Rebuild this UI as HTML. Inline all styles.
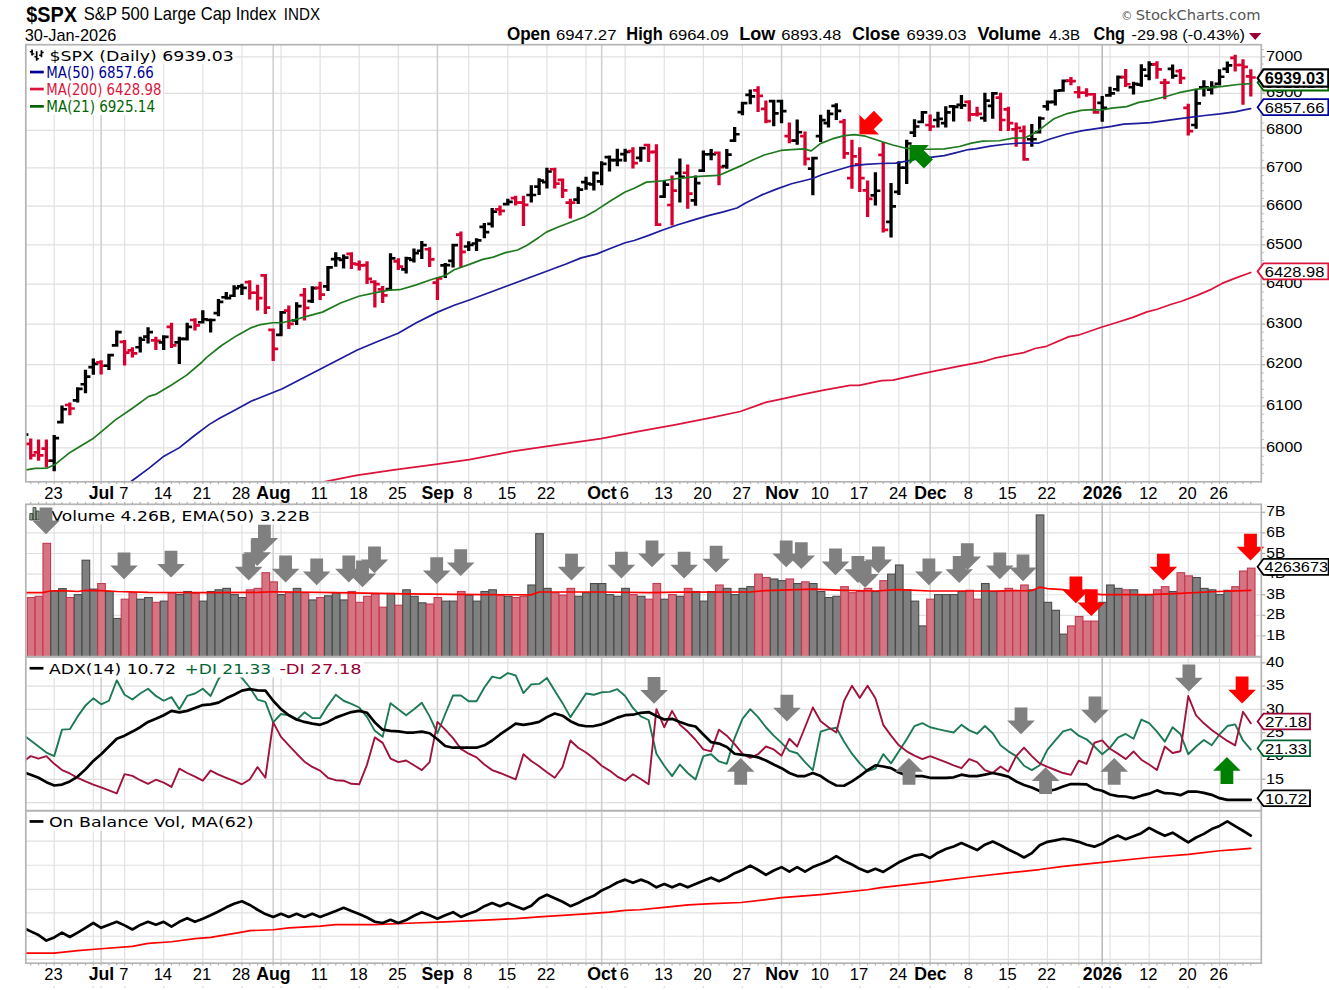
<!DOCTYPE html>
<html lang="en"><head><meta charset="utf-8"><title>$SPX S&amp;P 500 Large Cap Index - StockCharts.com</title>
<style>html,body{margin:0;padding:0;background:#fff}svg{display:block}</style></head>
<body>
<svg width="1329" height="990" viewBox="0 0 1329 990">
<rect x="0" y="0" width="1329" height="990" fill="#fff"/>
<g id="main">
<line x1="25.8" y1="447.88" x2="1261.3" y2="447.88" stroke="#e0e0e0" stroke-width="1.15"/>
<line x1="25.8" y1="405.95" x2="1261.3" y2="405.95" stroke="#e0e0e0" stroke-width="1.15"/>
<line x1="25.8" y1="364.69" x2="1261.3" y2="364.69" stroke="#e0e0e0" stroke-width="1.15"/>
<line x1="25.8" y1="324.1" x2="1261.3" y2="324.1" stroke="#e0e0e0" stroke-width="1.15"/>
<line x1="25.8" y1="284.15" x2="1261.3" y2="284.15" stroke="#e0e0e0" stroke-width="1.15"/>
<line x1="25.8" y1="244.81" x2="1261.3" y2="244.81" stroke="#e0e0e0" stroke-width="1.15"/>
<line x1="25.8" y1="206.08" x2="1261.3" y2="206.08" stroke="#e0e0e0" stroke-width="1.15"/>
<line x1="25.8" y1="167.93" x2="1261.3" y2="167.93" stroke="#e0e0e0" stroke-width="1.15"/>
<line x1="25.8" y1="130.34" x2="1261.3" y2="130.34" stroke="#e0e0e0" stroke-width="1.15"/>
<line x1="25.8" y1="93.3" x2="1261.3" y2="93.3" stroke="#e0e0e0" stroke-width="1.15"/>
<line x1="25.8" y1="56.8" x2="1261.3" y2="56.8" stroke="#e0e0e0" stroke-width="1.15"/>
<line x1="54.2" y1="44.7" x2="54.2" y2="481.8" stroke="#e0e0e0" stroke-width="1.15"/>
<line x1="93.31" y1="44.7" x2="93.31" y2="481.8" stroke="#e0e0e0" stroke-width="1.15"/>
<line x1="124.59" y1="44.7" x2="124.59" y2="481.8" stroke="#e0e0e0" stroke-width="1.15"/>
<line x1="163.69" y1="44.7" x2="163.69" y2="481.8" stroke="#e0e0e0" stroke-width="1.15"/>
<line x1="202.8" y1="44.7" x2="202.8" y2="481.8" stroke="#e0e0e0" stroke-width="1.15"/>
<line x1="241.9" y1="44.7" x2="241.9" y2="481.8" stroke="#e0e0e0" stroke-width="1.15"/>
<line x1="281.01" y1="44.7" x2="281.01" y2="481.8" stroke="#e0e0e0" stroke-width="1.15"/>
<line x1="320.11" y1="44.7" x2="320.11" y2="481.8" stroke="#e0e0e0" stroke-width="1.15"/>
<line x1="359.22" y1="44.7" x2="359.22" y2="481.8" stroke="#e0e0e0" stroke-width="1.15"/>
<line x1="398.32" y1="44.7" x2="398.32" y2="481.8" stroke="#e0e0e0" stroke-width="1.15"/>
<line x1="468.71" y1="44.7" x2="468.71" y2="481.8" stroke="#e0e0e0" stroke-width="1.15"/>
<line x1="507.82" y1="44.7" x2="507.82" y2="481.8" stroke="#e0e0e0" stroke-width="1.15"/>
<line x1="546.92" y1="44.7" x2="546.92" y2="481.8" stroke="#e0e0e0" stroke-width="1.15"/>
<line x1="586.03" y1="44.7" x2="586.03" y2="481.8" stroke="#e0e0e0" stroke-width="1.15"/>
<line x1="625.13" y1="44.7" x2="625.13" y2="481.8" stroke="#e0e0e0" stroke-width="1.15"/>
<line x1="664.24" y1="44.7" x2="664.24" y2="481.8" stroke="#e0e0e0" stroke-width="1.15"/>
<line x1="703.34" y1="44.7" x2="703.34" y2="481.8" stroke="#e0e0e0" stroke-width="1.15"/>
<line x1="742.45" y1="44.7" x2="742.45" y2="481.8" stroke="#e0e0e0" stroke-width="1.15"/>
<line x1="820.66" y1="44.7" x2="820.66" y2="481.8" stroke="#e0e0e0" stroke-width="1.15"/>
<line x1="859.76" y1="44.7" x2="859.76" y2="481.8" stroke="#e0e0e0" stroke-width="1.15"/>
<line x1="898.87" y1="44.7" x2="898.87" y2="481.8" stroke="#e0e0e0" stroke-width="1.15"/>
<line x1="969.26" y1="44.7" x2="969.26" y2="481.8" stroke="#e0e0e0" stroke-width="1.15"/>
<line x1="1008.36" y1="44.7" x2="1008.36" y2="481.8" stroke="#e0e0e0" stroke-width="1.15"/>
<line x1="1047.47" y1="44.7" x2="1047.47" y2="481.8" stroke="#e0e0e0" stroke-width="1.15"/>
<line x1="1078.75" y1="44.7" x2="1078.75" y2="481.8" stroke="#e0e0e0" stroke-width="1.15"/>
<line x1="1110.04" y1="44.7" x2="1110.04" y2="481.8" stroke="#e0e0e0" stroke-width="1.15"/>
<line x1="1149.14" y1="44.7" x2="1149.14" y2="481.8" stroke="#e0e0e0" stroke-width="1.15"/>
<line x1="1188.25" y1="44.7" x2="1188.25" y2="481.8" stroke="#e0e0e0" stroke-width="1.15"/>
<line x1="1219.53" y1="44.7" x2="1219.53" y2="481.8" stroke="#e0e0e0" stroke-width="1.15"/>
<line x1="101.13" y1="44.7" x2="101.13" y2="481.8" stroke="#cecece" stroke-width="1.5"/>
<line x1="273.19" y1="44.7" x2="273.19" y2="481.8" stroke="#cecece" stroke-width="1.5"/>
<line x1="437.43" y1="44.7" x2="437.43" y2="481.8" stroke="#cecece" stroke-width="1.5"/>
<line x1="601.67" y1="44.7" x2="601.67" y2="481.8" stroke="#cecece" stroke-width="1.5"/>
<line x1="781.55" y1="44.7" x2="781.55" y2="481.8" stroke="#cecece" stroke-width="1.5"/>
<line x1="930.15" y1="44.7" x2="930.15" y2="481.8" stroke="#cecece" stroke-width="1.5"/>
<line x1="1102.21" y1="44.7" x2="1102.21" y2="481.8" stroke="#b8b8b8" stroke-width="1.5"/>
<clipPath id="c1"><rect x="25.8" y="44.7" width="1235.5" height="437.1"/></clipPath>
<g clip-path="url(#c1)">
<path fill="#d8002f" d="M29.09 438.48h3.3v21.06h-3.3z M25.79 442.44h3.5v2.7h-3.5z M32.19 454.1h3.5v2.7h-3.5z"/>
<path fill="#d8002f" d="M36.91 439.55h3.3v21.21h-3.3z M33.61 451.07h3.5v2.7h-3.5z M40.01 454.1h3.5v2.7h-3.5z"/>
<path fill="#d8002f" d="M44.73 439.55h3.3v28.03h-3.3z M41.43 447.29h3.5v2.7h-3.5z M47.83 459.41h3.5v2.7h-3.5z"/>
<path fill="#000" d="M52.55 435h3.3v36.36h-3.3z M49.25 459.41h3.5v2.7h-3.5z M55.65 436.68h3.5v2.7h-3.5z"/>
<path fill="#000" d="M60.37 405.45h3.3v18.02h-3.3z M57.07 420.77h3.5v2.7h-3.5z M63.47 407.89h3.5v2.7h-3.5z"/>
<path fill="#d8002f" d="M68.19 402.42h3.3v12.88h-3.3z M64.89 403.65h3.5v2.7h-3.5z M71.29 407.13h3.5v2.7h-3.5z"/>
<path fill="#000" d="M76.01 387.27h3.3v15.15h-3.3z M72.71 399.1h3.5v2.7h-3.5z M79.11 387.44h3.5v2.7h-3.5z"/>
<path fill="#000" d="M83.83 369.85h3.3v23.48h-3.3z M80.53 382.89h3.5v2.7h-3.5z M86.93 375.32h3.5v2.7h-3.5z"/>
<path fill="#000" d="M91.66 358.48h3.3v16.21h-3.3z M88.36 365.77h3.5v2.7h-3.5z M94.76 362.44h3.5v2.7h-3.5z"/>
<path fill="#d8002f" d="M99.48 360.15h3.3v14.39h-3.3z M96.18 361.07h3.5v2.7h-3.5z M102.58 364.41h3.5v2.7h-3.5z"/>
<path fill="#000" d="M107.3 353.8h3.3v16.2h-3.3z M104 364.41h3.5v2.7h-3.5z M110.4 353.8h3.5v2.7h-3.5z"/>
<path fill="#000" d="M115.12 330.61h3.3v16.05h-3.3z M111.82 343.95h3.5v2.7h-3.5z M118.22 330.77h3.5v2.7h-3.5z"/>
<path fill="#d8002f" d="M122.94 340h3.3v25.45h-3.3z M119.64 340.62h3.5v2.7h-3.5z M126.04 351.23h3.5v2.7h-3.5z"/>
<path fill="#d8002f" d="M130.76 347.27h3.3v10.3h-3.3z M127.46 348.95h3.5v2.7h-3.5z M133.86 351.98h3.5v2.7h-3.5z"/>
<path fill="#000" d="M138.58 336.67h3.3v15.91h-3.3z M135.28 345.92h3.5v2.7h-3.5z M141.68 338.35h3.5v2.7h-3.5z"/>
<path fill="#000" d="M146.4 327.27h3.3v16.21h-3.3z M143.1 335.32h3.5v2.7h-3.5z M149.5 330.77h3.5v2.7h-3.5z"/>
<path fill="#d8002f" d="M154.22 336.67h3.3v13.33h-3.3z M150.92 339.1h3.5v2.7h-3.5z M157.32 339.56h3.5v2.7h-3.5z"/>
<path fill="#000" d="M162.04 335.15h3.3v14.85h-3.3z M158.74 341.07h3.5v2.7h-3.5z M165.14 335.62h3.5v2.7h-3.5z"/>
<path fill="#d8002f" d="M169.86 322.73h3.3v25.3h-3.3z M166.56 325.47h3.5v2.7h-3.5z M172.97 343.95h3.5v2.7h-3.5z"/>
<path fill="#000" d="M177.69 336.67h3.3v27.27h-3.3z M174.39 341.07h3.5v2.7h-3.5z M180.79 337.59h3.5v2.7h-3.5z"/>
<path fill="#000" d="M185.51 322.73h3.3v17.73h-3.3z M182.21 337.59h3.5v2.7h-3.5z M188.61 325.47h3.5v2.7h-3.5z"/>
<path fill="#d8002f" d="M193.33 318.18h3.3v12.42h-3.3z M190.03 318.65h3.5v2.7h-3.5z M196.43 323.95h3.5v2.7h-3.5z"/>
<path fill="#000" d="M201.15 310.15h3.3v13.47h-3.3z M197.85 320.92h3.5v2.7h-3.5z M204.25 317.89h3.5v2.7h-3.5z"/>
<path fill="#000" d="M208.97 318.48h3.3v13.94h-3.3z M205.67 318.65h3.5v2.7h-3.5z M212.07 318.65h3.5v2.7h-3.5z"/>
<path fill="#000" d="M216.79 299.09h3.3v17.12h-3.3z M213.49 311.83h3.5v2.7h-3.5z M219.89 300.47h3.5v2.7h-3.5z"/>
<path fill="#000" d="M224.61 291.97h3.3v7.58h-3.3z M221.31 295.92h3.5v2.7h-3.5z M227.71 296.68h3.5v2.7h-3.5z"/>
<path fill="#000" d="M232.43 285.15h3.3v11.96h-3.3z M229.13 294.41h3.5v2.7h-3.5z M235.53 286.83h3.5v2.7h-3.5z"/>
<path fill="#000" d="M240.25 283.64h3.3v11.36h-3.3z M236.95 285.01h3.5v2.7h-3.5z M243.35 286.53h3.5v2.7h-3.5z"/>
<path fill="#d8002f" d="M248.08 280.3h3.3v19.24h-3.3z M244.78 280.77h3.5v2.7h-3.5z M251.18 291.38h3.5v2.7h-3.5z"/>
<path fill="#d8002f" d="M255.9 284.85h3.3v25.76h-3.3z M252.6 291.38h3.5v2.7h-3.5z M259 296.68h3.5v2.7h-3.5z"/>
<path fill="#d8002f" d="M263.72 273.95h3.3v39.99h-3.3z M260.42 273.95h3.5v2.7h-3.5z M266.82 306.23h3.5v2.7h-3.5z"/>
<path fill="#d8002f" d="M271.54 328.5h3.3v32.41h-3.3z M268.24 328.5h3.5v2.7h-3.5z M274.64 347.44h3.5v2.7h-3.5z"/>
<path fill="#000" d="M279.36 311.07h3.3v25.12h-3.3z M276.06 333.5h3.5v2.7h-3.5z M282.46 311.07h3.5v2.7h-3.5z"/>
<path fill="#d8002f" d="M287.18 305.61h3.3v23.48h-3.3z M283.88 309.26h3.5v2.7h-3.5z M290.28 322.44h3.5v2.7h-3.5z"/>
<path fill="#000" d="M295 302.27h3.3v22.73h-3.3z M291.7 319.1h3.5v2.7h-3.5z M298.1 304.71h3.5v2.7h-3.5z"/>
<path fill="#d8002f" d="M302.82 287.88h3.3v32.58h-3.3z M299.52 293.8h3.5v2.7h-3.5z M305.92 306.53h3.5v2.7h-3.5z"/>
<path fill="#000" d="M310.64 286.36h3.3v16.67h-3.3z M307.34 299.86h3.5v2.7h-3.5z M313.74 286.83h3.5v2.7h-3.5z"/>
<path fill="#d8002f" d="M318.46 281.82h3.3v18.18h-3.3z M315.16 286.53h3.5v2.7h-3.5z M321.56 293.35h3.5v2.7h-3.5z"/>
<path fill="#000" d="M326.29 265.91h3.3v25h-3.3z M322.99 285.01h3.5v2.7h-3.5z M329.38 266.07h3.5v2.7h-3.5z"/>
<path fill="#000" d="M334.11 252.27h3.3v14.39h-3.3z M330.81 257.74h3.5v2.7h-3.5z M337.21 256.98h3.5v2.7h-3.5z"/>
<path fill="#000" d="M341.93 254.55h3.3v13.94h-3.3z M338.63 258.5h3.5v2.7h-3.5z M345.03 256.23h3.5v2.7h-3.5z"/>
<path fill="#d8002f" d="M349.75 252.27h3.3v16.67h-3.3z M346.45 252.44h3.5v2.7h-3.5z M352.85 262.29h3.5v2.7h-3.5z"/>
<path fill="#d8002f" d="M357.57 260.61h3.3v9.85h-3.3z M354.27 263.04h3.5v2.7h-3.5z M360.67 264.1h3.5v2.7h-3.5z"/>
<path fill="#d8002f" d="M365.39 261.36h3.3v22.73h-3.3z M362.09 263.8h3.5v2.7h-3.5z M368.49 277.44h3.5v2.7h-3.5z"/>
<path fill="#d8002f" d="M373.21 280.3h3.3v27.27h-3.3z M369.91 280.47h3.5v2.7h-3.5z M376.31 282.74h3.5v2.7h-3.5z"/>
<path fill="#d8002f" d="M381.03 286.06h3.3v16.97h-3.3z M377.73 288.04h3.5v2.7h-3.5z M384.13 294.1h3.5v2.7h-3.5z"/>
<path fill="#000" d="M388.85 253.33h3.3v37.11h-3.3z M385.55 287.74h3.5v2.7h-3.5z M391.95 256.98h3.5v2.7h-3.5z"/>
<path fill="#d8002f" d="M396.67 258.33h3.3v11.67h-3.3z M393.37 260.01h3.5v2.7h-3.5z M399.77 265.32h3.5v2.7h-3.5z"/>
<path fill="#000" d="M404.5 256.82h3.3v16.67h-3.3z M401.19 268.04h3.5v2.7h-3.5z M407.59 256.98h3.5v2.7h-3.5z"/>
<path fill="#000" d="M412.32 248.48h3.3v13.94h-3.3z M409.02 258.5h3.5v2.7h-3.5z M415.42 251.68h3.5v2.7h-3.5z"/>
<path fill="#000" d="M420.14 240.91h3.3v18.18h-3.3z M416.84 249.41h3.5v2.7h-3.5z M423.24 243.8h3.5v2.7h-3.5z"/>
<path fill="#d8002f" d="M427.96 247.27h3.3v19.7h-3.3z M424.66 247.89h3.5v2.7h-3.5z M431.06 258.04h3.5v2.7h-3.5z"/>
<path fill="#d8002f" d="M435.78 277.13h3.3v22.87h-3.3z M432.48 281.23h3.5v2.7h-3.5z M438.88 277.13h3.5v2.7h-3.5z"/>
<path fill="#000" d="M443.6 262.88h3.3v15.15h-3.3z M440.3 264.1h3.5v2.7h-3.5z M446.7 263.8h3.5v2.7h-3.5z"/>
<path fill="#000" d="M451.42 243.8h3.3v23.62h-3.3z M448.12 259.56h3.5v2.7h-3.5z M454.52 243.8h3.5v2.7h-3.5z"/>
<path fill="#d8002f" d="M459.24 231.52h3.3v35.91h-3.3z M455.94 233.2h3.5v2.7h-3.5z M462.34 250.47h3.5v2.7h-3.5z"/>
<path fill="#000" d="M467.06 241.21h3.3v9.85h-3.3z M463.76 245.17h3.5v2.7h-3.5z M470.16 243.65h3.5v2.7h-3.5z"/>
<path fill="#000" d="M474.88 238.18h3.3v12.88h-3.3z M471.58 242.13h3.5v2.7h-3.5z M477.98 239.1h3.5v2.7h-3.5z"/>
<path fill="#000" d="M482.7 223.03h3.3v15.15h-3.3z M479.4 225.47h3.5v2.7h-3.5z M485.8 230.77h3.5v2.7h-3.5z"/>
<path fill="#000" d="M490.53 207.88h3.3v19.7h-3.3z M487.23 222.44h3.5v2.7h-3.5z M493.63 210.32h3.5v2.7h-3.5z"/>
<path fill="#d8002f" d="M498.35 205.61h3.3v9.85h-3.3z M495.05 208.04h3.5v2.7h-3.5z M501.45 209.56h3.5v2.7h-3.5z"/>
<path fill="#000" d="M506.17 198.79h3.3v6.82h-3.3z M502.87 202.74h3.5v2.7h-3.5z M509.27 200.47h3.5v2.7h-3.5z"/>
<path fill="#d8002f" d="M513.99 195.76h3.3v9.85h-3.3z M510.69 196.68h3.5v2.7h-3.5z M517.09 201.23h3.5v2.7h-3.5z"/>
<path fill="#d8002f" d="M521.81 195.76h3.3v30.3h-3.3z M518.51 201.23h3.5v2.7h-3.5z M524.91 203.5h3.5v2.7h-3.5z"/>
<path fill="#000" d="M529.63 185.15h3.3v17.42h-3.3z M526.33 193.65h3.5v2.7h-3.5z M532.73 193.65h3.5v2.7h-3.5z"/>
<path fill="#000" d="M537.45 178.33h3.3v16.67h-3.3z M534.15 185.32h3.5v2.7h-3.5z M540.55 179.26h3.5v2.7h-3.5z"/>
<path fill="#000" d="M545.27 167.73h3.3v20.76h-3.3z M541.97 180.77h3.5v2.7h-3.5z M548.37 170.17h3.5v2.7h-3.5z"/>
<path fill="#d8002f" d="M553.09 167.73h3.3v20.76h-3.3z M549.79 167.89h3.5v2.7h-3.5z M556.19 182.29h3.5v2.7h-3.5z"/>
<path fill="#d8002f" d="M560.92 178.5h3.3v19.53h-3.3z M557.62 178.5h3.5v2.7h-3.5z M564.01 189.1h3.5v2.7h-3.5z"/>
<path fill="#d8002f" d="M568.74 198.79h3.3v19.7h-3.3z M565.44 201.23h3.5v2.7h-3.5z M571.84 201.23h3.5v2.7h-3.5z"/>
<path fill="#000" d="M576.56 186.67h3.3v17.42h-3.3z M573.26 198.2h3.5v2.7h-3.5z M579.66 188.35h3.5v2.7h-3.5z"/>
<path fill="#000" d="M584.38 176.82h3.3v12.88h-3.3z M581.08 180.77h3.5v2.7h-3.5z M587.48 182.29h3.5v2.7h-3.5z"/>
<path fill="#000" d="M592.2 171.52h3.3v18.94h-3.3z M588.9 183.04h3.5v2.7h-3.5z M595.3 171.68h3.5v2.7h-3.5z"/>
<path fill="#000" d="M600.02 161.21h3.3v23.94h-3.3z M596.72 180.01h3.5v2.7h-3.5z M603.12 162.59h3.5v2.7h-3.5z"/>
<path fill="#000" d="M607.84 155.61h3.3v15.91h-3.3z M604.54 155.77h3.5v2.7h-3.5z M610.94 158.8h3.5v2.7h-3.5z"/>
<path fill="#000" d="M615.66 148.79h3.3v17.42h-3.3z M612.36 158.8h3.5v2.7h-3.5z M618.76 158.8h3.5v2.7h-3.5z"/>
<path fill="#000" d="M623.48 148.79h3.3v12.88h-3.3z M620.18 152.74h3.5v2.7h-3.5z M626.58 150.47h3.5v2.7h-3.5z"/>
<path fill="#d8002f" d="M631.3 147.27h3.3v21.21h-3.3z M628 149.71h3.5v2.7h-3.5z M634.4 161.83h3.5v2.7h-3.5z"/>
<path fill="#000" d="M639.12 146.68h3.3v14.99h-3.3z M635.83 156.53h3.5v2.7h-3.5z M642.22 146.68h3.5v2.7h-3.5z"/>
<path fill="#d8002f" d="M646.95 143.65h3.3v18.47h-3.3z M643.65 143.65h3.5v2.7h-3.5z M650.05 150.77h3.5v2.7h-3.5z"/>
<path fill="#d8002f" d="M654.77 144.24h3.3v81.82h-3.3z M651.47 150.47h3.5v2.7h-3.5z M657.87 223.2h3.5v2.7h-3.5z"/>
<path fill="#000" d="M662.59 180.76h3.3v17.26h-3.3z M659.29 195.32h3.5v2.7h-3.5z M665.69 183.2h3.5v2.7h-3.5z"/>
<path fill="#d8002f" d="M670.41 175.45h3.3v50h-3.3z M667.11 203.65h3.5v2.7h-3.5z M673.51 189.26h3.5v2.7h-3.5z"/>
<path fill="#000" d="M678.23 158.48h3.3v43.94h-3.3z M674.93 171.83h3.5v2.7h-3.5z M681.33 175.62h3.5v2.7h-3.5z"/>
<path fill="#d8002f" d="M686.05 164.55h3.3v44.24h-3.3z M682.75 171.38h3.5v2.7h-3.5z M689.15 192.29h3.5v2.7h-3.5z"/>
<path fill="#000" d="M693.87 175.45h3.3v30.3h-3.3z M690.57 199.1h3.5v2.7h-3.5z M696.97 181.68h3.5v2.7h-3.5z"/>
<path fill="#000" d="M701.69 150.45h3.3v21.5h-3.3z M698.39 169.26h3.5v2.7h-3.5z M704.79 152.89h3.5v2.7h-3.5z"/>
<path fill="#000" d="M709.51 148.94h3.3v11.36h-3.3z M706.21 152.89h3.5v2.7h-3.5z M712.61 152.89h3.5v2.7h-3.5z"/>
<path fill="#d8002f" d="M717.34 151.38h3.3v33.93h-3.3z M714.04 151.38h3.5v2.7h-3.5z M720.43 165.77h3.5v2.7h-3.5z"/>
<path fill="#000" d="M725.16 148.94h3.3v19.7h-3.3z M721.86 164.71h3.5v2.7h-3.5z M728.26 153.2h3.5v2.7h-3.5z"/>
<path fill="#000" d="M732.98 126.97h3.3v14.99h-3.3z M729.68 139.26h3.5v2.7h-3.5z M736.08 132.89h3.5v2.7h-3.5z"/>
<path fill="#000" d="M740.8 101.68h3.3v13.47h-3.3z M737.5 110.77h3.5v2.7h-3.5z M743.9 101.68h3.5v2.7h-3.5z"/>
<path fill="#000" d="M748.62 89.39h3.3v14.85h-3.3z M745.32 93.5h3.5v2.7h-3.5z M751.72 95.01h3.5v2.7h-3.5z"/>
<path fill="#d8002f" d="M756.44 86.36h3.3v25.76h-3.3z M753.14 88.95h3.5v2.7h-3.5z M759.54 94.56h3.5v2.7h-3.5z"/>
<path fill="#d8002f" d="M764.26 100.45h3.3v22.73h-3.3z M760.96 107.44h3.5v2.7h-3.5z M767.36 119.86h3.5v2.7h-3.5z"/>
<path fill="#000" d="M772.08 99.86h3.3v26.35h-3.3z M768.78 99.86h3.5v2.7h-3.5z M775.18 111.98h3.5v2.7h-3.5z"/>
<path fill="#000" d="M779.9 99.86h3.3v23.32h-3.3z M776.6 99.86h3.5v2.7h-3.5z M783 109.71h3.5v2.7h-3.5z"/>
<path fill="#d8002f" d="M787.72 122.42h3.3v20.91h-3.3z M784.42 134.71h3.5v2.7h-3.5z M790.82 139.26h3.5v2.7h-3.5z"/>
<path fill="#000" d="M795.55 119.39h3.3v25.45h-3.3z M792.25 139.26h3.5v2.7h-3.5z M798.64 130.92h3.5v2.7h-3.5z"/>
<path fill="#d8002f" d="M803.37 131.52h3.3v34.09h-3.3z M800.07 134.71h3.5v2.7h-3.5z M806.47 157.44h3.5v2.7h-3.5z"/>
<path fill="#000" d="M811.19 156.68h3.3v38.47h-3.3z M807.89 167.29h3.5v2.7h-3.5z M814.29 156.68h3.5v2.7h-3.5z"/>
<path fill="#000" d="M819.01 114.85h3.3v27.27h-3.3z M815.71 134.71h3.5v2.7h-3.5z M822.11 118.8h3.5v2.7h-3.5z"/>
<path fill="#000" d="M826.83 109.85h3.3v17.73h-3.3z M823.53 121.68h3.5v2.7h-3.5z M829.93 112.59h3.5v2.7h-3.5z"/>
<path fill="#000" d="M834.65 103.33h3.3v16.67h-3.3z M831.35 104.56h3.5v2.7h-3.5z M837.75 109.56h3.5v2.7h-3.5z"/>
<path fill="#d8002f" d="M842.47 118.94h3.3v39.7h-3.3z M839.17 120.62h3.5v2.7h-3.5z M845.57 151.98h3.5v2.7h-3.5z"/>
<path fill="#d8002f" d="M850.29 139.7h3.3v48.94h-3.3z M846.99 176.68h3.5v2.7h-3.5z M853.39 155.01h3.5v2.7h-3.5z"/>
<path fill="#d8002f" d="M858.11 147.27h3.3v44.7h-3.3z M854.81 163.04h3.5v2.7h-3.5z M861.21 176.68h3.5v2.7h-3.5z"/>
<path fill="#d8002f" d="M865.93 180.61h3.3v36.36h-3.3z M862.63 189.1h3.5v2.7h-3.5z M869.03 197.44h3.5v2.7h-3.5z"/>
<path fill="#000" d="M873.75 172.27h3.3v33.33h-3.3z M870.46 193.95h3.5v2.7h-3.5z M876.85 189.41h3.5v2.7h-3.5z"/>
<path fill="#d8002f" d="M881.58 141.97h3.3v90.61h-3.3z M878.28 153.5h3.5v2.7h-3.5z M884.68 228.5h3.5v2.7h-3.5z"/>
<path fill="#000" d="M889.4 182.88h3.3v54.55h-3.3z M886.1 220.62h3.5v2.7h-3.5z M892.5 205.01h3.5v2.7h-3.5z"/>
<path fill="#000" d="M897.22 161.36h3.3v33.64h-3.3z M893.92 190.62h3.5v2.7h-3.5z M900.32 166.38h3.5v2.7h-3.5z"/>
<path fill="#000" d="M905.04 139.7h3.3v44.39h-3.3z M901.74 166.38h3.5v2.7h-3.5z M908.14 142.13h3.5v2.7h-3.5z"/>
<path fill="#000" d="M912.86 119.24h3.3v17.88h-3.3z M909.56 131.23h3.5v2.7h-3.5z M915.96 125.17h3.5v2.7h-3.5z"/>
<path fill="#000" d="M920.68 111.07h3.3v12.25h-3.3z M917.38 120.62h3.5v2.7h-3.5z M923.78 111.07h3.5v2.7h-3.5z"/>
<path fill="#d8002f" d="M928.5 114.39h3.3v16.67h-3.3z M925.2 123.65h3.5v2.7h-3.5z M931.6 125.17h3.5v2.7h-3.5z"/>
<path fill="#000" d="M936.32 111.67h3.3v15.91h-3.3z M933.02 118.65h3.5v2.7h-3.5z M939.42 117.59h3.5v2.7h-3.5z"/>
<path fill="#000" d="M944.14 106.36h3.3v21.21h-3.3z M940.84 121.68h3.5v2.7h-3.5z M947.24 111.07h3.5v2.7h-3.5z"/>
<path fill="#000" d="M951.97 105.01h3.3v16.5h-3.3z M948.67 105.01h3.5v2.7h-3.5z M955.06 105.47h3.5v2.7h-3.5z"/>
<path fill="#000" d="M959.79 95h3.3v13.94h-3.3z M956.49 103.5h3.5v2.7h-3.5z M962.89 103.95h3.5v2.7h-3.5z"/>
<path fill="#d8002f" d="M967.61 100.3h3.3v21.21h-3.3z M964.31 100.47h3.5v2.7h-3.5z M970.71 113.04h3.5v2.7h-3.5z"/>
<path fill="#d8002f" d="M975.43 106.82h3.3v9.7h-3.3z M972.13 113.04h3.5v2.7h-3.5z M978.53 112.59h3.5v2.7h-3.5z"/>
<path fill="#000" d="M983.25 92.73h3.3v29.09h-3.3z M979.95 116.68h3.5v2.7h-3.5z M986.35 99.26h3.5v2.7h-3.5z"/>
<path fill="#000" d="M991.07 91.98h3.3v26.8h-3.3z M987.77 104.56h3.5v2.7h-3.5z M994.17 91.98h3.5v2.7h-3.5z"/>
<path fill="#d8002f" d="M998.89 92.73h3.3v38.18h-3.3z M995.59 96.23h3.5v2.7h-3.5z M1001.99 118.65h3.5v2.7h-3.5z"/>
<path fill="#d8002f" d="M1006.71 106.67h3.3v24.24h-3.3z M1003.41 108.04h3.5v2.7h-3.5z M1009.81 121.68h3.5v2.7h-3.5z"/>
<path fill="#d8002f" d="M1014.53 122.58h3.3v24.24h-3.3z M1011.23 128.04h3.5v2.7h-3.5z M1017.63 126.53h3.5v2.7h-3.5z"/>
<path fill="#d8002f" d="M1022.35 125.61h3.3v35.14h-3.3z M1019.05 129.56h3.5v2.7h-3.5z M1025.45 158.04h3.5v2.7h-3.5z"/>
<path fill="#000" d="M1030.17 124.09h3.3v22.73h-3.3z M1026.88 137.89h3.5v2.7h-3.5z M1033.28 137.89h3.5v2.7h-3.5z"/>
<path fill="#000" d="M1038 116.52h3.3v16.96h-3.3z M1034.7 130.77h3.5v2.7h-3.5z M1041.1 117.13h3.5v2.7h-3.5z"/>
<path fill="#000" d="M1045.82 100.61h3.3v9.85h-3.3z M1042.52 105.01h3.5v2.7h-3.5z M1048.92 100.77h3.5v2.7h-3.5z"/>
<path fill="#000" d="M1053.64 89.41h3.3v16.05h-3.3z M1050.34 100.47h3.5v2.7h-3.5z M1056.74 89.41h3.5v2.7h-3.5z"/>
<path fill="#000" d="M1061.46 79.56h3.3v12.09h-3.3z M1058.16 88.95h3.5v2.7h-3.5z M1064.56 79.56h3.5v2.7h-3.5z"/>
<path fill="#d8002f" d="M1069.28 77.12h3.3v8.03h-3.3z M1065.98 79.26h3.5v2.7h-3.5z M1072.38 79.86h3.5v2.7h-3.5z"/>
<path fill="#d8002f" d="M1077.1 86.21h3.3v12.12h-3.3z M1073.8 90.92h3.5v2.7h-3.5z M1080.2 91.38h3.5v2.7h-3.5z"/>
<path fill="#d8002f" d="M1084.92 88.18h3.3v8.64h-3.3z M1081.62 91.38h3.5v2.7h-3.5z M1088.02 92.89h3.5v2.7h-3.5z"/>
<path fill="#d8002f" d="M1092.74 92.89h3.3v20.88h-3.3z M1089.44 92.89h3.5v2.7h-3.5z M1095.84 111.07h3.5v2.7h-3.5z"/>
<path fill="#000" d="M1100.56 96.06h3.3v25.76h-3.3z M1097.26 101.53h3.5v2.7h-3.5z M1103.66 106.53h3.5v2.7h-3.5z"/>
<path fill="#000" d="M1108.38 86.67h3.3v9.99h-3.3z M1105.09 93.95h3.5v2.7h-3.5z M1111.49 91.98h3.5v2.7h-3.5z"/>
<path fill="#000" d="M1116.21 75.61h3.3v15.91h-3.3z M1112.91 87.89h3.5v2.7h-3.5z M1119.31 75.77h3.5v2.7h-3.5z"/>
<path fill="#d8002f" d="M1124.03 69.09h3.3v17.88h-3.3z M1120.73 75.77h3.5v2.7h-3.5z M1127.13 82.89h3.5v2.7h-3.5z"/>
<path fill="#000" d="M1131.85 81.67h3.3v12.88h-3.3z M1128.55 85.92h3.5v2.7h-3.5z M1134.95 82.59h3.5v2.7h-3.5z"/>
<path fill="#000" d="M1139.67 64.24h3.3v22.42h-3.3z M1136.37 83.35h3.5v2.7h-3.5z M1142.77 68.2h3.5v2.7h-3.5z"/>
<path fill="#000" d="M1147.49 61.36h3.3v18.94h-3.3z M1144.19 74.41h3.5v2.7h-3.5z M1150.59 63.04h3.5v2.7h-3.5z"/>
<path fill="#d8002f" d="M1155.31 61.36h3.3v17.42h-3.3z M1152.01 63.04h3.5v2.7h-3.5z M1158.41 68.04h3.5v2.7h-3.5z"/>
<path fill="#d8002f" d="M1163.13 78.79h3.3v20.45h-3.3z M1159.83 81.23h3.5v2.7h-3.5z M1166.23 81.23h3.5v2.7h-3.5z"/>
<path fill="#000" d="M1170.95 64.39h3.3v14.39h-3.3z M1167.65 67.59h3.5v2.7h-3.5z M1174.05 74.41h3.5v2.7h-3.5z"/>
<path fill="#d8002f" d="M1178.77 68.94h3.3v15.15h-3.3z M1175.47 69.86h3.5v2.7h-3.5z M1181.87 76.68h3.5v2.7h-3.5z"/>
<path fill="#d8002f" d="M1186.6 103.79h3.3v31.82h-3.3z M1183.3 106.53h3.5v2.7h-3.5z M1189.7 129.71h3.5v2.7h-3.5z"/>
<path fill="#000" d="M1194.42 88.64h3.3v40.15h-3.3z M1191.12 123.65h3.5v2.7h-3.5z M1197.52 101.98h3.5v2.7h-3.5z"/>
<path fill="#000" d="M1202.24 80.15h3.3v16.29h-3.3z M1198.94 86h3.5v2.7h-3.5z M1205.34 86h3.5v2.7h-3.5z"/>
<path fill="#000" d="M1210.06 81.29h3.3v13.26h-3.3z M1206.76 88.27h3.5v2.7h-3.5z M1213.16 85.62h3.5v2.7h-3.5z"/>
<path fill="#000" d="M1217.88 69.17h3.3v16.29h-3.3z M1214.58 82.59h3.5v2.7h-3.5z M1220.98 75.39h3.5v2.7h-3.5z"/>
<path fill="#000" d="M1225.7 61.59h3.3v11.36h-3.3z M1222.4 67.44h3.5v2.7h-3.5z M1228.8 64.03h3.5v2.7h-3.5z"/>
<path fill="#d8002f" d="M1233.52 54.77h3.3v16.67h-3.3z M1230.22 56.45h3.5v2.7h-3.5z M1236.62 63.65h3.5v2.7h-3.5z"/>
<path fill="#d8002f" d="M1241.34 59.32h3.3v45.45h-3.3z M1238.04 63.65h3.5v2.7h-3.5z M1244.44 65.54h3.5v2.7h-3.5z"/>
<path fill="#d8002f" d="M1249.16 69.17h3.3v27.27h-3.3z M1245.86 75.01h3.5v2.7h-3.5z M1252.26 76.15h3.5v2.7h-3.5z"/>
<rect x="25.8" y="433.2" width="2.6" height="2.7" fill="#000"/>
<polyline fill="none" stroke="#dc143c" stroke-width="1.7" stroke-linejoin="round" stroke-linecap="round" points="317,483 322.6,482.2 356.4,475.4 394,469.8 437.3,464.2 469.3,459.6 510.7,451.7 548.3,446.1 601,438.6 638.6,431.4 676.2,424.6 713.8,417.1 740.2,411.5 766.5,402.1 780,399.3 802.6,394.4 825.1,389.8 850,385.3 859,385.3 881.6,380.6 892.9,380.1 915.4,375.2 938,370.4 960.6,365.9 983.2,361.6 994.4,358.2 1023.8,352.6 1035,348.5 1046.4,346.3 1069,336.6 1078.2,335.2 1100.5,327.5 1116.7,322.5 1132.9,317.4 1147,311.9 1157.2,309.3 1171.3,304.3 1181.5,301.2 1197.7,295.1 1211.8,289.1 1222,283.4 1236.1,277.9 1250.7,272.5"/>
<polyline fill="none" stroke="#1c1c9c" stroke-width="1.7" stroke-linejoin="round" stroke-linecap="round" points="131.36,481.21 148.79,468.33 163.94,456.21 179.09,447.88 194.24,435.76 209.39,424.39 220,418.03 233.33,410.91 251.52,401.06 266.67,395 281.82,388.94 357.27,350 376.97,341.67 398.18,333.33 416.36,322.73 437.58,312.12 454.24,305.3 469.39,300 566.06,263.94 581.21,257.88 596.36,254.09 611.52,248.03 625.15,242.73 634.24,240.45 649.39,235.15 662.73,230 677.88,224.7 693.03,220.15 708.18,215.61 723.33,211.82 736.97,208.03 746.06,202.73 761.21,195.15 776.36,189.09 791.52,183.79 806.67,180 812.73,178.48 821.82,174.7 835.15,170.76 850.3,166.21 865.45,164.39 880.61,163.48 895.76,163.18 907.88,160.91 918.48,158.64 932.12,157.12 944.24,155.61 956.36,152.58 968.48,149.55 975.15,148.79 990.3,146.06 1005.45,144.24 1020.61,143.03 1038.79,143.03 1050.91,138.79 1066.06,134.24 1081.21,130.91 1096.36,128.64 1111.52,126.36 1123.64,124.09 1138.79,123.33 1150.91,122.58 1174.5,119.4 1189.6,117.4 1204.8,115.5 1219.9,113.9 1235,111.8 1244.2,109.8 1250.7,108.6"/>
<polyline fill="none" stroke="#1f7a1f" stroke-width="1.7" stroke-linejoin="round" stroke-linecap="round" points="25.8,469.6 26.06,469.85 35.15,468.33 47.27,468.03 54.85,464.55 70,452.42 92.73,438.79 115.45,419.85 132.12,408.48 148.79,396.36 156.36,394.09 171.52,385 186.67,375.15 201.82,362.27 206.06,357.88 221.21,345.76 236.36,335.91 251.52,327.58 260.61,324.55 272.73,322.73 281.82,322.73 295.15,319.7 305.76,316.67 322.42,312.12 340.61,303.03 358.79,296.21 376.97,292.42 389.09,290.15 399.7,289.7 416.36,284.85 431.52,279.55 445.15,275.45 454.24,269.7 469.39,264.39 482.73,259.39 493.33,257.12 505.45,252.58 517.58,250 526.67,245.45 538.79,237.42 546.36,232.12 556.97,227.58 570.61,222.27 584.24,216.97 596.36,210.15 611.52,200.3 625.15,191.97 634.24,188.18 646.36,182.12 656.97,181.36 662.73,180.76 677.88,178.48 693.03,176.97 703.64,176.21 718.79,175.45 730.91,170.15 743.03,164.85 752.12,160.3 764.24,155 780.91,150.45 791.52,149.7 803.64,148.94 811.21,150.91 820.3,143.64 832.12,138.94 844.24,135.61 854.85,134.7 865.45,136.21 880.61,141.21 892.73,145 904.85,148.03 916.97,149.24 929.09,149.24 944.24,148.79 959.39,146.52 971.52,143.18 982.73,141.21 999.39,140.76 1013.03,138.18 1025.15,137.73 1035.76,132.42 1044.85,125.61 1053.94,118.79 1066.06,113.94 1081.21,110.45 1091.82,109.7 1102.42,110 1111.52,108.18 1126.67,106.67 1138.79,102.42 1149.39,100.61 1166.9,96.2 1179,92.7 1195.7,89.4 1207.8,87.9 1222.9,86.4 1238,84.5 1250.7,83.6"/>
</g>
<polygon fill="#ff0000" points="859.49,134.31 845.69,120.61 853.09,120.61 853.09,107.51 865.89,107.51 865.89,120.61 873.29,120.61" transform="rotate(45 859.49 134.31)"/>
<polygon fill="#008000" points="909.49,145.09 895.69,131.39 903.09,131.39 903.09,118.29 915.89,118.29 915.89,131.39 923.29,131.39" transform="rotate(135 909.49 145.09)"/>
<rect x="25.8" y="44.7" width="1235.5" height="437.1" fill="none" stroke="#b4b4b4" stroke-width="1.7"/>
<line x1="30.74" y1="481.8" x2="30.74" y2="484" stroke="#b0b0b0" stroke-width="1.2"/>
<line x1="38.56" y1="481.8" x2="38.56" y2="484" stroke="#b0b0b0" stroke-width="1.2"/>
<line x1="46.38" y1="481.8" x2="46.38" y2="484" stroke="#b0b0b0" stroke-width="1.2"/>
<line x1="54.2" y1="481.8" x2="54.2" y2="484" stroke="#b0b0b0" stroke-width="1.2"/>
<line x1="62.02" y1="481.8" x2="62.02" y2="484" stroke="#b0b0b0" stroke-width="1.2"/>
<line x1="69.84" y1="481.8" x2="69.84" y2="484" stroke="#b0b0b0" stroke-width="1.2"/>
<line x1="77.66" y1="481.8" x2="77.66" y2="484" stroke="#b0b0b0" stroke-width="1.2"/>
<line x1="85.48" y1="481.8" x2="85.48" y2="484" stroke="#b0b0b0" stroke-width="1.2"/>
<line x1="93.31" y1="481.8" x2="93.31" y2="484" stroke="#b0b0b0" stroke-width="1.2"/>
<line x1="101.13" y1="481.8" x2="101.13" y2="484" stroke="#b0b0b0" stroke-width="1.2"/>
<line x1="108.95" y1="481.8" x2="108.95" y2="484" stroke="#b0b0b0" stroke-width="1.2"/>
<line x1="116.77" y1="481.8" x2="116.77" y2="484" stroke="#b0b0b0" stroke-width="1.2"/>
<line x1="124.59" y1="481.8" x2="124.59" y2="484" stroke="#b0b0b0" stroke-width="1.2"/>
<line x1="132.41" y1="481.8" x2="132.41" y2="484" stroke="#b0b0b0" stroke-width="1.2"/>
<line x1="140.23" y1="481.8" x2="140.23" y2="484" stroke="#b0b0b0" stroke-width="1.2"/>
<line x1="148.05" y1="481.8" x2="148.05" y2="484" stroke="#b0b0b0" stroke-width="1.2"/>
<line x1="155.87" y1="481.8" x2="155.87" y2="484" stroke="#b0b0b0" stroke-width="1.2"/>
<line x1="163.69" y1="481.8" x2="163.69" y2="484" stroke="#b0b0b0" stroke-width="1.2"/>
<line x1="171.51" y1="481.8" x2="171.51" y2="484" stroke="#b0b0b0" stroke-width="1.2"/>
<line x1="179.34" y1="481.8" x2="179.34" y2="484" stroke="#b0b0b0" stroke-width="1.2"/>
<line x1="187.16" y1="481.8" x2="187.16" y2="484" stroke="#b0b0b0" stroke-width="1.2"/>
<line x1="194.98" y1="481.8" x2="194.98" y2="484" stroke="#b0b0b0" stroke-width="1.2"/>
<line x1="202.8" y1="481.8" x2="202.8" y2="484" stroke="#b0b0b0" stroke-width="1.2"/>
<line x1="210.62" y1="481.8" x2="210.62" y2="484" stroke="#b0b0b0" stroke-width="1.2"/>
<line x1="218.44" y1="481.8" x2="218.44" y2="484" stroke="#b0b0b0" stroke-width="1.2"/>
<line x1="226.26" y1="481.8" x2="226.26" y2="484" stroke="#b0b0b0" stroke-width="1.2"/>
<line x1="234.08" y1="481.8" x2="234.08" y2="484" stroke="#b0b0b0" stroke-width="1.2"/>
<line x1="241.9" y1="481.8" x2="241.9" y2="484" stroke="#b0b0b0" stroke-width="1.2"/>
<line x1="249.73" y1="481.8" x2="249.73" y2="484" stroke="#b0b0b0" stroke-width="1.2"/>
<line x1="257.55" y1="481.8" x2="257.55" y2="484" stroke="#b0b0b0" stroke-width="1.2"/>
<line x1="265.37" y1="481.8" x2="265.37" y2="484" stroke="#b0b0b0" stroke-width="1.2"/>
<line x1="273.19" y1="481.8" x2="273.19" y2="484" stroke="#b0b0b0" stroke-width="1.2"/>
<line x1="281.01" y1="481.8" x2="281.01" y2="484" stroke="#b0b0b0" stroke-width="1.2"/>
<line x1="288.83" y1="481.8" x2="288.83" y2="484" stroke="#b0b0b0" stroke-width="1.2"/>
<line x1="296.65" y1="481.8" x2="296.65" y2="484" stroke="#b0b0b0" stroke-width="1.2"/>
<line x1="304.47" y1="481.8" x2="304.47" y2="484" stroke="#b0b0b0" stroke-width="1.2"/>
<line x1="312.29" y1="481.8" x2="312.29" y2="484" stroke="#b0b0b0" stroke-width="1.2"/>
<line x1="320.11" y1="481.8" x2="320.11" y2="484" stroke="#b0b0b0" stroke-width="1.2"/>
<line x1="327.94" y1="481.8" x2="327.94" y2="484" stroke="#b0b0b0" stroke-width="1.2"/>
<line x1="335.76" y1="481.8" x2="335.76" y2="484" stroke="#b0b0b0" stroke-width="1.2"/>
<line x1="343.58" y1="481.8" x2="343.58" y2="484" stroke="#b0b0b0" stroke-width="1.2"/>
<line x1="351.4" y1="481.8" x2="351.4" y2="484" stroke="#b0b0b0" stroke-width="1.2"/>
<line x1="359.22" y1="481.8" x2="359.22" y2="484" stroke="#b0b0b0" stroke-width="1.2"/>
<line x1="367.04" y1="481.8" x2="367.04" y2="484" stroke="#b0b0b0" stroke-width="1.2"/>
<line x1="374.86" y1="481.8" x2="374.86" y2="484" stroke="#b0b0b0" stroke-width="1.2"/>
<line x1="382.68" y1="481.8" x2="382.68" y2="484" stroke="#b0b0b0" stroke-width="1.2"/>
<line x1="390.5" y1="481.8" x2="390.5" y2="484" stroke="#b0b0b0" stroke-width="1.2"/>
<line x1="398.32" y1="481.8" x2="398.32" y2="484" stroke="#b0b0b0" stroke-width="1.2"/>
<line x1="406.14" y1="481.8" x2="406.14" y2="484" stroke="#b0b0b0" stroke-width="1.2"/>
<line x1="413.97" y1="481.8" x2="413.97" y2="484" stroke="#b0b0b0" stroke-width="1.2"/>
<line x1="421.79" y1="481.8" x2="421.79" y2="484" stroke="#b0b0b0" stroke-width="1.2"/>
<line x1="429.61" y1="481.8" x2="429.61" y2="484" stroke="#b0b0b0" stroke-width="1.2"/>
<line x1="437.43" y1="481.8" x2="437.43" y2="484" stroke="#b0b0b0" stroke-width="1.2"/>
<line x1="445.25" y1="481.8" x2="445.25" y2="484" stroke="#b0b0b0" stroke-width="1.2"/>
<line x1="453.07" y1="481.8" x2="453.07" y2="484" stroke="#b0b0b0" stroke-width="1.2"/>
<line x1="460.89" y1="481.8" x2="460.89" y2="484" stroke="#b0b0b0" stroke-width="1.2"/>
<line x1="468.71" y1="481.8" x2="468.71" y2="484" stroke="#b0b0b0" stroke-width="1.2"/>
<line x1="476.53" y1="481.8" x2="476.53" y2="484" stroke="#b0b0b0" stroke-width="1.2"/>
<line x1="484.35" y1="481.8" x2="484.35" y2="484" stroke="#b0b0b0" stroke-width="1.2"/>
<line x1="492.18" y1="481.8" x2="492.18" y2="484" stroke="#b0b0b0" stroke-width="1.2"/>
<line x1="500" y1="481.8" x2="500" y2="484" stroke="#b0b0b0" stroke-width="1.2"/>
<line x1="507.82" y1="481.8" x2="507.82" y2="484" stroke="#b0b0b0" stroke-width="1.2"/>
<line x1="515.64" y1="481.8" x2="515.64" y2="484" stroke="#b0b0b0" stroke-width="1.2"/>
<line x1="523.46" y1="481.8" x2="523.46" y2="484" stroke="#b0b0b0" stroke-width="1.2"/>
<line x1="531.28" y1="481.8" x2="531.28" y2="484" stroke="#b0b0b0" stroke-width="1.2"/>
<line x1="539.1" y1="481.8" x2="539.1" y2="484" stroke="#b0b0b0" stroke-width="1.2"/>
<line x1="546.92" y1="481.8" x2="546.92" y2="484" stroke="#b0b0b0" stroke-width="1.2"/>
<line x1="554.74" y1="481.8" x2="554.74" y2="484" stroke="#b0b0b0" stroke-width="1.2"/>
<line x1="562.57" y1="481.8" x2="562.57" y2="484" stroke="#b0b0b0" stroke-width="1.2"/>
<line x1="570.39" y1="481.8" x2="570.39" y2="484" stroke="#b0b0b0" stroke-width="1.2"/>
<line x1="578.21" y1="481.8" x2="578.21" y2="484" stroke="#b0b0b0" stroke-width="1.2"/>
<line x1="586.03" y1="481.8" x2="586.03" y2="484" stroke="#b0b0b0" stroke-width="1.2"/>
<line x1="593.85" y1="481.8" x2="593.85" y2="484" stroke="#b0b0b0" stroke-width="1.2"/>
<line x1="601.67" y1="481.8" x2="601.67" y2="484" stroke="#b0b0b0" stroke-width="1.2"/>
<line x1="609.49" y1="481.8" x2="609.49" y2="484" stroke="#b0b0b0" stroke-width="1.2"/>
<line x1="617.31" y1="481.8" x2="617.31" y2="484" stroke="#b0b0b0" stroke-width="1.2"/>
<line x1="625.13" y1="481.8" x2="625.13" y2="484" stroke="#b0b0b0" stroke-width="1.2"/>
<line x1="632.95" y1="481.8" x2="632.95" y2="484" stroke="#b0b0b0" stroke-width="1.2"/>
<line x1="640.77" y1="481.8" x2="640.77" y2="484" stroke="#b0b0b0" stroke-width="1.2"/>
<line x1="648.6" y1="481.8" x2="648.6" y2="484" stroke="#b0b0b0" stroke-width="1.2"/>
<line x1="656.42" y1="481.8" x2="656.42" y2="484" stroke="#b0b0b0" stroke-width="1.2"/>
<line x1="664.24" y1="481.8" x2="664.24" y2="484" stroke="#b0b0b0" stroke-width="1.2"/>
<line x1="672.06" y1="481.8" x2="672.06" y2="484" stroke="#b0b0b0" stroke-width="1.2"/>
<line x1="679.88" y1="481.8" x2="679.88" y2="484" stroke="#b0b0b0" stroke-width="1.2"/>
<line x1="687.7" y1="481.8" x2="687.7" y2="484" stroke="#b0b0b0" stroke-width="1.2"/>
<line x1="695.52" y1="481.8" x2="695.52" y2="484" stroke="#b0b0b0" stroke-width="1.2"/>
<line x1="703.34" y1="481.8" x2="703.34" y2="484" stroke="#b0b0b0" stroke-width="1.2"/>
<line x1="711.16" y1="481.8" x2="711.16" y2="484" stroke="#b0b0b0" stroke-width="1.2"/>
<line x1="718.99" y1="481.8" x2="718.99" y2="484" stroke="#b0b0b0" stroke-width="1.2"/>
<line x1="726.81" y1="481.8" x2="726.81" y2="484" stroke="#b0b0b0" stroke-width="1.2"/>
<line x1="734.63" y1="481.8" x2="734.63" y2="484" stroke="#b0b0b0" stroke-width="1.2"/>
<line x1="742.45" y1="481.8" x2="742.45" y2="484" stroke="#b0b0b0" stroke-width="1.2"/>
<line x1="750.27" y1="481.8" x2="750.27" y2="484" stroke="#b0b0b0" stroke-width="1.2"/>
<line x1="758.09" y1="481.8" x2="758.09" y2="484" stroke="#b0b0b0" stroke-width="1.2"/>
<line x1="765.91" y1="481.8" x2="765.91" y2="484" stroke="#b0b0b0" stroke-width="1.2"/>
<line x1="773.73" y1="481.8" x2="773.73" y2="484" stroke="#b0b0b0" stroke-width="1.2"/>
<line x1="781.55" y1="481.8" x2="781.55" y2="484" stroke="#b0b0b0" stroke-width="1.2"/>
<line x1="789.37" y1="481.8" x2="789.37" y2="484" stroke="#b0b0b0" stroke-width="1.2"/>
<line x1="797.2" y1="481.8" x2="797.2" y2="484" stroke="#b0b0b0" stroke-width="1.2"/>
<line x1="805.02" y1="481.8" x2="805.02" y2="484" stroke="#b0b0b0" stroke-width="1.2"/>
<line x1="812.84" y1="481.8" x2="812.84" y2="484" stroke="#b0b0b0" stroke-width="1.2"/>
<line x1="820.66" y1="481.8" x2="820.66" y2="484" stroke="#b0b0b0" stroke-width="1.2"/>
<line x1="828.48" y1="481.8" x2="828.48" y2="484" stroke="#b0b0b0" stroke-width="1.2"/>
<line x1="836.3" y1="481.8" x2="836.3" y2="484" stroke="#b0b0b0" stroke-width="1.2"/>
<line x1="844.12" y1="481.8" x2="844.12" y2="484" stroke="#b0b0b0" stroke-width="1.2"/>
<line x1="851.94" y1="481.8" x2="851.94" y2="484" stroke="#b0b0b0" stroke-width="1.2"/>
<line x1="859.76" y1="481.8" x2="859.76" y2="484" stroke="#b0b0b0" stroke-width="1.2"/>
<line x1="867.58" y1="481.8" x2="867.58" y2="484" stroke="#b0b0b0" stroke-width="1.2"/>
<line x1="875.4" y1="481.8" x2="875.4" y2="484" stroke="#b0b0b0" stroke-width="1.2"/>
<line x1="883.23" y1="481.8" x2="883.23" y2="484" stroke="#b0b0b0" stroke-width="1.2"/>
<line x1="891.05" y1="481.8" x2="891.05" y2="484" stroke="#b0b0b0" stroke-width="1.2"/>
<line x1="898.87" y1="481.8" x2="898.87" y2="484" stroke="#b0b0b0" stroke-width="1.2"/>
<line x1="906.69" y1="481.8" x2="906.69" y2="484" stroke="#b0b0b0" stroke-width="1.2"/>
<line x1="914.51" y1="481.8" x2="914.51" y2="484" stroke="#b0b0b0" stroke-width="1.2"/>
<line x1="922.33" y1="481.8" x2="922.33" y2="484" stroke="#b0b0b0" stroke-width="1.2"/>
<line x1="930.15" y1="481.8" x2="930.15" y2="484" stroke="#b0b0b0" stroke-width="1.2"/>
<line x1="937.97" y1="481.8" x2="937.97" y2="484" stroke="#b0b0b0" stroke-width="1.2"/>
<line x1="945.79" y1="481.8" x2="945.79" y2="484" stroke="#b0b0b0" stroke-width="1.2"/>
<line x1="953.62" y1="481.8" x2="953.62" y2="484" stroke="#b0b0b0" stroke-width="1.2"/>
<line x1="961.44" y1="481.8" x2="961.44" y2="484" stroke="#b0b0b0" stroke-width="1.2"/>
<line x1="969.26" y1="481.8" x2="969.26" y2="484" stroke="#b0b0b0" stroke-width="1.2"/>
<line x1="977.08" y1="481.8" x2="977.08" y2="484" stroke="#b0b0b0" stroke-width="1.2"/>
<line x1="984.9" y1="481.8" x2="984.9" y2="484" stroke="#b0b0b0" stroke-width="1.2"/>
<line x1="992.72" y1="481.8" x2="992.72" y2="484" stroke="#b0b0b0" stroke-width="1.2"/>
<line x1="1000.54" y1="481.8" x2="1000.54" y2="484" stroke="#b0b0b0" stroke-width="1.2"/>
<line x1="1008.36" y1="481.8" x2="1008.36" y2="484" stroke="#b0b0b0" stroke-width="1.2"/>
<line x1="1016.18" y1="481.8" x2="1016.18" y2="484" stroke="#b0b0b0" stroke-width="1.2"/>
<line x1="1024" y1="481.8" x2="1024" y2="484" stroke="#b0b0b0" stroke-width="1.2"/>
<line x1="1031.83" y1="481.8" x2="1031.83" y2="484" stroke="#b0b0b0" stroke-width="1.2"/>
<line x1="1039.65" y1="481.8" x2="1039.65" y2="484" stroke="#b0b0b0" stroke-width="1.2"/>
<line x1="1047.47" y1="481.8" x2="1047.47" y2="484" stroke="#b0b0b0" stroke-width="1.2"/>
<line x1="1055.29" y1="481.8" x2="1055.29" y2="484" stroke="#b0b0b0" stroke-width="1.2"/>
<line x1="1063.11" y1="481.8" x2="1063.11" y2="484" stroke="#b0b0b0" stroke-width="1.2"/>
<line x1="1070.93" y1="481.8" x2="1070.93" y2="484" stroke="#b0b0b0" stroke-width="1.2"/>
<line x1="1078.75" y1="481.8" x2="1078.75" y2="484" stroke="#b0b0b0" stroke-width="1.2"/>
<line x1="1086.57" y1="481.8" x2="1086.57" y2="484" stroke="#b0b0b0" stroke-width="1.2"/>
<line x1="1094.39" y1="481.8" x2="1094.39" y2="484" stroke="#b0b0b0" stroke-width="1.2"/>
<line x1="1102.21" y1="481.8" x2="1102.21" y2="484" stroke="#b0b0b0" stroke-width="1.2"/>
<line x1="1110.04" y1="481.8" x2="1110.04" y2="484" stroke="#b0b0b0" stroke-width="1.2"/>
<line x1="1117.86" y1="481.8" x2="1117.86" y2="484" stroke="#b0b0b0" stroke-width="1.2"/>
<line x1="1125.68" y1="481.8" x2="1125.68" y2="484" stroke="#b0b0b0" stroke-width="1.2"/>
<line x1="1133.5" y1="481.8" x2="1133.5" y2="484" stroke="#b0b0b0" stroke-width="1.2"/>
<line x1="1141.32" y1="481.8" x2="1141.32" y2="484" stroke="#b0b0b0" stroke-width="1.2"/>
<line x1="1149.14" y1="481.8" x2="1149.14" y2="484" stroke="#b0b0b0" stroke-width="1.2"/>
<line x1="1156.96" y1="481.8" x2="1156.96" y2="484" stroke="#b0b0b0" stroke-width="1.2"/>
<line x1="1164.78" y1="481.8" x2="1164.78" y2="484" stroke="#b0b0b0" stroke-width="1.2"/>
<line x1="1172.6" y1="481.8" x2="1172.6" y2="484" stroke="#b0b0b0" stroke-width="1.2"/>
<line x1="1180.42" y1="481.8" x2="1180.42" y2="484" stroke="#b0b0b0" stroke-width="1.2"/>
<line x1="1188.25" y1="481.8" x2="1188.25" y2="484" stroke="#b0b0b0" stroke-width="1.2"/>
<line x1="1196.07" y1="481.8" x2="1196.07" y2="484" stroke="#b0b0b0" stroke-width="1.2"/>
<line x1="1203.89" y1="481.8" x2="1203.89" y2="484" stroke="#b0b0b0" stroke-width="1.2"/>
<line x1="1211.71" y1="481.8" x2="1211.71" y2="484" stroke="#b0b0b0" stroke-width="1.2"/>
<line x1="1219.53" y1="481.8" x2="1219.53" y2="484" stroke="#b0b0b0" stroke-width="1.2"/>
<line x1="1227.35" y1="481.8" x2="1227.35" y2="484" stroke="#b0b0b0" stroke-width="1.2"/>
<line x1="1235.17" y1="481.8" x2="1235.17" y2="484" stroke="#b0b0b0" stroke-width="1.2"/>
<line x1="1242.99" y1="481.8" x2="1242.99" y2="484" stroke="#b0b0b0" stroke-width="1.2"/>
<line x1="1250.81" y1="481.8" x2="1250.81" y2="484" stroke="#b0b0b0" stroke-width="1.2"/>
<text x="1266" y="451.58" font-family="'Liberation Sans', sans-serif" font-size="15" font-weight="normal" fill="#000" text-anchor="start" textLength="36.4" lengthAdjust="spacingAndGlyphs">6000</text>
<line x1="1261.3" y1="447.88" x2="1265.3" y2="447.88" stroke="#b0b0b0" stroke-width="1.3"/>
<text x="1266" y="409.65" font-family="'Liberation Sans', sans-serif" font-size="15" font-weight="normal" fill="#000" text-anchor="start" textLength="36.4" lengthAdjust="spacingAndGlyphs">6100</text>
<line x1="1261.3" y1="405.95" x2="1265.3" y2="405.95" stroke="#b0b0b0" stroke-width="1.3"/>
<text x="1266" y="368.39" font-family="'Liberation Sans', sans-serif" font-size="15" font-weight="normal" fill="#000" text-anchor="start" textLength="36.4" lengthAdjust="spacingAndGlyphs">6200</text>
<line x1="1261.3" y1="364.69" x2="1265.3" y2="364.69" stroke="#b0b0b0" stroke-width="1.3"/>
<text x="1266" y="327.8" font-family="'Liberation Sans', sans-serif" font-size="15" font-weight="normal" fill="#000" text-anchor="start" textLength="36.4" lengthAdjust="spacingAndGlyphs">6300</text>
<line x1="1261.3" y1="324.1" x2="1265.3" y2="324.1" stroke="#b0b0b0" stroke-width="1.3"/>
<text x="1266" y="287.85" font-family="'Liberation Sans', sans-serif" font-size="15" font-weight="normal" fill="#000" text-anchor="start" textLength="36.4" lengthAdjust="spacingAndGlyphs">6400</text>
<line x1="1261.3" y1="284.15" x2="1265.3" y2="284.15" stroke="#b0b0b0" stroke-width="1.3"/>
<text x="1266" y="248.51" font-family="'Liberation Sans', sans-serif" font-size="15" font-weight="normal" fill="#000" text-anchor="start" textLength="36.4" lengthAdjust="spacingAndGlyphs">6500</text>
<line x1="1261.3" y1="244.81" x2="1265.3" y2="244.81" stroke="#b0b0b0" stroke-width="1.3"/>
<text x="1266" y="209.78" font-family="'Liberation Sans', sans-serif" font-size="15" font-weight="normal" fill="#000" text-anchor="start" textLength="36.4" lengthAdjust="spacingAndGlyphs">6600</text>
<line x1="1261.3" y1="206.08" x2="1265.3" y2="206.08" stroke="#b0b0b0" stroke-width="1.3"/>
<text x="1266" y="171.63" font-family="'Liberation Sans', sans-serif" font-size="15" font-weight="normal" fill="#000" text-anchor="start" textLength="36.4" lengthAdjust="spacingAndGlyphs">6700</text>
<line x1="1261.3" y1="167.93" x2="1265.3" y2="167.93" stroke="#b0b0b0" stroke-width="1.3"/>
<text x="1266" y="134.04" font-family="'Liberation Sans', sans-serif" font-size="15" font-weight="normal" fill="#000" text-anchor="start" textLength="36.4" lengthAdjust="spacingAndGlyphs">6800</text>
<line x1="1261.3" y1="130.34" x2="1265.3" y2="130.34" stroke="#b0b0b0" stroke-width="1.3"/>
<text x="1266" y="97" font-family="'Liberation Sans', sans-serif" font-size="15" font-weight="normal" fill="#000" text-anchor="start" textLength="36.4" lengthAdjust="spacingAndGlyphs">6900</text>
<line x1="1261.3" y1="93.3" x2="1265.3" y2="93.3" stroke="#b0b0b0" stroke-width="1.3"/>
<text x="1266" y="60.5" font-family="'Liberation Sans', sans-serif" font-size="15" font-weight="normal" fill="#000" text-anchor="start" textLength="36.4" lengthAdjust="spacingAndGlyphs">7000</text>
<line x1="1261.3" y1="56.8" x2="1265.3" y2="56.8" stroke="#b0b0b0" stroke-width="1.3"/>
<line x1="1261.3" y1="473.38" x2="1263.6" y2="473.38" stroke="#b4b4b4" stroke-width="1.1"/>
<line x1="1261.3" y1="464.85" x2="1263.6" y2="464.85" stroke="#b4b4b4" stroke-width="1.1"/>
<line x1="1261.3" y1="456.35" x2="1263.6" y2="456.35" stroke="#b4b4b4" stroke-width="1.1"/>
<line x1="1261.3" y1="439.44" x2="1263.6" y2="439.44" stroke="#b4b4b4" stroke-width="1.1"/>
<line x1="1261.3" y1="431.02" x2="1263.6" y2="431.02" stroke="#b4b4b4" stroke-width="1.1"/>
<line x1="1261.3" y1="422.64" x2="1263.6" y2="422.64" stroke="#b4b4b4" stroke-width="1.1"/>
<line x1="1261.3" y1="414.28" x2="1263.6" y2="414.28" stroke="#b4b4b4" stroke-width="1.1"/>
<line x1="1261.3" y1="397.64" x2="1263.6" y2="397.64" stroke="#b4b4b4" stroke-width="1.1"/>
<line x1="1261.3" y1="389.36" x2="1263.6" y2="389.36" stroke="#b4b4b4" stroke-width="1.1"/>
<line x1="1261.3" y1="381.11" x2="1263.6" y2="381.11" stroke="#b4b4b4" stroke-width="1.1"/>
<line x1="1261.3" y1="372.89" x2="1263.6" y2="372.89" stroke="#b4b4b4" stroke-width="1.1"/>
<line x1="1261.3" y1="356.52" x2="1263.6" y2="356.52" stroke="#b4b4b4" stroke-width="1.1"/>
<line x1="1261.3" y1="348.38" x2="1263.6" y2="348.38" stroke="#b4b4b4" stroke-width="1.1"/>
<line x1="1261.3" y1="340.26" x2="1263.6" y2="340.26" stroke="#b4b4b4" stroke-width="1.1"/>
<line x1="1261.3" y1="332.17" x2="1263.6" y2="332.17" stroke="#b4b4b4" stroke-width="1.1"/>
<line x1="1261.3" y1="316.06" x2="1263.6" y2="316.06" stroke="#b4b4b4" stroke-width="1.1"/>
<line x1="1261.3" y1="308.04" x2="1263.6" y2="308.04" stroke="#b4b4b4" stroke-width="1.1"/>
<line x1="1261.3" y1="300.05" x2="1263.6" y2="300.05" stroke="#b4b4b4" stroke-width="1.1"/>
<line x1="1261.3" y1="292.09" x2="1263.6" y2="292.09" stroke="#b4b4b4" stroke-width="1.1"/>
<line x1="1261.3" y1="276.23" x2="1263.6" y2="276.23" stroke="#b4b4b4" stroke-width="1.1"/>
<line x1="1261.3" y1="268.34" x2="1263.6" y2="268.34" stroke="#b4b4b4" stroke-width="1.1"/>
<line x1="1261.3" y1="260.47" x2="1263.6" y2="260.47" stroke="#b4b4b4" stroke-width="1.1"/>
<line x1="1261.3" y1="252.63" x2="1263.6" y2="252.63" stroke="#b4b4b4" stroke-width="1.1"/>
<line x1="1261.3" y1="237.02" x2="1263.6" y2="237.02" stroke="#b4b4b4" stroke-width="1.1"/>
<line x1="1261.3" y1="229.25" x2="1263.6" y2="229.25" stroke="#b4b4b4" stroke-width="1.1"/>
<line x1="1261.3" y1="221.5" x2="1263.6" y2="221.5" stroke="#b4b4b4" stroke-width="1.1"/>
<line x1="1261.3" y1="213.78" x2="1263.6" y2="213.78" stroke="#b4b4b4" stroke-width="1.1"/>
<line x1="1261.3" y1="198.4" x2="1263.6" y2="198.4" stroke="#b4b4b4" stroke-width="1.1"/>
<line x1="1261.3" y1="190.75" x2="1263.6" y2="190.75" stroke="#b4b4b4" stroke-width="1.1"/>
<line x1="1261.3" y1="183.12" x2="1263.6" y2="183.12" stroke="#b4b4b4" stroke-width="1.1"/>
<line x1="1261.3" y1="175.51" x2="1263.6" y2="175.51" stroke="#b4b4b4" stroke-width="1.1"/>
<line x1="1261.3" y1="160.37" x2="1263.6" y2="160.37" stroke="#b4b4b4" stroke-width="1.1"/>
<line x1="1261.3" y1="152.83" x2="1263.6" y2="152.83" stroke="#b4b4b4" stroke-width="1.1"/>
<line x1="1261.3" y1="145.31" x2="1263.6" y2="145.31" stroke="#b4b4b4" stroke-width="1.1"/>
<line x1="1261.3" y1="137.81" x2="1263.6" y2="137.81" stroke="#b4b4b4" stroke-width="1.1"/>
<line x1="1261.3" y1="122.89" x2="1263.6" y2="122.89" stroke="#b4b4b4" stroke-width="1.1"/>
<line x1="1261.3" y1="115.46" x2="1263.6" y2="115.46" stroke="#b4b4b4" stroke-width="1.1"/>
<line x1="1261.3" y1="108.05" x2="1263.6" y2="108.05" stroke="#b4b4b4" stroke-width="1.1"/>
<line x1="1261.3" y1="100.67" x2="1263.6" y2="100.67" stroke="#b4b4b4" stroke-width="1.1"/>
<line x1="1261.3" y1="85.96" x2="1263.6" y2="85.96" stroke="#b4b4b4" stroke-width="1.1"/>
<line x1="1261.3" y1="78.64" x2="1263.6" y2="78.64" stroke="#b4b4b4" stroke-width="1.1"/>
<line x1="1261.3" y1="71.34" x2="1263.6" y2="71.34" stroke="#b4b4b4" stroke-width="1.1"/>
<line x1="1261.3" y1="64.06" x2="1263.6" y2="64.06" stroke="#b4b4b4" stroke-width="1.1"/>
<line x1="1261.3" y1="49.56" x2="1263.6" y2="49.56" stroke="#b4b4b4" stroke-width="1.1"/>
<polygon fill="#fff" stroke="#006400" stroke-width="1.8" points="1257.6,82.5 1263.5,74.5 1328.3,74.5 1328.3,90.5 1263.5,90.5"/>
<text x="1264.8" y="87.9" font-family="'Liberation Sans', sans-serif" font-size="15" font-weight="normal" fill="#000" text-anchor="start" textLength="59.5" lengthAdjust="spacingAndGlyphs">6925.14</text>
<polygon fill="#fff" stroke="#000099" stroke-width="1.8" points="1257.6,107.2 1263.5,99.2 1328.3,99.2 1328.3,115.2 1263.5,115.2"/>
<text x="1264.8" y="112.6" font-family="'Liberation Sans', sans-serif" font-size="15" font-weight="normal" fill="#000" text-anchor="start" textLength="59.5" lengthAdjust="spacingAndGlyphs">6857.66</text>
<polygon fill="#fff" stroke="#dc143c" stroke-width="1.8" points="1257.6,271.4 1263.5,263.4 1328.3,263.4 1328.3,279.4 1263.5,279.4"/>
<text x="1264.8" y="276.8" font-family="'Liberation Sans', sans-serif" font-size="15" font-weight="normal" fill="#000" text-anchor="start" textLength="59.5" lengthAdjust="spacingAndGlyphs">6428.98</text>
<polygon fill="#fff" stroke="#000" stroke-width="2.2" points="1257.6,78 1263.5,69.4 1328.3,69.4 1328.3,86.6 1263.5,86.6"/>
<text x="1264.8" y="83.8" font-family="'Liberation Sans', sans-serif" font-size="16.4" font-weight="bold" fill="#000" text-anchor="start" textLength="59.5" lengthAdjust="spacingAndGlyphs">6939.03</text>
</g>
<text x="26.3" y="21.5" font-family="'Liberation Sans', sans-serif" font-size="22.2" font-weight="bold" fill="#000" text-anchor="start" textLength="50.7" lengthAdjust="spacingAndGlyphs">$SPX</text>
<text x="83.8" y="20" font-family="'Liberation Sans', sans-serif" font-size="18.2" font-weight="normal" fill="#000" text-anchor="start" textLength="192.5" lengthAdjust="spacingAndGlyphs">S&amp;P 500 Large Cap Index</text>
<text x="283.8" y="20" font-family="'Liberation Sans', sans-serif" font-size="15.7" font-weight="normal" fill="#000" text-anchor="start" textLength="36.2" lengthAdjust="spacingAndGlyphs">INDX</text>
<text x="24.8" y="40.5" font-family="'Liberation Sans', sans-serif" font-size="16.2" font-weight="normal" fill="#000" text-anchor="start" textLength="91.5" lengthAdjust="spacingAndGlyphs">30-Jan-2026</text>
<text x="1121" y="19.6" font-family="'DejaVu Sans', sans-serif" font-size="12.5" font-weight="normal" fill="#555" text-anchor="start" textLength="11.5" lengthAdjust="spacingAndGlyphs">©</text>
<text x="1135.8" y="19.6" font-family="'DejaVu Sans', sans-serif" font-size="13.2" font-weight="normal" fill="#555" text-anchor="start" textLength="124.7" lengthAdjust="spacingAndGlyphs">StockCharts.com</text>
<text x="506.9" y="40.2" font-family="'Liberation Sans', sans-serif" font-size="18" font-weight="bold" fill="#000" text-anchor="start" textLength="43.6" lengthAdjust="spacingAndGlyphs">Open</text>
<text x="556" y="40.2" font-family="'Liberation Sans', sans-serif" font-size="15" font-weight="normal" fill="#000" text-anchor="start" textLength="60.5" lengthAdjust="spacingAndGlyphs">6947.27</text>
<text x="626.3" y="40.2" font-family="'Liberation Sans', sans-serif" font-size="18" font-weight="bold" fill="#000" text-anchor="start" textLength="36.4" lengthAdjust="spacingAndGlyphs">High</text>
<text x="668.7" y="40.2" font-family="'Liberation Sans', sans-serif" font-size="15" font-weight="normal" fill="#000" text-anchor="start" textLength="60" lengthAdjust="spacingAndGlyphs">6964.09</text>
<text x="739.2" y="40.2" font-family="'Liberation Sans', sans-serif" font-size="18" font-weight="bold" fill="#000" text-anchor="start" textLength="36.1" lengthAdjust="spacingAndGlyphs">Low</text>
<text x="781.2" y="40.2" font-family="'Liberation Sans', sans-serif" font-size="15" font-weight="normal" fill="#000" text-anchor="start" textLength="60" lengthAdjust="spacingAndGlyphs">6893.48</text>
<text x="852.3" y="40.2" font-family="'Liberation Sans', sans-serif" font-size="18" font-weight="bold" fill="#000" text-anchor="start" textLength="47.7" lengthAdjust="spacingAndGlyphs">Close</text>
<text x="906.5" y="40.2" font-family="'Liberation Sans', sans-serif" font-size="15" font-weight="normal" fill="#000" text-anchor="start" textLength="60" lengthAdjust="spacingAndGlyphs">6939.03</text>
<text x="977.5" y="40.2" font-family="'Liberation Sans', sans-serif" font-size="18" font-weight="bold" fill="#000" text-anchor="start" textLength="63.5" lengthAdjust="spacingAndGlyphs">Volume</text>
<text x="1049" y="40.2" font-family="'Liberation Sans', sans-serif" font-size="15" font-weight="normal" fill="#000" text-anchor="start" textLength="31" lengthAdjust="spacingAndGlyphs">4.3B</text>
<text x="1093.5" y="40.2" font-family="'Liberation Sans', sans-serif" font-size="18" font-weight="bold" fill="#000" text-anchor="start" textLength="31.5" lengthAdjust="spacingAndGlyphs">Chg</text>
<text x="1131.5" y="40.2" font-family="'Liberation Sans', sans-serif" font-size="15" font-weight="normal" fill="#000" text-anchor="start" textLength="113.5" lengthAdjust="spacingAndGlyphs">-29.98 (-0.43%)</text>
<polygon fill="#990033" points="1249,33 1261.3,33 1255.2,40"/>
<rect x="27" y="46" width="208" height="18" fill="#fff"/>
<rect x="27" y="63.5" width="136" height="51.5" fill="#fff"/>
<path fill="#000" d="M31.2 49.5h1.7v6h-1.7z M29.8 51h1.6v1.4h-1.6z M32.7 53.2h1.6v1.4h-1.6z M35.8 51.2h1.7v9.6h-1.7z M34.4 56h1.6v1.4h-1.6z M37.3 58h1.6v1.4h-1.6z M40.6 50.2h1.7v7h-1.7z M39.2 54.6h1.6v1.4h-1.6z M42.1 51.8h1.6v1.4h-1.6z"/>
<text x="49.5" y="60.8" font-family="'DejaVu Sans', sans-serif" font-size="14.6" font-weight="normal" fill="#000" text-anchor="start" textLength="184.3" lengthAdjust="spacingAndGlyphs">$SPX (Daily) 6939.03</text>
<rect x="30" y="70.7" width="13.8" height="2.7" fill="#000099"/>
<text x="46.3" y="77.8" font-family="'DejaVu Sans Condensed', sans-serif" font-size="16" font-weight="normal" fill="#000099" text-anchor="start" textLength="107.5" lengthAdjust="spacingAndGlyphs">MA(50) 6857.66</text>
<rect x="30" y="87.7" width="13.8" height="2.7" fill="#dc143c"/>
<text x="46.3" y="94.8" font-family="'DejaVu Sans Condensed', sans-serif" font-size="16" font-weight="normal" fill="#dc143c" text-anchor="start" textLength="115" lengthAdjust="spacingAndGlyphs">MA(200) 6428.98</text>
<rect x="30" y="105" width="13.8" height="2.7" fill="#006400"/>
<text x="46.3" y="112.1" font-family="'DejaVu Sans Condensed', sans-serif" font-size="16" font-weight="normal" fill="#006400" text-anchor="start" textLength="108.7" lengthAdjust="spacingAndGlyphs">MA(21) 6925.14</text>
<text x="53.4" y="498.8" font-family="'Liberation Sans', sans-serif" font-size="15.6" font-weight="normal" fill="#000" text-anchor="middle" textLength="18.39" lengthAdjust="spacingAndGlyphs">23</text>
<text x="123.79" y="498.8" font-family="'Liberation Sans', sans-serif" font-size="15.6" font-weight="normal" fill="#000" text-anchor="middle" textLength="9.2" lengthAdjust="spacingAndGlyphs">7</text>
<text x="162.89" y="498.8" font-family="'Liberation Sans', sans-serif" font-size="15.6" font-weight="normal" fill="#000" text-anchor="middle" textLength="18.39" lengthAdjust="spacingAndGlyphs">14</text>
<text x="202" y="498.8" font-family="'Liberation Sans', sans-serif" font-size="15.6" font-weight="normal" fill="#000" text-anchor="middle" textLength="18.39" lengthAdjust="spacingAndGlyphs">21</text>
<text x="241.1" y="498.8" font-family="'Liberation Sans', sans-serif" font-size="15.6" font-weight="normal" fill="#000" text-anchor="middle" textLength="18.39" lengthAdjust="spacingAndGlyphs">28</text>
<text x="319.31" y="498.8" font-family="'Liberation Sans', sans-serif" font-size="15.6" font-weight="normal" fill="#000" text-anchor="middle" textLength="17.17" lengthAdjust="spacingAndGlyphs">11</text>
<text x="358.42" y="498.8" font-family="'Liberation Sans', sans-serif" font-size="15.6" font-weight="normal" fill="#000" text-anchor="middle" textLength="18.39" lengthAdjust="spacingAndGlyphs">18</text>
<text x="397.52" y="498.8" font-family="'Liberation Sans', sans-serif" font-size="15.6" font-weight="normal" fill="#000" text-anchor="middle" textLength="18.39" lengthAdjust="spacingAndGlyphs">25</text>
<text x="467.91" y="498.8" font-family="'Liberation Sans', sans-serif" font-size="15.6" font-weight="normal" fill="#000" text-anchor="middle" textLength="9.2" lengthAdjust="spacingAndGlyphs">8</text>
<text x="507.02" y="498.8" font-family="'Liberation Sans', sans-serif" font-size="15.6" font-weight="normal" fill="#000" text-anchor="middle" textLength="18.39" lengthAdjust="spacingAndGlyphs">15</text>
<text x="546.12" y="498.8" font-family="'Liberation Sans', sans-serif" font-size="15.6" font-weight="normal" fill="#000" text-anchor="middle" textLength="18.39" lengthAdjust="spacingAndGlyphs">22</text>
<text x="624.33" y="498.8" font-family="'Liberation Sans', sans-serif" font-size="15.6" font-weight="normal" fill="#000" text-anchor="middle" textLength="9.2" lengthAdjust="spacingAndGlyphs">6</text>
<text x="663.44" y="498.8" font-family="'Liberation Sans', sans-serif" font-size="15.6" font-weight="normal" fill="#000" text-anchor="middle" textLength="18.39" lengthAdjust="spacingAndGlyphs">13</text>
<text x="702.54" y="498.8" font-family="'Liberation Sans', sans-serif" font-size="15.6" font-weight="normal" fill="#000" text-anchor="middle" textLength="18.39" lengthAdjust="spacingAndGlyphs">20</text>
<text x="741.65" y="498.8" font-family="'Liberation Sans', sans-serif" font-size="15.6" font-weight="normal" fill="#000" text-anchor="middle" textLength="18.39" lengthAdjust="spacingAndGlyphs">27</text>
<text x="819.86" y="498.8" font-family="'Liberation Sans', sans-serif" font-size="15.6" font-weight="normal" fill="#000" text-anchor="middle" textLength="18.39" lengthAdjust="spacingAndGlyphs">10</text>
<text x="858.96" y="498.8" font-family="'Liberation Sans', sans-serif" font-size="15.6" font-weight="normal" fill="#000" text-anchor="middle" textLength="18.39" lengthAdjust="spacingAndGlyphs">17</text>
<text x="898.07" y="498.8" font-family="'Liberation Sans', sans-serif" font-size="15.6" font-weight="normal" fill="#000" text-anchor="middle" textLength="18.39" lengthAdjust="spacingAndGlyphs">24</text>
<text x="968.46" y="498.8" font-family="'Liberation Sans', sans-serif" font-size="15.6" font-weight="normal" fill="#000" text-anchor="middle" textLength="9.2" lengthAdjust="spacingAndGlyphs">8</text>
<text x="1007.56" y="498.8" font-family="'Liberation Sans', sans-serif" font-size="15.6" font-weight="normal" fill="#000" text-anchor="middle" textLength="18.39" lengthAdjust="spacingAndGlyphs">15</text>
<text x="1046.67" y="498.8" font-family="'Liberation Sans', sans-serif" font-size="15.6" font-weight="normal" fill="#000" text-anchor="middle" textLength="18.39" lengthAdjust="spacingAndGlyphs">22</text>
<text x="1148.34" y="498.8" font-family="'Liberation Sans', sans-serif" font-size="15.6" font-weight="normal" fill="#000" text-anchor="middle" textLength="18.39" lengthAdjust="spacingAndGlyphs">12</text>
<text x="1187.45" y="498.8" font-family="'Liberation Sans', sans-serif" font-size="15.6" font-weight="normal" fill="#000" text-anchor="middle" textLength="18.39" lengthAdjust="spacingAndGlyphs">20</text>
<text x="1218.73" y="498.8" font-family="'Liberation Sans', sans-serif" font-size="15.6" font-weight="normal" fill="#000" text-anchor="middle" textLength="18.39" lengthAdjust="spacingAndGlyphs">26</text>
<text x="101.43" y="498.9" font-family="'Liberation Sans', sans-serif" font-size="17.7" font-weight="bold" fill="#000" text-anchor="middle" textLength="25.57" lengthAdjust="spacingAndGlyphs">Jul</text>
<text x="273.49" y="498.9" font-family="'Liberation Sans', sans-serif" font-size="17.7" font-weight="bold" fill="#000" text-anchor="middle" textLength="34.41" lengthAdjust="spacingAndGlyphs">Aug</text>
<text x="437.73" y="498.9" font-family="'Liberation Sans', sans-serif" font-size="17.7" font-weight="bold" fill="#000" text-anchor="middle" textLength="32.46" lengthAdjust="spacingAndGlyphs">Sep</text>
<text x="601.97" y="498.9" font-family="'Liberation Sans', sans-serif" font-size="17.7" font-weight="bold" fill="#000" text-anchor="middle" textLength="29.51" lengthAdjust="spacingAndGlyphs">Oct</text>
<text x="781.85" y="498.9" font-family="'Liberation Sans', sans-serif" font-size="17.7" font-weight="bold" fill="#000" text-anchor="middle" textLength="33.44" lengthAdjust="spacingAndGlyphs">Nov</text>
<text x="930.45" y="498.9" font-family="'Liberation Sans', sans-serif" font-size="17.7" font-weight="bold" fill="#000" text-anchor="middle" textLength="32.47" lengthAdjust="spacingAndGlyphs">Dec</text>
<text x="1102.51" y="498.9" font-family="'Liberation Sans', sans-serif" font-size="17.7" font-weight="bold" fill="#000" text-anchor="middle" textLength="39.38" lengthAdjust="spacingAndGlyphs">2026</text>
<g id="vol">
<line x1="25.8" y1="635.9" x2="1261.3" y2="635.9" stroke="#e0e0e0" stroke-width="1.15"/>
<line x1="25.8" y1="615.3" x2="1261.3" y2="615.3" stroke="#e0e0e0" stroke-width="1.15"/>
<line x1="25.8" y1="594.7" x2="1261.3" y2="594.7" stroke="#e0e0e0" stroke-width="1.15"/>
<line x1="25.8" y1="574.1" x2="1261.3" y2="574.1" stroke="#e0e0e0" stroke-width="1.15"/>
<line x1="25.8" y1="553.5" x2="1261.3" y2="553.5" stroke="#e0e0e0" stroke-width="1.15"/>
<line x1="25.8" y1="532.9" x2="1261.3" y2="532.9" stroke="#e0e0e0" stroke-width="1.15"/>
<line x1="25.8" y1="512.3" x2="1261.3" y2="512.3" stroke="#e0e0e0" stroke-width="1.15"/>
<line x1="54.2" y1="504.3" x2="54.2" y2="656.7" stroke="#e0e0e0" stroke-width="1.15"/>
<line x1="93.31" y1="504.3" x2="93.31" y2="656.7" stroke="#e0e0e0" stroke-width="1.15"/>
<line x1="124.59" y1="504.3" x2="124.59" y2="656.7" stroke="#e0e0e0" stroke-width="1.15"/>
<line x1="163.69" y1="504.3" x2="163.69" y2="656.7" stroke="#e0e0e0" stroke-width="1.15"/>
<line x1="202.8" y1="504.3" x2="202.8" y2="656.7" stroke="#e0e0e0" stroke-width="1.15"/>
<line x1="241.9" y1="504.3" x2="241.9" y2="656.7" stroke="#e0e0e0" stroke-width="1.15"/>
<line x1="281.01" y1="504.3" x2="281.01" y2="656.7" stroke="#e0e0e0" stroke-width="1.15"/>
<line x1="320.11" y1="504.3" x2="320.11" y2="656.7" stroke="#e0e0e0" stroke-width="1.15"/>
<line x1="359.22" y1="504.3" x2="359.22" y2="656.7" stroke="#e0e0e0" stroke-width="1.15"/>
<line x1="398.32" y1="504.3" x2="398.32" y2="656.7" stroke="#e0e0e0" stroke-width="1.15"/>
<line x1="468.71" y1="504.3" x2="468.71" y2="656.7" stroke="#e0e0e0" stroke-width="1.15"/>
<line x1="507.82" y1="504.3" x2="507.82" y2="656.7" stroke="#e0e0e0" stroke-width="1.15"/>
<line x1="546.92" y1="504.3" x2="546.92" y2="656.7" stroke="#e0e0e0" stroke-width="1.15"/>
<line x1="586.03" y1="504.3" x2="586.03" y2="656.7" stroke="#e0e0e0" stroke-width="1.15"/>
<line x1="625.13" y1="504.3" x2="625.13" y2="656.7" stroke="#e0e0e0" stroke-width="1.15"/>
<line x1="664.24" y1="504.3" x2="664.24" y2="656.7" stroke="#e0e0e0" stroke-width="1.15"/>
<line x1="703.34" y1="504.3" x2="703.34" y2="656.7" stroke="#e0e0e0" stroke-width="1.15"/>
<line x1="742.45" y1="504.3" x2="742.45" y2="656.7" stroke="#e0e0e0" stroke-width="1.15"/>
<line x1="820.66" y1="504.3" x2="820.66" y2="656.7" stroke="#e0e0e0" stroke-width="1.15"/>
<line x1="859.76" y1="504.3" x2="859.76" y2="656.7" stroke="#e0e0e0" stroke-width="1.15"/>
<line x1="898.87" y1="504.3" x2="898.87" y2="656.7" stroke="#e0e0e0" stroke-width="1.15"/>
<line x1="969.26" y1="504.3" x2="969.26" y2="656.7" stroke="#e0e0e0" stroke-width="1.15"/>
<line x1="1008.36" y1="504.3" x2="1008.36" y2="656.7" stroke="#e0e0e0" stroke-width="1.15"/>
<line x1="1047.47" y1="504.3" x2="1047.47" y2="656.7" stroke="#e0e0e0" stroke-width="1.15"/>
<line x1="1078.75" y1="504.3" x2="1078.75" y2="656.7" stroke="#e0e0e0" stroke-width="1.15"/>
<line x1="1110.04" y1="504.3" x2="1110.04" y2="656.7" stroke="#e0e0e0" stroke-width="1.15"/>
<line x1="1149.14" y1="504.3" x2="1149.14" y2="656.7" stroke="#e0e0e0" stroke-width="1.15"/>
<line x1="1188.25" y1="504.3" x2="1188.25" y2="656.7" stroke="#e0e0e0" stroke-width="1.15"/>
<line x1="1219.53" y1="504.3" x2="1219.53" y2="656.7" stroke="#e0e0e0" stroke-width="1.15"/>
<line x1="101.13" y1="504.3" x2="101.13" y2="656.7" stroke="#cecece" stroke-width="1.5"/>
<line x1="273.19" y1="504.3" x2="273.19" y2="656.7" stroke="#cecece" stroke-width="1.5"/>
<line x1="437.43" y1="504.3" x2="437.43" y2="656.7" stroke="#cecece" stroke-width="1.5"/>
<line x1="601.67" y1="504.3" x2="601.67" y2="656.7" stroke="#cecece" stroke-width="1.5"/>
<line x1="781.55" y1="504.3" x2="781.55" y2="656.7" stroke="#cecece" stroke-width="1.5"/>
<line x1="930.15" y1="504.3" x2="930.15" y2="656.7" stroke="#cecece" stroke-width="1.5"/>
<line x1="1102.21" y1="504.3" x2="1102.21" y2="656.7" stroke="#b8b8b8" stroke-width="1.5"/>
<rect x="27.33" y="597.52" width="7.62" height="59.18" fill="#d77482" stroke="#c23a52" stroke-width="1.1"/>
<rect x="35.15" y="596.32" width="7.62" height="60.38" fill="#d77482" stroke="#c23a52" stroke-width="1.1"/>
<rect x="42.97" y="543.34" width="7.62" height="113.36" fill="#d77482" stroke="#c23a52" stroke-width="1.1"/>
<rect x="50.79" y="591.02" width="7.62" height="65.68" fill="#808080" stroke="#4a4a4a" stroke-width="1.1"/>
<rect x="58.61" y="588.61" width="7.62" height="68.09" fill="#808080" stroke="#4a4a4a" stroke-width="1.1"/>
<rect x="66.43" y="597.52" width="7.62" height="59.18" fill="#d77482" stroke="#c23a52" stroke-width="1.1"/>
<rect x="74.25" y="594.63" width="7.62" height="62.07" fill="#808080" stroke="#4a4a4a" stroke-width="1.1"/>
<rect x="82.07" y="560.2" width="7.62" height="96.5" fill="#808080" stroke="#4a4a4a" stroke-width="1.1"/>
<rect x="89.89" y="589.09" width="7.62" height="67.61" fill="#808080" stroke="#4a4a4a" stroke-width="1.1"/>
<rect x="97.72" y="583.55" width="7.62" height="73.15" fill="#d77482" stroke="#c23a52" stroke-width="1.1"/>
<rect x="105.54" y="591.5" width="7.62" height="65.2" fill="#808080" stroke="#4a4a4a" stroke-width="1.1"/>
<rect x="113.36" y="618.47" width="7.62" height="38.23" fill="#808080" stroke="#4a4a4a" stroke-width="1.1"/>
<rect x="121.18" y="599.21" width="7.62" height="57.49" fill="#d77482" stroke="#c23a52" stroke-width="1.1"/>
<rect x="129" y="592.7" width="7.62" height="64" fill="#d77482" stroke="#c23a52" stroke-width="1.1"/>
<rect x="136.82" y="599.21" width="7.62" height="57.49" fill="#808080" stroke="#4a4a4a" stroke-width="1.1"/>
<rect x="144.64" y="597.52" width="7.62" height="59.18" fill="#808080" stroke="#4a4a4a" stroke-width="1.1"/>
<rect x="152.46" y="602.34" width="7.62" height="54.36" fill="#d77482" stroke="#c23a52" stroke-width="1.1"/>
<rect x="160.28" y="601.13" width="7.62" height="55.57" fill="#808080" stroke="#4a4a4a" stroke-width="1.1"/>
<rect x="168.1" y="592.7" width="7.62" height="64" fill="#d77482" stroke="#c23a52" stroke-width="1.1"/>
<rect x="175.93" y="594.63" width="7.62" height="62.07" fill="#808080" stroke="#4a4a4a" stroke-width="1.1"/>
<rect x="183.75" y="591.5" width="7.62" height="65.2" fill="#808080" stroke="#4a4a4a" stroke-width="1.1"/>
<rect x="191.57" y="593.43" width="7.62" height="63.27" fill="#d77482" stroke="#c23a52" stroke-width="1.1"/>
<rect x="199.39" y="601.13" width="7.62" height="55.57" fill="#808080" stroke="#4a4a4a" stroke-width="1.1"/>
<rect x="207.21" y="591.5" width="7.62" height="65.2" fill="#808080" stroke="#4a4a4a" stroke-width="1.1"/>
<rect x="215.03" y="589.81" width="7.62" height="66.89" fill="#808080" stroke="#4a4a4a" stroke-width="1.1"/>
<rect x="222.85" y="588.37" width="7.62" height="68.33" fill="#808080" stroke="#4a4a4a" stroke-width="1.1"/>
<rect x="230.67" y="594.63" width="7.62" height="62.07" fill="#808080" stroke="#4a4a4a" stroke-width="1.1"/>
<rect x="238.49" y="597.52" width="7.62" height="59.18" fill="#808080" stroke="#4a4a4a" stroke-width="1.1"/>
<rect x="246.31" y="589.81" width="7.62" height="66.89" fill="#d77482" stroke="#c23a52" stroke-width="1.1"/>
<rect x="254.14" y="588.37" width="7.62" height="68.33" fill="#d77482" stroke="#c23a52" stroke-width="1.1"/>
<rect x="261.96" y="572.72" width="7.62" height="83.98" fill="#d77482" stroke="#c23a52" stroke-width="1.1"/>
<rect x="269.78" y="581.87" width="7.62" height="74.83" fill="#d77482" stroke="#c23a52" stroke-width="1.1"/>
<rect x="277.6" y="594.63" width="7.62" height="62.07" fill="#808080" stroke="#4a4a4a" stroke-width="1.1"/>
<rect x="285.42" y="592.7" width="7.62" height="64" fill="#d77482" stroke="#c23a52" stroke-width="1.1"/>
<rect x="293.24" y="588.37" width="7.62" height="68.33" fill="#808080" stroke="#4a4a4a" stroke-width="1.1"/>
<rect x="301.06" y="592.7" width="7.62" height="64" fill="#d77482" stroke="#c23a52" stroke-width="1.1"/>
<rect x="308.88" y="599.93" width="7.62" height="56.77" fill="#808080" stroke="#4a4a4a" stroke-width="1.1"/>
<rect x="316.7" y="597.52" width="7.62" height="59.18" fill="#d77482" stroke="#c23a52" stroke-width="1.1"/>
<rect x="324.52" y="595.83" width="7.62" height="60.87" fill="#808080" stroke="#4a4a4a" stroke-width="1.1"/>
<rect x="332.35" y="592.7" width="7.62" height="64" fill="#808080" stroke="#4a4a4a" stroke-width="1.1"/>
<rect x="340.17" y="599.93" width="7.62" height="56.77" fill="#808080" stroke="#4a4a4a" stroke-width="1.1"/>
<rect x="347.99" y="591.5" width="7.62" height="65.2" fill="#d77482" stroke="#c23a52" stroke-width="1.1"/>
<rect x="355.81" y="602.34" width="7.62" height="54.36" fill="#d77482" stroke="#c23a52" stroke-width="1.1"/>
<rect x="363.63" y="596.32" width="7.62" height="60.38" fill="#d77482" stroke="#c23a52" stroke-width="1.1"/>
<rect x="371.45" y="593.91" width="7.62" height="62.79" fill="#d77482" stroke="#c23a52" stroke-width="1.1"/>
<rect x="379.27" y="607.15" width="7.62" height="49.55" fill="#d77482" stroke="#c23a52" stroke-width="1.1"/>
<rect x="387.09" y="593.43" width="7.62" height="63.27" fill="#808080" stroke="#4a4a4a" stroke-width="1.1"/>
<rect x="394.91" y="605.23" width="7.62" height="51.47" fill="#d77482" stroke="#c23a52" stroke-width="1.1"/>
<rect x="402.73" y="589.81" width="7.62" height="66.89" fill="#808080" stroke="#4a4a4a" stroke-width="1.1"/>
<rect x="410.56" y="596.32" width="7.62" height="60.38" fill="#808080" stroke="#4a4a4a" stroke-width="1.1"/>
<rect x="418.38" y="602.82" width="7.62" height="53.88" fill="#808080" stroke="#4a4a4a" stroke-width="1.1"/>
<rect x="426.2" y="604.02" width="7.62" height="52.68" fill="#d77482" stroke="#c23a52" stroke-width="1.1"/>
<rect x="434.02" y="597.52" width="7.62" height="59.18" fill="#d77482" stroke="#c23a52" stroke-width="1.1"/>
<rect x="441.84" y="601.13" width="7.62" height="55.57" fill="#808080" stroke="#4a4a4a" stroke-width="1.1"/>
<rect x="449.66" y="601.13" width="7.62" height="55.57" fill="#808080" stroke="#4a4a4a" stroke-width="1.1"/>
<rect x="457.48" y="591.5" width="7.62" height="65.2" fill="#d77482" stroke="#c23a52" stroke-width="1.1"/>
<rect x="465.3" y="595.11" width="7.62" height="61.59" fill="#808080" stroke="#4a4a4a" stroke-width="1.1"/>
<rect x="473.12" y="601.13" width="7.62" height="55.57" fill="#808080" stroke="#4a4a4a" stroke-width="1.1"/>
<rect x="480.94" y="591.5" width="7.62" height="65.2" fill="#808080" stroke="#4a4a4a" stroke-width="1.1"/>
<rect x="488.77" y="589.81" width="7.62" height="66.89" fill="#808080" stroke="#4a4a4a" stroke-width="1.1"/>
<rect x="496.59" y="595.11" width="7.62" height="61.59" fill="#d77482" stroke="#c23a52" stroke-width="1.1"/>
<rect x="504.41" y="596.32" width="7.62" height="60.38" fill="#808080" stroke="#4a4a4a" stroke-width="1.1"/>
<rect x="512.23" y="597.52" width="7.62" height="59.18" fill="#d77482" stroke="#c23a52" stroke-width="1.1"/>
<rect x="520.05" y="596.32" width="7.62" height="60.38" fill="#d77482" stroke="#c23a52" stroke-width="1.1"/>
<rect x="527.87" y="585" width="7.62" height="71.7" fill="#808080" stroke="#4a4a4a" stroke-width="1.1"/>
<rect x="535.69" y="533.71" width="7.62" height="122.99" fill="#808080" stroke="#4a4a4a" stroke-width="1.1"/>
<rect x="543.51" y="588.37" width="7.62" height="68.33" fill="#808080" stroke="#4a4a4a" stroke-width="1.1"/>
<rect x="551.33" y="592.7" width="7.62" height="64" fill="#d77482" stroke="#c23a52" stroke-width="1.1"/>
<rect x="559.15" y="595.11" width="7.62" height="61.59" fill="#d77482" stroke="#c23a52" stroke-width="1.1"/>
<rect x="566.98" y="588.37" width="7.62" height="68.33" fill="#d77482" stroke="#c23a52" stroke-width="1.1"/>
<rect x="574.8" y="596.32" width="7.62" height="60.38" fill="#808080" stroke="#4a4a4a" stroke-width="1.1"/>
<rect x="582.62" y="592.7" width="7.62" height="64" fill="#808080" stroke="#4a4a4a" stroke-width="1.1"/>
<rect x="590.44" y="583.55" width="7.62" height="73.15" fill="#808080" stroke="#4a4a4a" stroke-width="1.1"/>
<rect x="598.26" y="583.55" width="7.62" height="73.15" fill="#808080" stroke="#4a4a4a" stroke-width="1.1"/>
<rect x="606.08" y="594.63" width="7.62" height="62.07" fill="#808080" stroke="#4a4a4a" stroke-width="1.1"/>
<rect x="613.9" y="596.32" width="7.62" height="60.38" fill="#808080" stroke="#4a4a4a" stroke-width="1.1"/>
<rect x="621.72" y="588.37" width="7.62" height="68.33" fill="#808080" stroke="#4a4a4a" stroke-width="1.1"/>
<rect x="629.54" y="594.63" width="7.62" height="62.07" fill="#d77482" stroke="#c23a52" stroke-width="1.1"/>
<rect x="637.36" y="596.32" width="7.62" height="60.38" fill="#808080" stroke="#4a4a4a" stroke-width="1.1"/>
<rect x="645.19" y="599.21" width="7.62" height="57.49" fill="#d77482" stroke="#c23a52" stroke-width="1.1"/>
<rect x="653.01" y="583.55" width="7.62" height="73.15" fill="#d77482" stroke="#c23a52" stroke-width="1.1"/>
<rect x="660.83" y="599.21" width="7.62" height="57.49" fill="#808080" stroke="#4a4a4a" stroke-width="1.1"/>
<rect x="668.65" y="594.63" width="7.62" height="62.07" fill="#d77482" stroke="#c23a52" stroke-width="1.1"/>
<rect x="676.47" y="596.32" width="7.62" height="60.38" fill="#808080" stroke="#4a4a4a" stroke-width="1.1"/>
<rect x="684.29" y="588.37" width="7.62" height="68.33" fill="#d77482" stroke="#c23a52" stroke-width="1.1"/>
<rect x="692.11" y="591.5" width="7.62" height="65.2" fill="#808080" stroke="#4a4a4a" stroke-width="1.1"/>
<rect x="699.93" y="601.13" width="7.62" height="55.57" fill="#808080" stroke="#4a4a4a" stroke-width="1.1"/>
<rect x="707.75" y="591.5" width="7.62" height="65.2" fill="#808080" stroke="#4a4a4a" stroke-width="1.1"/>
<rect x="715.57" y="585" width="7.62" height="71.7" fill="#d77482" stroke="#c23a52" stroke-width="1.1"/>
<rect x="723.4" y="588.37" width="7.62" height="68.33" fill="#808080" stroke="#4a4a4a" stroke-width="1.1"/>
<rect x="731.22" y="594.63" width="7.62" height="62.07" fill="#808080" stroke="#4a4a4a" stroke-width="1.1"/>
<rect x="739.04" y="588.37" width="7.62" height="68.33" fill="#808080" stroke="#4a4a4a" stroke-width="1.1"/>
<rect x="746.86" y="586.68" width="7.62" height="70.02" fill="#808080" stroke="#4a4a4a" stroke-width="1.1"/>
<rect x="754.68" y="574.16" width="7.62" height="82.54" fill="#d77482" stroke="#c23a52" stroke-width="1.1"/>
<rect x="762.5" y="577.53" width="7.62" height="79.17" fill="#d77482" stroke="#c23a52" stroke-width="1.1"/>
<rect x="770.32" y="578.98" width="7.62" height="77.72" fill="#808080" stroke="#4a4a4a" stroke-width="1.1"/>
<rect x="778.14" y="580.66" width="7.62" height="76.04" fill="#808080" stroke="#4a4a4a" stroke-width="1.1"/>
<rect x="785.96" y="578.98" width="7.62" height="77.72" fill="#d77482" stroke="#c23a52" stroke-width="1.1"/>
<rect x="793.78" y="583.55" width="7.62" height="73.15" fill="#808080" stroke="#4a4a4a" stroke-width="1.1"/>
<rect x="801.61" y="581.87" width="7.62" height="74.83" fill="#d77482" stroke="#c23a52" stroke-width="1.1"/>
<rect x="809.43" y="583.55" width="7.62" height="73.15" fill="#808080" stroke="#4a4a4a" stroke-width="1.1"/>
<rect x="817.25" y="591.5" width="7.62" height="65.2" fill="#808080" stroke="#4a4a4a" stroke-width="1.1"/>
<rect x="825.07" y="597.52" width="7.62" height="59.18" fill="#808080" stroke="#4a4a4a" stroke-width="1.1"/>
<rect x="832.89" y="596.32" width="7.62" height="60.38" fill="#808080" stroke="#4a4a4a" stroke-width="1.1"/>
<rect x="840.71" y="586.68" width="7.62" height="70.02" fill="#d77482" stroke="#c23a52" stroke-width="1.1"/>
<rect x="848.53" y="592.7" width="7.62" height="64" fill="#d77482" stroke="#c23a52" stroke-width="1.1"/>
<rect x="856.35" y="591.5" width="7.62" height="65.2" fill="#d77482" stroke="#c23a52" stroke-width="1.1"/>
<rect x="864.17" y="588.37" width="7.62" height="68.33" fill="#d77482" stroke="#c23a52" stroke-width="1.1"/>
<rect x="871.99" y="591.5" width="7.62" height="65.2" fill="#808080" stroke="#4a4a4a" stroke-width="1.1"/>
<rect x="879.82" y="580.66" width="7.62" height="76.04" fill="#d77482" stroke="#c23a52" stroke-width="1.1"/>
<rect x="887.64" y="574.16" width="7.62" height="82.54" fill="#808080" stroke="#4a4a4a" stroke-width="1.1"/>
<rect x="895.46" y="565.01" width="7.62" height="91.69" fill="#808080" stroke="#4a4a4a" stroke-width="1.1"/>
<rect x="903.28" y="589.81" width="7.62" height="66.89" fill="#808080" stroke="#4a4a4a" stroke-width="1.1"/>
<rect x="911.1" y="601.13" width="7.62" height="55.57" fill="#808080" stroke="#4a4a4a" stroke-width="1.1"/>
<rect x="918.92" y="625.93" width="7.62" height="30.77" fill="#808080" stroke="#4a4a4a" stroke-width="1.1"/>
<rect x="926.74" y="599.21" width="7.62" height="57.49" fill="#d77482" stroke="#c23a52" stroke-width="1.1"/>
<rect x="934.56" y="594.63" width="7.62" height="62.07" fill="#808080" stroke="#4a4a4a" stroke-width="1.1"/>
<rect x="942.38" y="594.63" width="7.62" height="62.07" fill="#808080" stroke="#4a4a4a" stroke-width="1.1"/>
<rect x="950.2" y="594.63" width="7.62" height="62.07" fill="#808080" stroke="#4a4a4a" stroke-width="1.1"/>
<rect x="958.03" y="591.5" width="7.62" height="65.2" fill="#808080" stroke="#4a4a4a" stroke-width="1.1"/>
<rect x="965.85" y="590.3" width="7.62" height="66.4" fill="#d77482" stroke="#c23a52" stroke-width="1.1"/>
<rect x="973.67" y="599.21" width="7.62" height="57.49" fill="#d77482" stroke="#c23a52" stroke-width="1.1"/>
<rect x="981.49" y="583.55" width="7.62" height="73.15" fill="#808080" stroke="#4a4a4a" stroke-width="1.1"/>
<rect x="989.31" y="591.5" width="7.62" height="65.2" fill="#808080" stroke="#4a4a4a" stroke-width="1.1"/>
<rect x="997.13" y="591.5" width="7.62" height="65.2" fill="#d77482" stroke="#c23a52" stroke-width="1.1"/>
<rect x="1004.95" y="588.37" width="7.62" height="68.33" fill="#d77482" stroke="#c23a52" stroke-width="1.1"/>
<rect x="1012.77" y="590.3" width="7.62" height="66.4" fill="#d77482" stroke="#c23a52" stroke-width="1.1"/>
<rect x="1020.59" y="585" width="7.62" height="71.7" fill="#d77482" stroke="#c23a52" stroke-width="1.1"/>
<rect x="1028.41" y="589.81" width="7.62" height="66.89" fill="#808080" stroke="#4a4a4a" stroke-width="1.1"/>
<rect x="1036.24" y="514.93" width="7.62" height="141.77" fill="#808080" stroke="#4a4a4a" stroke-width="1.1"/>
<rect x="1044.06" y="602.34" width="7.62" height="54.36" fill="#808080" stroke="#4a4a4a" stroke-width="1.1"/>
<rect x="1051.88" y="610.28" width="7.62" height="46.42" fill="#808080" stroke="#4a4a4a" stroke-width="1.1"/>
<rect x="1059.7" y="634.12" width="7.62" height="22.58" fill="#808080" stroke="#4a4a4a" stroke-width="1.1"/>
<rect x="1067.52" y="625.93" width="7.62" height="30.77" fill="#d77482" stroke="#c23a52" stroke-width="1.1"/>
<rect x="1075.34" y="616.54" width="7.62" height="40.16" fill="#d77482" stroke="#c23a52" stroke-width="1.1"/>
<rect x="1083.16" y="621.12" width="7.62" height="35.58" fill="#d77482" stroke="#c23a52" stroke-width="1.1"/>
<rect x="1090.98" y="621.12" width="7.62" height="35.58" fill="#d77482" stroke="#c23a52" stroke-width="1.1"/>
<rect x="1098.8" y="602.34" width="7.62" height="54.36" fill="#808080" stroke="#4a4a4a" stroke-width="1.1"/>
<rect x="1106.62" y="585" width="7.62" height="71.7" fill="#808080" stroke="#4a4a4a" stroke-width="1.1"/>
<rect x="1114.45" y="588.37" width="7.62" height="68.33" fill="#808080" stroke="#4a4a4a" stroke-width="1.1"/>
<rect x="1122.27" y="589.81" width="7.62" height="66.89" fill="#d77482" stroke="#c23a52" stroke-width="1.1"/>
<rect x="1130.09" y="589.81" width="7.62" height="66.89" fill="#808080" stroke="#4a4a4a" stroke-width="1.1"/>
<rect x="1137.91" y="594.63" width="7.62" height="62.07" fill="#808080" stroke="#4a4a4a" stroke-width="1.1"/>
<rect x="1145.73" y="594.63" width="7.62" height="62.07" fill="#808080" stroke="#4a4a4a" stroke-width="1.1"/>
<rect x="1153.55" y="589.81" width="7.62" height="66.89" fill="#d77482" stroke="#c23a52" stroke-width="1.1"/>
<rect x="1161.37" y="586.68" width="7.62" height="70.02" fill="#d77482" stroke="#c23a52" stroke-width="1.1"/>
<rect x="1169.19" y="591.5" width="7.62" height="65.2" fill="#808080" stroke="#4a4a4a" stroke-width="1.1"/>
<rect x="1177.01" y="572.72" width="7.62" height="83.98" fill="#d77482" stroke="#c23a52" stroke-width="1.1"/>
<rect x="1184.83" y="575.85" width="7.62" height="80.85" fill="#d77482" stroke="#c23a52" stroke-width="1.1"/>
<rect x="1192.66" y="577.53" width="7.62" height="79.17" fill="#808080" stroke="#4a4a4a" stroke-width="1.1"/>
<rect x="1200.48" y="588.37" width="7.62" height="68.33" fill="#808080" stroke="#4a4a4a" stroke-width="1.1"/>
<rect x="1208.3" y="589.81" width="7.62" height="66.89" fill="#808080" stroke="#4a4a4a" stroke-width="1.1"/>
<rect x="1216.12" y="594.63" width="7.62" height="62.07" fill="#808080" stroke="#4a4a4a" stroke-width="1.1"/>
<rect x="1223.94" y="590.3" width="7.62" height="66.4" fill="#808080" stroke="#4a4a4a" stroke-width="1.1"/>
<rect x="1231.76" y="586.68" width="7.62" height="70.02" fill="#d77482" stroke="#c23a52" stroke-width="1.1"/>
<rect x="1239.58" y="571.03" width="7.62" height="85.67" fill="#d77482" stroke="#c23a52" stroke-width="1.1"/>
<rect x="1247.4" y="568.14" width="7.62" height="88.56" fill="#d77482" stroke="#c23a52" stroke-width="1.1"/>
<polyline fill="none" stroke="#ff0000" stroke-width="1.7" stroke-linejoin="round" stroke-linecap="round" points="25.8,592.7 42.47,592.7 50.29,591.02 62.02,590.54 77.66,591.5 85.48,590.3 101.13,590.54 116.77,591.5 148.05,592.46 210.62,592.7 257.55,592.46 273.19,591.74 335.76,592.7 406.14,593.91 484.35,594.63 531.28,594.87 539.1,591.98 601.67,591.98 648.6,592.7 679.88,592.22 750.27,591.98 765.91,590.54 812.84,589.09 836.3,590.06 875.4,591.02 898.87,589.57 930.15,591.02 992.72,591.02 1031.83,590.54 1039.65,587.17 1047.47,588.61 1063.11,589.57 1078.75,592.7 1102.21,594.63 1149.14,594.63 1180.42,593.43 1211.71,591.74 1250.81,590.3"/>
<rect x="27" y="506" width="284.5" height="18.5" fill="#fff"/>
<path fill="#8aa08a" stroke="#333" stroke-width="0.8" d="M29.8 513.5h3v6.5h-3z M33 507.6h3v12.4h-3z M36.2 511h3v9h-3z"/>
<text x="51.3" y="520.5" font-family="'DejaVu Sans', sans-serif" font-size="14.8" font-weight="normal" fill="#000" text-anchor="start" textLength="258.4" lengthAdjust="spacingAndGlyphs">Volume 4.26B, EMA(50) 3.22B</text>
<polygon fill="#808080" points="46,534.2 32.2,520.5 39.6,520.5 39.6,507.4 52.4,507.4 52.4,520.5 59.8,520.5"/>
<polygon fill="#808080" points="124,579.3 110.2,565.6 117.6,565.6 117.6,552.5 130.4,552.5 130.4,565.6 137.8,565.6"/>
<polygon fill="#808080" points="171,577.6 157.2,563.9 164.6,563.9 164.6,550.8 177.4,550.8 177.4,563.9 184.8,563.9"/>
<polygon fill="#808080" points="248.7,580.5 234.9,566.8 242.3,566.8 242.3,553.7 255.1,553.7 255.1,566.8 262.5,566.8"/>
<polygon fill="#808080" points="257.2,566 243.4,552.3 250.8,552.3 250.8,539.2 263.6,539.2 263.6,552.3 271,552.3"/>
<polygon fill="#808080" points="264.4,551.6 250.6,537.9 258,537.9 258,524.8 270.8,524.8 270.8,537.9 278.2,537.9"/>
<polygon fill="#808080" points="285.6,582.4 271.8,568.7 279.2,568.7 279.2,555.6 292,555.6 292,568.7 299.4,568.7"/>
<polygon fill="#808080" points="316.7,585.3 302.9,571.6 310.3,571.6 310.3,558.5 323.1,558.5 323.1,571.6 330.5,571.6"/>
<polygon fill="#808080" points="348.8,582.4 335,568.7 342.4,568.7 342.4,555.6 355.2,555.6 355.2,568.7 362.6,568.7"/>
<polygon fill="#808080" points="362.5,587.2 348.7,573.5 356.1,573.5 356.1,560.4 368.9,560.4 368.9,573.5 376.3,573.5"/>
<polygon fill="#808080" points="374.5,573.2 360.7,559.5 368.1,559.5 368.1,546.4 380.9,546.4 380.9,559.5 388.3,559.5"/>
<polygon fill="#808080" points="436.7,584.1 422.9,570.4 430.3,570.4 430.3,557.3 443.1,557.3 443.1,570.4 450.5,570.4"/>
<polygon fill="#808080" points="460.7,576.1 446.9,562.4 454.3,562.4 454.3,549.3 467.1,549.3 467.1,562.4 474.5,562.4"/>
<polygon fill="#808080" points="571.5,580.5 557.7,566.8 565.1,566.8 565.1,553.7 577.9,553.7 577.9,566.8 585.3,566.8"/>
<polygon fill="#808080" points="621.4,578.5 607.6,564.8 615,564.8 615,551.7 627.8,551.7 627.8,564.8 635.2,564.8"/>
<polygon fill="#808080" points="652,567.2 638.2,553.5 645.6,553.5 645.6,540.4 658.4,540.4 658.4,553.5 665.8,553.5"/>
<polygon fill="#808080" points="684.1,578.5 670.3,564.8 677.7,564.8 677.7,551.7 690.5,551.7 690.5,564.8 697.9,564.8"/>
<polygon fill="#808080" points="716.1,572.5 702.3,558.8 709.7,558.8 709.7,545.7 722.5,545.7 722.5,558.8 729.9,558.8"/>
<polygon fill="#808080" points="786.2,567.2 772.4,553.5 779.8,553.5 779.8,540.4 792.6,540.4 792.6,553.5 800,553.5"/>
<polygon fill="#808080" points="801.3,569.1 787.5,555.4 794.9,555.4 794.9,542.3 807.7,542.3 807.7,555.4 815.1,555.4"/>
<polygon fill="#808080" points="835.5,575.2 821.7,561.5 829.1,561.5 829.1,548.4 841.9,548.4 841.9,561.5 849.3,561.5"/>
<polygon fill="#808080" points="857.9,582.9 844.1,569.2 851.5,569.2 851.5,556.1 864.3,556.1 864.3,569.2 871.7,569.2"/>
<polygon fill="#808080" points="865.1,587.7 851.3,574 858.7,574 858.7,560.9 871.5,560.9 871.5,574 878.9,574"/>
<polygon fill="#808080" points="878.4,573.2 864.6,559.5 872,559.5 872,546.4 884.8,546.4 884.8,559.5 892.2,559.5"/>
<polygon fill="#808080" points="928.9,585.3 915.1,571.6 922.5,571.6 922.5,558.5 935.3,558.5 935.3,571.6 942.7,571.6"/>
<polygon fill="#808080" points="959.2,582.9 945.4,569.2 952.8,569.2 952.8,556.1 965.6,556.1 965.6,569.2 973,569.2"/>
<polygon fill="#808080" points="967.3,570.1 953.5,556.4 960.9,556.4 960.9,543.3 973.7,543.3 973.7,556.4 981.1,556.4"/>
<polygon fill="#808080" points="999.8,579.3 986,565.6 993.4,565.6 993.4,552.5 1006.2,552.5 1006.2,565.6 1013.6,565.6"/>
<polygon fill="#808080" points="1023,581.2 1009.2,567.5 1016.6,567.5 1016.6,554.4 1029.4,554.4 1029.4,567.5 1036.8,567.5"/>
<polygon fill="#ff0000" points="1075.9,603.3 1062.1,589.6 1069.5,589.6 1069.5,576.5 1082.3,576.5 1082.3,589.6 1089.7,589.6"/>
<polygon fill="#ff0000" points="1091.3,616.1 1077.5,602.4 1084.9,602.4 1084.9,589.3 1097.7,589.3 1097.7,602.4 1105.1,602.4"/>
<polygon fill="#ff0000" points="1163.3,580.5 1149.5,566.8 1156.9,566.8 1156.9,553.7 1169.7,553.7 1169.7,566.8 1177.1,566.8"/>
<polygon fill="#ff0000" points="1250.5,560.5 1236.7,546.8 1244.1,546.8 1244.1,533.7 1256.9,533.7 1256.9,546.8 1264.3,546.8"/>
<rect x="25.8" y="504.3" width="1235.5" height="152.4" fill="none" stroke="#b4b4b4" stroke-width="1.7"/>
<line x1="30.74" y1="504.3" x2="30.74" y2="502.1" stroke="#b0b0b0" stroke-width="1.2"/>
<line x1="38.56" y1="504.3" x2="38.56" y2="502.1" stroke="#b0b0b0" stroke-width="1.2"/>
<line x1="46.38" y1="504.3" x2="46.38" y2="502.1" stroke="#b0b0b0" stroke-width="1.2"/>
<line x1="54.2" y1="504.3" x2="54.2" y2="502.1" stroke="#b0b0b0" stroke-width="1.2"/>
<line x1="62.02" y1="504.3" x2="62.02" y2="502.1" stroke="#b0b0b0" stroke-width="1.2"/>
<line x1="69.84" y1="504.3" x2="69.84" y2="502.1" stroke="#b0b0b0" stroke-width="1.2"/>
<line x1="77.66" y1="504.3" x2="77.66" y2="502.1" stroke="#b0b0b0" stroke-width="1.2"/>
<line x1="85.48" y1="504.3" x2="85.48" y2="502.1" stroke="#b0b0b0" stroke-width="1.2"/>
<line x1="93.31" y1="504.3" x2="93.31" y2="502.1" stroke="#b0b0b0" stroke-width="1.2"/>
<line x1="101.13" y1="504.3" x2="101.13" y2="502.1" stroke="#b0b0b0" stroke-width="1.2"/>
<line x1="108.95" y1="504.3" x2="108.95" y2="502.1" stroke="#b0b0b0" stroke-width="1.2"/>
<line x1="116.77" y1="504.3" x2="116.77" y2="502.1" stroke="#b0b0b0" stroke-width="1.2"/>
<line x1="124.59" y1="504.3" x2="124.59" y2="502.1" stroke="#b0b0b0" stroke-width="1.2"/>
<line x1="132.41" y1="504.3" x2="132.41" y2="502.1" stroke="#b0b0b0" stroke-width="1.2"/>
<line x1="140.23" y1="504.3" x2="140.23" y2="502.1" stroke="#b0b0b0" stroke-width="1.2"/>
<line x1="148.05" y1="504.3" x2="148.05" y2="502.1" stroke="#b0b0b0" stroke-width="1.2"/>
<line x1="155.87" y1="504.3" x2="155.87" y2="502.1" stroke="#b0b0b0" stroke-width="1.2"/>
<line x1="163.69" y1="504.3" x2="163.69" y2="502.1" stroke="#b0b0b0" stroke-width="1.2"/>
<line x1="171.51" y1="504.3" x2="171.51" y2="502.1" stroke="#b0b0b0" stroke-width="1.2"/>
<line x1="179.34" y1="504.3" x2="179.34" y2="502.1" stroke="#b0b0b0" stroke-width="1.2"/>
<line x1="187.16" y1="504.3" x2="187.16" y2="502.1" stroke="#b0b0b0" stroke-width="1.2"/>
<line x1="194.98" y1="504.3" x2="194.98" y2="502.1" stroke="#b0b0b0" stroke-width="1.2"/>
<line x1="202.8" y1="504.3" x2="202.8" y2="502.1" stroke="#b0b0b0" stroke-width="1.2"/>
<line x1="210.62" y1="504.3" x2="210.62" y2="502.1" stroke="#b0b0b0" stroke-width="1.2"/>
<line x1="218.44" y1="504.3" x2="218.44" y2="502.1" stroke="#b0b0b0" stroke-width="1.2"/>
<line x1="226.26" y1="504.3" x2="226.26" y2="502.1" stroke="#b0b0b0" stroke-width="1.2"/>
<line x1="234.08" y1="504.3" x2="234.08" y2="502.1" stroke="#b0b0b0" stroke-width="1.2"/>
<line x1="241.9" y1="504.3" x2="241.9" y2="502.1" stroke="#b0b0b0" stroke-width="1.2"/>
<line x1="249.73" y1="504.3" x2="249.73" y2="502.1" stroke="#b0b0b0" stroke-width="1.2"/>
<line x1="257.55" y1="504.3" x2="257.55" y2="502.1" stroke="#b0b0b0" stroke-width="1.2"/>
<line x1="265.37" y1="504.3" x2="265.37" y2="502.1" stroke="#b0b0b0" stroke-width="1.2"/>
<line x1="273.19" y1="504.3" x2="273.19" y2="502.1" stroke="#b0b0b0" stroke-width="1.2"/>
<line x1="281.01" y1="504.3" x2="281.01" y2="502.1" stroke="#b0b0b0" stroke-width="1.2"/>
<line x1="288.83" y1="504.3" x2="288.83" y2="502.1" stroke="#b0b0b0" stroke-width="1.2"/>
<line x1="296.65" y1="504.3" x2="296.65" y2="502.1" stroke="#b0b0b0" stroke-width="1.2"/>
<line x1="304.47" y1="504.3" x2="304.47" y2="502.1" stroke="#b0b0b0" stroke-width="1.2"/>
<line x1="312.29" y1="504.3" x2="312.29" y2="502.1" stroke="#b0b0b0" stroke-width="1.2"/>
<line x1="320.11" y1="504.3" x2="320.11" y2="502.1" stroke="#b0b0b0" stroke-width="1.2"/>
<line x1="327.94" y1="504.3" x2="327.94" y2="502.1" stroke="#b0b0b0" stroke-width="1.2"/>
<line x1="335.76" y1="504.3" x2="335.76" y2="502.1" stroke="#b0b0b0" stroke-width="1.2"/>
<line x1="343.58" y1="504.3" x2="343.58" y2="502.1" stroke="#b0b0b0" stroke-width="1.2"/>
<line x1="351.4" y1="504.3" x2="351.4" y2="502.1" stroke="#b0b0b0" stroke-width="1.2"/>
<line x1="359.22" y1="504.3" x2="359.22" y2="502.1" stroke="#b0b0b0" stroke-width="1.2"/>
<line x1="367.04" y1="504.3" x2="367.04" y2="502.1" stroke="#b0b0b0" stroke-width="1.2"/>
<line x1="374.86" y1="504.3" x2="374.86" y2="502.1" stroke="#b0b0b0" stroke-width="1.2"/>
<line x1="382.68" y1="504.3" x2="382.68" y2="502.1" stroke="#b0b0b0" stroke-width="1.2"/>
<line x1="390.5" y1="504.3" x2="390.5" y2="502.1" stroke="#b0b0b0" stroke-width="1.2"/>
<line x1="398.32" y1="504.3" x2="398.32" y2="502.1" stroke="#b0b0b0" stroke-width="1.2"/>
<line x1="406.14" y1="504.3" x2="406.14" y2="502.1" stroke="#b0b0b0" stroke-width="1.2"/>
<line x1="413.97" y1="504.3" x2="413.97" y2="502.1" stroke="#b0b0b0" stroke-width="1.2"/>
<line x1="421.79" y1="504.3" x2="421.79" y2="502.1" stroke="#b0b0b0" stroke-width="1.2"/>
<line x1="429.61" y1="504.3" x2="429.61" y2="502.1" stroke="#b0b0b0" stroke-width="1.2"/>
<line x1="437.43" y1="504.3" x2="437.43" y2="502.1" stroke="#b0b0b0" stroke-width="1.2"/>
<line x1="445.25" y1="504.3" x2="445.25" y2="502.1" stroke="#b0b0b0" stroke-width="1.2"/>
<line x1="453.07" y1="504.3" x2="453.07" y2="502.1" stroke="#b0b0b0" stroke-width="1.2"/>
<line x1="460.89" y1="504.3" x2="460.89" y2="502.1" stroke="#b0b0b0" stroke-width="1.2"/>
<line x1="468.71" y1="504.3" x2="468.71" y2="502.1" stroke="#b0b0b0" stroke-width="1.2"/>
<line x1="476.53" y1="504.3" x2="476.53" y2="502.1" stroke="#b0b0b0" stroke-width="1.2"/>
<line x1="484.35" y1="504.3" x2="484.35" y2="502.1" stroke="#b0b0b0" stroke-width="1.2"/>
<line x1="492.18" y1="504.3" x2="492.18" y2="502.1" stroke="#b0b0b0" stroke-width="1.2"/>
<line x1="500" y1="504.3" x2="500" y2="502.1" stroke="#b0b0b0" stroke-width="1.2"/>
<line x1="507.82" y1="504.3" x2="507.82" y2="502.1" stroke="#b0b0b0" stroke-width="1.2"/>
<line x1="515.64" y1="504.3" x2="515.64" y2="502.1" stroke="#b0b0b0" stroke-width="1.2"/>
<line x1="523.46" y1="504.3" x2="523.46" y2="502.1" stroke="#b0b0b0" stroke-width="1.2"/>
<line x1="531.28" y1="504.3" x2="531.28" y2="502.1" stroke="#b0b0b0" stroke-width="1.2"/>
<line x1="539.1" y1="504.3" x2="539.1" y2="502.1" stroke="#b0b0b0" stroke-width="1.2"/>
<line x1="546.92" y1="504.3" x2="546.92" y2="502.1" stroke="#b0b0b0" stroke-width="1.2"/>
<line x1="554.74" y1="504.3" x2="554.74" y2="502.1" stroke="#b0b0b0" stroke-width="1.2"/>
<line x1="562.57" y1="504.3" x2="562.57" y2="502.1" stroke="#b0b0b0" stroke-width="1.2"/>
<line x1="570.39" y1="504.3" x2="570.39" y2="502.1" stroke="#b0b0b0" stroke-width="1.2"/>
<line x1="578.21" y1="504.3" x2="578.21" y2="502.1" stroke="#b0b0b0" stroke-width="1.2"/>
<line x1="586.03" y1="504.3" x2="586.03" y2="502.1" stroke="#b0b0b0" stroke-width="1.2"/>
<line x1="593.85" y1="504.3" x2="593.85" y2="502.1" stroke="#b0b0b0" stroke-width="1.2"/>
<line x1="601.67" y1="504.3" x2="601.67" y2="502.1" stroke="#b0b0b0" stroke-width="1.2"/>
<line x1="609.49" y1="504.3" x2="609.49" y2="502.1" stroke="#b0b0b0" stroke-width="1.2"/>
<line x1="617.31" y1="504.3" x2="617.31" y2="502.1" stroke="#b0b0b0" stroke-width="1.2"/>
<line x1="625.13" y1="504.3" x2="625.13" y2="502.1" stroke="#b0b0b0" stroke-width="1.2"/>
<line x1="632.95" y1="504.3" x2="632.95" y2="502.1" stroke="#b0b0b0" stroke-width="1.2"/>
<line x1="640.77" y1="504.3" x2="640.77" y2="502.1" stroke="#b0b0b0" stroke-width="1.2"/>
<line x1="648.6" y1="504.3" x2="648.6" y2="502.1" stroke="#b0b0b0" stroke-width="1.2"/>
<line x1="656.42" y1="504.3" x2="656.42" y2="502.1" stroke="#b0b0b0" stroke-width="1.2"/>
<line x1="664.24" y1="504.3" x2="664.24" y2="502.1" stroke="#b0b0b0" stroke-width="1.2"/>
<line x1="672.06" y1="504.3" x2="672.06" y2="502.1" stroke="#b0b0b0" stroke-width="1.2"/>
<line x1="679.88" y1="504.3" x2="679.88" y2="502.1" stroke="#b0b0b0" stroke-width="1.2"/>
<line x1="687.7" y1="504.3" x2="687.7" y2="502.1" stroke="#b0b0b0" stroke-width="1.2"/>
<line x1="695.52" y1="504.3" x2="695.52" y2="502.1" stroke="#b0b0b0" stroke-width="1.2"/>
<line x1="703.34" y1="504.3" x2="703.34" y2="502.1" stroke="#b0b0b0" stroke-width="1.2"/>
<line x1="711.16" y1="504.3" x2="711.16" y2="502.1" stroke="#b0b0b0" stroke-width="1.2"/>
<line x1="718.99" y1="504.3" x2="718.99" y2="502.1" stroke="#b0b0b0" stroke-width="1.2"/>
<line x1="726.81" y1="504.3" x2="726.81" y2="502.1" stroke="#b0b0b0" stroke-width="1.2"/>
<line x1="734.63" y1="504.3" x2="734.63" y2="502.1" stroke="#b0b0b0" stroke-width="1.2"/>
<line x1="742.45" y1="504.3" x2="742.45" y2="502.1" stroke="#b0b0b0" stroke-width="1.2"/>
<line x1="750.27" y1="504.3" x2="750.27" y2="502.1" stroke="#b0b0b0" stroke-width="1.2"/>
<line x1="758.09" y1="504.3" x2="758.09" y2="502.1" stroke="#b0b0b0" stroke-width="1.2"/>
<line x1="765.91" y1="504.3" x2="765.91" y2="502.1" stroke="#b0b0b0" stroke-width="1.2"/>
<line x1="773.73" y1="504.3" x2="773.73" y2="502.1" stroke="#b0b0b0" stroke-width="1.2"/>
<line x1="781.55" y1="504.3" x2="781.55" y2="502.1" stroke="#b0b0b0" stroke-width="1.2"/>
<line x1="789.37" y1="504.3" x2="789.37" y2="502.1" stroke="#b0b0b0" stroke-width="1.2"/>
<line x1="797.2" y1="504.3" x2="797.2" y2="502.1" stroke="#b0b0b0" stroke-width="1.2"/>
<line x1="805.02" y1="504.3" x2="805.02" y2="502.1" stroke="#b0b0b0" stroke-width="1.2"/>
<line x1="812.84" y1="504.3" x2="812.84" y2="502.1" stroke="#b0b0b0" stroke-width="1.2"/>
<line x1="820.66" y1="504.3" x2="820.66" y2="502.1" stroke="#b0b0b0" stroke-width="1.2"/>
<line x1="828.48" y1="504.3" x2="828.48" y2="502.1" stroke="#b0b0b0" stroke-width="1.2"/>
<line x1="836.3" y1="504.3" x2="836.3" y2="502.1" stroke="#b0b0b0" stroke-width="1.2"/>
<line x1="844.12" y1="504.3" x2="844.12" y2="502.1" stroke="#b0b0b0" stroke-width="1.2"/>
<line x1="851.94" y1="504.3" x2="851.94" y2="502.1" stroke="#b0b0b0" stroke-width="1.2"/>
<line x1="859.76" y1="504.3" x2="859.76" y2="502.1" stroke="#b0b0b0" stroke-width="1.2"/>
<line x1="867.58" y1="504.3" x2="867.58" y2="502.1" stroke="#b0b0b0" stroke-width="1.2"/>
<line x1="875.4" y1="504.3" x2="875.4" y2="502.1" stroke="#b0b0b0" stroke-width="1.2"/>
<line x1="883.23" y1="504.3" x2="883.23" y2="502.1" stroke="#b0b0b0" stroke-width="1.2"/>
<line x1="891.05" y1="504.3" x2="891.05" y2="502.1" stroke="#b0b0b0" stroke-width="1.2"/>
<line x1="898.87" y1="504.3" x2="898.87" y2="502.1" stroke="#b0b0b0" stroke-width="1.2"/>
<line x1="906.69" y1="504.3" x2="906.69" y2="502.1" stroke="#b0b0b0" stroke-width="1.2"/>
<line x1="914.51" y1="504.3" x2="914.51" y2="502.1" stroke="#b0b0b0" stroke-width="1.2"/>
<line x1="922.33" y1="504.3" x2="922.33" y2="502.1" stroke="#b0b0b0" stroke-width="1.2"/>
<line x1="930.15" y1="504.3" x2="930.15" y2="502.1" stroke="#b0b0b0" stroke-width="1.2"/>
<line x1="937.97" y1="504.3" x2="937.97" y2="502.1" stroke="#b0b0b0" stroke-width="1.2"/>
<line x1="945.79" y1="504.3" x2="945.79" y2="502.1" stroke="#b0b0b0" stroke-width="1.2"/>
<line x1="953.62" y1="504.3" x2="953.62" y2="502.1" stroke="#b0b0b0" stroke-width="1.2"/>
<line x1="961.44" y1="504.3" x2="961.44" y2="502.1" stroke="#b0b0b0" stroke-width="1.2"/>
<line x1="969.26" y1="504.3" x2="969.26" y2="502.1" stroke="#b0b0b0" stroke-width="1.2"/>
<line x1="977.08" y1="504.3" x2="977.08" y2="502.1" stroke="#b0b0b0" stroke-width="1.2"/>
<line x1="984.9" y1="504.3" x2="984.9" y2="502.1" stroke="#b0b0b0" stroke-width="1.2"/>
<line x1="992.72" y1="504.3" x2="992.72" y2="502.1" stroke="#b0b0b0" stroke-width="1.2"/>
<line x1="1000.54" y1="504.3" x2="1000.54" y2="502.1" stroke="#b0b0b0" stroke-width="1.2"/>
<line x1="1008.36" y1="504.3" x2="1008.36" y2="502.1" stroke="#b0b0b0" stroke-width="1.2"/>
<line x1="1016.18" y1="504.3" x2="1016.18" y2="502.1" stroke="#b0b0b0" stroke-width="1.2"/>
<line x1="1024" y1="504.3" x2="1024" y2="502.1" stroke="#b0b0b0" stroke-width="1.2"/>
<line x1="1031.83" y1="504.3" x2="1031.83" y2="502.1" stroke="#b0b0b0" stroke-width="1.2"/>
<line x1="1039.65" y1="504.3" x2="1039.65" y2="502.1" stroke="#b0b0b0" stroke-width="1.2"/>
<line x1="1047.47" y1="504.3" x2="1047.47" y2="502.1" stroke="#b0b0b0" stroke-width="1.2"/>
<line x1="1055.29" y1="504.3" x2="1055.29" y2="502.1" stroke="#b0b0b0" stroke-width="1.2"/>
<line x1="1063.11" y1="504.3" x2="1063.11" y2="502.1" stroke="#b0b0b0" stroke-width="1.2"/>
<line x1="1070.93" y1="504.3" x2="1070.93" y2="502.1" stroke="#b0b0b0" stroke-width="1.2"/>
<line x1="1078.75" y1="504.3" x2="1078.75" y2="502.1" stroke="#b0b0b0" stroke-width="1.2"/>
<line x1="1086.57" y1="504.3" x2="1086.57" y2="502.1" stroke="#b0b0b0" stroke-width="1.2"/>
<line x1="1094.39" y1="504.3" x2="1094.39" y2="502.1" stroke="#b0b0b0" stroke-width="1.2"/>
<line x1="1102.21" y1="504.3" x2="1102.21" y2="502.1" stroke="#b0b0b0" stroke-width="1.2"/>
<line x1="1110.04" y1="504.3" x2="1110.04" y2="502.1" stroke="#b0b0b0" stroke-width="1.2"/>
<line x1="1117.86" y1="504.3" x2="1117.86" y2="502.1" stroke="#b0b0b0" stroke-width="1.2"/>
<line x1="1125.68" y1="504.3" x2="1125.68" y2="502.1" stroke="#b0b0b0" stroke-width="1.2"/>
<line x1="1133.5" y1="504.3" x2="1133.5" y2="502.1" stroke="#b0b0b0" stroke-width="1.2"/>
<line x1="1141.32" y1="504.3" x2="1141.32" y2="502.1" stroke="#b0b0b0" stroke-width="1.2"/>
<line x1="1149.14" y1="504.3" x2="1149.14" y2="502.1" stroke="#b0b0b0" stroke-width="1.2"/>
<line x1="1156.96" y1="504.3" x2="1156.96" y2="502.1" stroke="#b0b0b0" stroke-width="1.2"/>
<line x1="1164.78" y1="504.3" x2="1164.78" y2="502.1" stroke="#b0b0b0" stroke-width="1.2"/>
<line x1="1172.6" y1="504.3" x2="1172.6" y2="502.1" stroke="#b0b0b0" stroke-width="1.2"/>
<line x1="1180.42" y1="504.3" x2="1180.42" y2="502.1" stroke="#b0b0b0" stroke-width="1.2"/>
<line x1="1188.25" y1="504.3" x2="1188.25" y2="502.1" stroke="#b0b0b0" stroke-width="1.2"/>
<line x1="1196.07" y1="504.3" x2="1196.07" y2="502.1" stroke="#b0b0b0" stroke-width="1.2"/>
<line x1="1203.89" y1="504.3" x2="1203.89" y2="502.1" stroke="#b0b0b0" stroke-width="1.2"/>
<line x1="1211.71" y1="504.3" x2="1211.71" y2="502.1" stroke="#b0b0b0" stroke-width="1.2"/>
<line x1="1219.53" y1="504.3" x2="1219.53" y2="502.1" stroke="#b0b0b0" stroke-width="1.2"/>
<line x1="1227.35" y1="504.3" x2="1227.35" y2="502.1" stroke="#b0b0b0" stroke-width="1.2"/>
<line x1="1235.17" y1="504.3" x2="1235.17" y2="502.1" stroke="#b0b0b0" stroke-width="1.2"/>
<line x1="1242.99" y1="504.3" x2="1242.99" y2="502.1" stroke="#b0b0b0" stroke-width="1.2"/>
<line x1="1250.81" y1="504.3" x2="1250.81" y2="502.1" stroke="#b0b0b0" stroke-width="1.2"/>
<text x="1266.3" y="639.9" font-family="'Liberation Sans', sans-serif" font-size="15" font-weight="normal" fill="#000" text-anchor="start" textLength="19" lengthAdjust="spacingAndGlyphs">1B</text>
<line x1="1261.3" y1="635.9" x2="1265.3" y2="635.9" stroke="#b0b0b0" stroke-width="1.3"/>
<text x="1266.3" y="619.3" font-family="'Liberation Sans', sans-serif" font-size="15" font-weight="normal" fill="#000" text-anchor="start" textLength="19" lengthAdjust="spacingAndGlyphs">2B</text>
<line x1="1261.3" y1="615.3" x2="1265.3" y2="615.3" stroke="#b0b0b0" stroke-width="1.3"/>
<text x="1266.3" y="598.7" font-family="'Liberation Sans', sans-serif" font-size="15" font-weight="normal" fill="#000" text-anchor="start" textLength="19" lengthAdjust="spacingAndGlyphs">3B</text>
<line x1="1261.3" y1="594.7" x2="1265.3" y2="594.7" stroke="#b0b0b0" stroke-width="1.3"/>
<text x="1266.3" y="578.1" font-family="'Liberation Sans', sans-serif" font-size="15" font-weight="normal" fill="#000" text-anchor="start" textLength="19" lengthAdjust="spacingAndGlyphs">4B</text>
<line x1="1261.3" y1="574.1" x2="1265.3" y2="574.1" stroke="#b0b0b0" stroke-width="1.3"/>
<text x="1266.3" y="557.5" font-family="'Liberation Sans', sans-serif" font-size="15" font-weight="normal" fill="#000" text-anchor="start" textLength="19" lengthAdjust="spacingAndGlyphs">5B</text>
<line x1="1261.3" y1="553.5" x2="1265.3" y2="553.5" stroke="#b0b0b0" stroke-width="1.3"/>
<text x="1266.3" y="536.9" font-family="'Liberation Sans', sans-serif" font-size="15" font-weight="normal" fill="#000" text-anchor="start" textLength="19" lengthAdjust="spacingAndGlyphs">6B</text>
<line x1="1261.3" y1="532.9" x2="1265.3" y2="532.9" stroke="#b0b0b0" stroke-width="1.3"/>
<text x="1266.3" y="516.3" font-family="'Liberation Sans', sans-serif" font-size="15" font-weight="normal" fill="#000" text-anchor="start" textLength="19" lengthAdjust="spacingAndGlyphs">7B</text>
<line x1="1261.3" y1="512.3" x2="1265.3" y2="512.3" stroke="#b0b0b0" stroke-width="1.3"/>
<polygon fill="#fff" stroke="#000" stroke-width="1.8" points="1257.6,566.8 1263.5,558.8 1328.6,558.8 1328.6,574.9 1263.5,574.9"/>
<text x="1264.6" y="572.3" font-family="'Liberation Sans', sans-serif" font-size="15" font-weight="normal" fill="#000" text-anchor="start" textLength="63.5" lengthAdjust="spacingAndGlyphs">4263673</text>
</g>
<g id="adx">
<line x1="25.8" y1="802.6" x2="1261.3" y2="802.6" stroke="#e0e0e0" stroke-width="1.15"/>
<line x1="25.8" y1="779.3" x2="1261.3" y2="779.3" stroke="#e0e0e0" stroke-width="1.15"/>
<line x1="25.8" y1="756" x2="1261.3" y2="756" stroke="#e0e0e0" stroke-width="1.15"/>
<line x1="25.8" y1="732.7" x2="1261.3" y2="732.7" stroke="#e0e0e0" stroke-width="1.15"/>
<line x1="25.8" y1="709.4" x2="1261.3" y2="709.4" stroke="#e0e0e0" stroke-width="1.15"/>
<line x1="25.8" y1="686.1" x2="1261.3" y2="686.1" stroke="#e0e0e0" stroke-width="1.15"/>
<line x1="25.8" y1="662.8" x2="1261.3" y2="662.8" stroke="#e0e0e0" stroke-width="1.15"/>
<line x1="54.2" y1="656.7" x2="54.2" y2="810.7" stroke="#e0e0e0" stroke-width="1.15"/>
<line x1="93.31" y1="656.7" x2="93.31" y2="810.7" stroke="#e0e0e0" stroke-width="1.15"/>
<line x1="124.59" y1="656.7" x2="124.59" y2="810.7" stroke="#e0e0e0" stroke-width="1.15"/>
<line x1="163.69" y1="656.7" x2="163.69" y2="810.7" stroke="#e0e0e0" stroke-width="1.15"/>
<line x1="202.8" y1="656.7" x2="202.8" y2="810.7" stroke="#e0e0e0" stroke-width="1.15"/>
<line x1="241.9" y1="656.7" x2="241.9" y2="810.7" stroke="#e0e0e0" stroke-width="1.15"/>
<line x1="281.01" y1="656.7" x2="281.01" y2="810.7" stroke="#e0e0e0" stroke-width="1.15"/>
<line x1="320.11" y1="656.7" x2="320.11" y2="810.7" stroke="#e0e0e0" stroke-width="1.15"/>
<line x1="359.22" y1="656.7" x2="359.22" y2="810.7" stroke="#e0e0e0" stroke-width="1.15"/>
<line x1="398.32" y1="656.7" x2="398.32" y2="810.7" stroke="#e0e0e0" stroke-width="1.15"/>
<line x1="468.71" y1="656.7" x2="468.71" y2="810.7" stroke="#e0e0e0" stroke-width="1.15"/>
<line x1="507.82" y1="656.7" x2="507.82" y2="810.7" stroke="#e0e0e0" stroke-width="1.15"/>
<line x1="546.92" y1="656.7" x2="546.92" y2="810.7" stroke="#e0e0e0" stroke-width="1.15"/>
<line x1="586.03" y1="656.7" x2="586.03" y2="810.7" stroke="#e0e0e0" stroke-width="1.15"/>
<line x1="625.13" y1="656.7" x2="625.13" y2="810.7" stroke="#e0e0e0" stroke-width="1.15"/>
<line x1="664.24" y1="656.7" x2="664.24" y2="810.7" stroke="#e0e0e0" stroke-width="1.15"/>
<line x1="703.34" y1="656.7" x2="703.34" y2="810.7" stroke="#e0e0e0" stroke-width="1.15"/>
<line x1="742.45" y1="656.7" x2="742.45" y2="810.7" stroke="#e0e0e0" stroke-width="1.15"/>
<line x1="820.66" y1="656.7" x2="820.66" y2="810.7" stroke="#e0e0e0" stroke-width="1.15"/>
<line x1="859.76" y1="656.7" x2="859.76" y2="810.7" stroke="#e0e0e0" stroke-width="1.15"/>
<line x1="898.87" y1="656.7" x2="898.87" y2="810.7" stroke="#e0e0e0" stroke-width="1.15"/>
<line x1="969.26" y1="656.7" x2="969.26" y2="810.7" stroke="#e0e0e0" stroke-width="1.15"/>
<line x1="1008.36" y1="656.7" x2="1008.36" y2="810.7" stroke="#e0e0e0" stroke-width="1.15"/>
<line x1="1047.47" y1="656.7" x2="1047.47" y2="810.7" stroke="#e0e0e0" stroke-width="1.15"/>
<line x1="1078.75" y1="656.7" x2="1078.75" y2="810.7" stroke="#e0e0e0" stroke-width="1.15"/>
<line x1="1110.04" y1="656.7" x2="1110.04" y2="810.7" stroke="#e0e0e0" stroke-width="1.15"/>
<line x1="1149.14" y1="656.7" x2="1149.14" y2="810.7" stroke="#e0e0e0" stroke-width="1.15"/>
<line x1="1188.25" y1="656.7" x2="1188.25" y2="810.7" stroke="#e0e0e0" stroke-width="1.15"/>
<line x1="1219.53" y1="656.7" x2="1219.53" y2="810.7" stroke="#e0e0e0" stroke-width="1.15"/>
<line x1="101.13" y1="656.7" x2="101.13" y2="810.7" stroke="#cecece" stroke-width="1.5"/>
<line x1="273.19" y1="656.7" x2="273.19" y2="810.7" stroke="#cecece" stroke-width="1.5"/>
<line x1="437.43" y1="656.7" x2="437.43" y2="810.7" stroke="#cecece" stroke-width="1.5"/>
<line x1="601.67" y1="656.7" x2="601.67" y2="810.7" stroke="#cecece" stroke-width="1.5"/>
<line x1="781.55" y1="656.7" x2="781.55" y2="810.7" stroke="#cecece" stroke-width="1.5"/>
<line x1="930.15" y1="656.7" x2="930.15" y2="810.7" stroke="#cecece" stroke-width="1.5"/>
<line x1="1102.21" y1="656.7" x2="1102.21" y2="810.7" stroke="#b8b8b8" stroke-width="1.5"/>
<clipPath id="c3"><rect x="25.8" y="656.7" width="1235.5" height="154"/></clipPath>
<g clip-path="url(#c3)">
<polyline fill="none" stroke="#1d7a55" stroke-width="1.9" stroke-linejoin="round" stroke-linecap="round" points="25.8,736.87 30.74,740.48 38.56,746.5 46.38,752.52 54.2,756.13 62.02,729.64 69.84,729.16 77.66,716.4 85.48,705.57 93.31,698.34 101.13,704.36 108.95,700.75 116.77,680.28 124.59,694.73 132.41,699.55 140.23,693.53 148.05,688.71 155.87,695.93 163.69,700.75 171.51,697.14 179.34,709.18 187.16,695.93 194.98,693.53 202.8,688.71 210.62,695.93 218.44,679.08 226.26,669.45 234.08,671.86 241.9,677.88 249.73,687.51 257.55,699.55 265.37,701.95 273.19,722.42 281.01,713.99 288.83,715.2 296.65,720.01 304.47,712.31 312.29,718.09 320.11,718.09 327.94,705.57 335.76,694.73 343.58,700.75 351.4,703.88 359.22,707.49 367.04,717.12 374.86,730.85 382.68,736.87 390.5,703.16 398.32,709.18 406.14,715.2 413.97,709.18 421.79,702.68 429.61,716.4 437.43,733.26 445.25,713.99 453.07,695.45 460.89,695.45 468.71,701.23 476.53,701.23 484.35,687.51 492.18,676.67 500,678.36 507.82,673.06 515.64,675.47 523.46,693.04 531.28,684.38 539.1,683.89 546.92,677.88 554.74,690.64 562.57,703.16 570.39,717.12 578.21,705.57 586.03,693.53 593.85,694.73 601.67,692.32 609.49,691.84 617.31,689.19 625.13,695.93 632.95,707.97 640.77,716.4 648.6,720.01 656.42,753.72 664.24,765.76 672.06,776.12 679.88,764.56 687.7,772.99 695.52,779.49 703.34,756.13 711.16,754.21 718.99,761.43 726.81,763.84 734.63,738.07 742.45,718.81 750.27,709.18 758.09,717.12 765.91,727.24 773.73,735.66 781.55,742.89 789.37,750.83 797.2,753.24 805.02,762.15 812.84,770.1 820.66,731.57 828.48,729.16 836.3,727.72 844.12,741.68 851.94,753.72 859.76,763.36 867.58,771.06 875.4,768.65 883.23,754.21 891.05,763.36 898.87,751.32 906.69,739.28 914.51,726.03 922.33,723.14 930.15,727.24 937.97,729.16 945.79,730.85 953.62,732.53 961.44,724.83 969.26,730.37 977.08,733.74 984.9,726.03 992.72,733.26 1000.54,745.3 1008.36,751.32 1016.18,756.13 1024,765.76 1031.83,770.1 1039.65,765.28 1047.47,749.63 1055.29,740.48 1063.11,731.33 1070.93,729.16 1078.75,735.66 1086.57,739.28 1094.39,746.5 1102.21,754.21 1110.04,747.7 1117.86,737.59 1125.68,733.98 1133.5,738.79 1141.32,719.53 1149.14,723.14 1156.96,731.57 1164.78,741.68 1172.6,727.24 1180.42,733.98 1188.25,754.21 1196.07,746.5 1203.89,740 1211.71,745.3 1219.53,734.46 1227.35,726.03 1235.17,724.35 1242.99,740.48 1250.81,749.63"/>
<polyline fill="none" stroke="#a0143c" stroke-width="1.9" stroke-linejoin="round" stroke-linecap="round" points="25.8,759.74 30.74,756.13 38.56,758.54 46.38,756.13 54.2,763.84 62.02,770.1 69.84,773.47 77.66,777.8 85.48,781.41 93.31,784.54 101.13,787.43 108.95,790.32 116.77,793.45 124.59,774.19 132.41,775.88 140.23,780.21 148.05,783.82 155.87,779.73 163.69,782.62 171.51,786.95 179.34,768.65 187.16,772.99 194.98,776.6 202.8,780.69 210.62,770.58 218.44,774.67 226.26,777.8 234.08,780.93 241.9,784.3 249.73,779.49 257.55,766.97 265.37,777.8 273.19,722.42 281.01,736.87 288.83,745.3 296.65,753.72 304.47,761.67 312.29,766.97 320.11,770.58 327.94,777.8 335.76,780.21 343.58,780.69 351.4,783.82 359.22,784.3 367.04,764.56 374.86,737.35 382.68,742.89 390.5,758.54 398.32,762.15 406.14,760.47 413.97,765.28 421.79,770.1 429.61,762.15 437.43,721.94 445.25,729.64 453.07,738.07 460.89,748.91 468.71,753.72 476.53,757.34 484.35,764.56 492.18,770.1 500,772.99 507.82,776.12 515.64,779.49 523.46,754.21 531.28,760.95 539.1,766.24 546.92,772.26 554.74,777.8 562.57,766.97 570.39,740.48 578.21,747.7 586.03,752.52 593.85,758.54 601.67,765.76 609.49,770.58 617.31,776.6 625.13,780.69 632.95,774.19 640.77,779.01 648.6,784.3 656.42,709.18 664.24,727.24 672.06,710.86 679.88,724.83 687.7,731.57 695.52,739.76 703.34,749.39 711.16,751.32 718.99,729.64 726.81,735.66 734.63,744.09 742.45,753.72 750.27,757.82 758.09,754.21 765.91,746.5 773.73,749.39 781.55,755.65 789.37,738.79 797.2,746.5 805.02,727.24 812.84,707.49 820.66,721.22 828.48,727.24 836.3,732.53 844.12,700.75 851.94,685.82 859.76,697.86 867.58,685.82 875.4,698.34 883.23,724.83 891.05,735.66 898.87,745.3 906.69,751.32 914.51,755.65 922.33,759.02 930.15,756.13 937.97,759.02 945.79,762.15 953.62,765.28 961.44,768.17 969.26,759.02 977.08,762.15 984.9,770.1 992.72,772.99 1000.54,766.49 1008.36,771.78 1016.18,756.13 1024,747.7 1031.83,756.13 1039.65,763.36 1047.47,766.97 1055.29,770 1063.11,773.04 1070.93,774.87 1078.75,760.68 1086.57,763.93 1094.39,742.72 1102.21,740.31 1110.04,748.79 1117.86,753.63 1125.68,759.09 1133.5,751.46 1141.32,759.7 1149.14,764.56 1156.96,770 1164.78,746.6 1172.6,753.03 1180.42,751.22 1188.25,696.05 1196.07,715.44 1203.89,723.34 1211.71,730.01 1219.53,735.45 1227.35,740.91 1235.17,745.39 1242.99,711.83 1250.81,723.34"/>
<polyline fill="none" stroke="#000" stroke-width="2.7" stroke-linejoin="round" stroke-linecap="round" points="25.8,772.99 30.74,774.67 38.56,777.8 46.38,782.14 54.2,785.51 62.02,784.54 69.84,781.41 77.66,776.6 85.48,769.38 93.31,760.95 101.13,754.21 108.95,746.5 116.77,738.79 124.59,735.66 132.41,731.57 140.23,727.24 148.05,721.94 155.87,718.81 163.69,715.2 171.51,710.86 179.34,712.31 187.16,710.86 194.98,707.97 202.8,705.08 210.62,704.36 218.44,702.68 226.26,698.34 234.08,694.73 241.9,690.64 249.73,689.19 257.55,690.4 265.37,690.64 273.19,700.75 281.01,709.18 288.83,715.2 296.65,719.53 304.47,721.94 312.29,723.63 320.11,724.83 327.94,721.94 335.76,717.61 343.58,714.72 351.4,712.07 359.22,710.86 367.04,712.79 374.86,722.42 382.68,729.64 390.5,730.85 398.32,731.33 406.14,732.53 413.97,732.53 421.79,731.57 429.61,733.26 437.43,739.28 445.25,746.02 453.07,747.7 460.89,747.7 468.71,747.7 476.53,747.7 484.35,745.3 492.18,740.48 500,734.46 507.82,729.16 515.64,723.63 523.46,724.83 531.28,723.63 539.1,721.94 546.92,717.12 554.74,713.51 562.57,715.68 570.39,721.22 578.21,724.83 586.03,726.27 593.85,726.03 601.67,724.35 609.49,721.22 617.31,717.61 625.13,715.2 632.95,714.72 640.77,712.79 648.6,712.07 656.42,715.92 664.24,719.53 672.06,718.81 679.88,721.94 687.7,724.83 695.52,726.51 703.34,734.46 711.16,742.17 718.99,743.61 726.81,746.98 734.63,753.72 742.45,754.93 750.27,755.65 758.09,757.34 765.91,760.47 773.73,764.56 781.55,768.17 789.37,772.99 797.2,776.12 805.02,776.12 812.84,772.99 820.66,776.12 828.48,781.41 836.3,785.51 844.12,785.75 851.94,781.41 859.76,776.12 867.58,770.1 875.4,765.28 883.23,766.49 891.05,768.17 898.87,772.51 906.69,775.39 914.51,776.12 922.33,776.12 930.15,777.8 937.97,777.8 945.79,777.8 953.62,777.32 961.44,774.67 969.26,776.12 977.08,776.12 984.9,774.67 992.72,772.99 1000.54,774.67 1008.36,776.6 1016.18,781.41 1024,785.03 1031.83,787.43 1039.65,791.05 1047.47,791.19 1055.29,789.53 1063.11,786.57 1070.93,784.06 1078.75,784.06 1086.57,784.4 1094.39,789.05 1102.21,790.71 1110.04,794.51 1117.86,796.15 1125.68,796.49 1133.5,798.15 1141.32,795.67 1149.14,793.67 1156.96,790.37 1164.78,793.19 1172.6,793.5 1180.42,795.16 1188.25,791.53 1196.07,791.53 1203.89,792.85 1211.71,794.83 1219.53,798.15 1227.35,799.81 1235.17,799.81 1242.99,799.81 1250.81,799.81"/>
</g>
<rect x="27" y="658.5" width="336.5" height="19" fill="#fff"/>
<rect x="29.6" y="666.9" width="13.8" height="2.7" fill="#000"/>
<text x="48.9" y="673.8" font-family="'DejaVu Sans', sans-serif" font-size="14.8" font-weight="normal" fill="#000" text-anchor="start" textLength="127.1" lengthAdjust="spacingAndGlyphs">ADX(14) 10.72</text>
<text x="184.5" y="673.8" font-family="'DejaVu Sans', sans-serif" font-size="14.8" font-weight="normal" fill="#006633" text-anchor="start" textLength="86.7" lengthAdjust="spacingAndGlyphs">+DI 21.33</text>
<text x="279.4" y="673.8" font-family="'DejaVu Sans', sans-serif" font-size="14.8" font-weight="normal" fill="#990033" text-anchor="start" textLength="82.3" lengthAdjust="spacingAndGlyphs">-DI 27.18</text>
<polygon fill="#808080" points="654,703.7 640.2,690 647.6,690 647.6,676.9 660.4,676.9 660.4,690 667.8,690"/>
<polygon fill="#808080" points="786.9,721.5 773.1,707.8 780.5,707.8 780.5,694.7 793.3,694.7 793.3,707.8 800.7,707.8"/>
<polygon fill="#808080" points="740.7,758 726.9,744.3 734.3,744.3 734.3,731.2 747.1,731.2 747.1,744.3 754.5,744.3" transform="rotate(180 740.7 758)"/>
<polygon fill="#808080" points="909,758 895.2,744.3 902.6,744.3 902.6,731.2 915.4,731.2 915.4,744.3 922.8,744.3" transform="rotate(180 909 758)"/>
<polygon fill="#808080" points="1021,734.3 1007.2,720.6 1014.6,720.6 1014.6,707.5 1027.4,707.5 1027.4,720.6 1034.8,720.6"/>
<polygon fill="#808080" points="1095,723.4 1081.2,709.7 1088.6,709.7 1088.6,696.6 1101.4,696.6 1101.4,709.7 1108.8,709.7"/>
<polygon fill="#808080" points="1188.9,691.4 1175.1,677.7 1182.5,677.7 1182.5,664.6 1195.3,664.6 1195.3,677.7 1202.7,677.7"/>
<polygon fill="#ff0000" points="1242.1,703.4 1228.3,689.7 1235.7,689.7 1235.7,676.6 1248.5,676.6 1248.5,689.7 1255.9,689.7"/>
<polygon fill="#808080" points="1045.6,767.2 1031.8,753.5 1039.2,753.5 1039.2,740.4 1052,740.4 1052,753.5 1059.4,753.5" transform="rotate(180 1045.6 767.2)"/>
<polygon fill="#808080" points="1114.2,758 1100.4,744.3 1107.8,744.3 1107.8,731.2 1120.6,731.2 1120.6,744.3 1128,744.3" transform="rotate(180 1114.2 758)"/>
<polygon fill="#008000" points="1226.9,757.1 1213.1,743.4 1220.5,743.4 1220.5,730.3 1233.3,730.3 1233.3,743.4 1240.7,743.4" transform="rotate(180 1226.9 757.1)"/>
<rect x="25.8" y="656.7" width="1235.5" height="154" fill="none" stroke="#b4b4b4" stroke-width="1.7"/>
<text x="1266" y="783.5" font-family="'Liberation Sans', sans-serif" font-size="15" font-weight="normal" fill="#000" text-anchor="start" textLength="18" lengthAdjust="spacingAndGlyphs">15</text>
<line x1="1261.3" y1="779.3" x2="1265.3" y2="779.3" stroke="#b0b0b0" stroke-width="1.3"/>
<text x="1266" y="760.2" font-family="'Liberation Sans', sans-serif" font-size="15" font-weight="normal" fill="#000" text-anchor="start" textLength="18" lengthAdjust="spacingAndGlyphs">20</text>
<line x1="1261.3" y1="756" x2="1265.3" y2="756" stroke="#b0b0b0" stroke-width="1.3"/>
<text x="1266" y="736.9" font-family="'Liberation Sans', sans-serif" font-size="15" font-weight="normal" fill="#000" text-anchor="start" textLength="18" lengthAdjust="spacingAndGlyphs">25</text>
<line x1="1261.3" y1="732.7" x2="1265.3" y2="732.7" stroke="#b0b0b0" stroke-width="1.3"/>
<text x="1266" y="713.6" font-family="'Liberation Sans', sans-serif" font-size="15" font-weight="normal" fill="#000" text-anchor="start" textLength="18" lengthAdjust="spacingAndGlyphs">30</text>
<line x1="1261.3" y1="709.4" x2="1265.3" y2="709.4" stroke="#b0b0b0" stroke-width="1.3"/>
<text x="1266" y="690.3" font-family="'Liberation Sans', sans-serif" font-size="15" font-weight="normal" fill="#000" text-anchor="start" textLength="18" lengthAdjust="spacingAndGlyphs">35</text>
<line x1="1261.3" y1="686.1" x2="1265.3" y2="686.1" stroke="#b0b0b0" stroke-width="1.3"/>
<text x="1266" y="667" font-family="'Liberation Sans', sans-serif" font-size="15" font-weight="normal" fill="#000" text-anchor="start" textLength="18" lengthAdjust="spacingAndGlyphs">40</text>
<line x1="1261.3" y1="662.8" x2="1265.3" y2="662.8" stroke="#b0b0b0" stroke-width="1.3"/>
<polygon fill="#fff" stroke="#990033" stroke-width="1.8" points="1257.6,721.5 1263.5,713.6 1310,713.6 1310,729.4 1263.5,729.4"/>
<text x="1265" y="726.8" font-family="'Liberation Sans', sans-serif" font-size="15" font-weight="normal" fill="#000" text-anchor="start" textLength="42" lengthAdjust="spacingAndGlyphs">27.18</text>
<polygon fill="#fff" stroke="#006633" stroke-width="1.8" points="1257.6,748.2 1263.5,740.3 1310,740.3 1310,756.1 1263.5,756.1"/>
<text x="1265" y="753.5" font-family="'Liberation Sans', sans-serif" font-size="15" font-weight="normal" fill="#000" text-anchor="start" textLength="42" lengthAdjust="spacingAndGlyphs">21.33</text>
<polygon fill="#fff" stroke="#000" stroke-width="1.8" points="1257.6,798.2 1263.5,790.3 1310,790.3 1310,806.1 1263.5,806.1"/>
<text x="1265" y="803.5" font-family="'Liberation Sans', sans-serif" font-size="15" font-weight="normal" fill="#000" text-anchor="start" textLength="42" lengthAdjust="spacingAndGlyphs">10.72</text>
</g>
<g id="obv">
<line x1="25.8" y1="817.5" x2="1261.3" y2="817.5" stroke="#e0e0e0" stroke-width="1.15"/>
<line x1="25.8" y1="841.1" x2="1261.3" y2="841.1" stroke="#e0e0e0" stroke-width="1.15"/>
<line x1="25.8" y1="865.2" x2="1261.3" y2="865.2" stroke="#e0e0e0" stroke-width="1.15"/>
<line x1="25.8" y1="889.3" x2="1261.3" y2="889.3" stroke="#e0e0e0" stroke-width="1.15"/>
<line x1="25.8" y1="912.9" x2="1261.3" y2="912.9" stroke="#e0e0e0" stroke-width="1.15"/>
<line x1="25.8" y1="936.2" x2="1261.3" y2="936.2" stroke="#e0e0e0" stroke-width="1.15"/>
<line x1="25.8" y1="959.3" x2="1261.3" y2="959.3" stroke="#e0e0e0" stroke-width="1.15"/>
<line x1="54.2" y1="810.7" x2="54.2" y2="963.2" stroke="#e0e0e0" stroke-width="1.15"/>
<line x1="93.31" y1="810.7" x2="93.31" y2="963.2" stroke="#e0e0e0" stroke-width="1.15"/>
<line x1="124.59" y1="810.7" x2="124.59" y2="963.2" stroke="#e0e0e0" stroke-width="1.15"/>
<line x1="163.69" y1="810.7" x2="163.69" y2="963.2" stroke="#e0e0e0" stroke-width="1.15"/>
<line x1="202.8" y1="810.7" x2="202.8" y2="963.2" stroke="#e0e0e0" stroke-width="1.15"/>
<line x1="241.9" y1="810.7" x2="241.9" y2="963.2" stroke="#e0e0e0" stroke-width="1.15"/>
<line x1="281.01" y1="810.7" x2="281.01" y2="963.2" stroke="#e0e0e0" stroke-width="1.15"/>
<line x1="320.11" y1="810.7" x2="320.11" y2="963.2" stroke="#e0e0e0" stroke-width="1.15"/>
<line x1="359.22" y1="810.7" x2="359.22" y2="963.2" stroke="#e0e0e0" stroke-width="1.15"/>
<line x1="398.32" y1="810.7" x2="398.32" y2="963.2" stroke="#e0e0e0" stroke-width="1.15"/>
<line x1="468.71" y1="810.7" x2="468.71" y2="963.2" stroke="#e0e0e0" stroke-width="1.15"/>
<line x1="507.82" y1="810.7" x2="507.82" y2="963.2" stroke="#e0e0e0" stroke-width="1.15"/>
<line x1="546.92" y1="810.7" x2="546.92" y2="963.2" stroke="#e0e0e0" stroke-width="1.15"/>
<line x1="586.03" y1="810.7" x2="586.03" y2="963.2" stroke="#e0e0e0" stroke-width="1.15"/>
<line x1="625.13" y1="810.7" x2="625.13" y2="963.2" stroke="#e0e0e0" stroke-width="1.15"/>
<line x1="664.24" y1="810.7" x2="664.24" y2="963.2" stroke="#e0e0e0" stroke-width="1.15"/>
<line x1="703.34" y1="810.7" x2="703.34" y2="963.2" stroke="#e0e0e0" stroke-width="1.15"/>
<line x1="742.45" y1="810.7" x2="742.45" y2="963.2" stroke="#e0e0e0" stroke-width="1.15"/>
<line x1="820.66" y1="810.7" x2="820.66" y2="963.2" stroke="#e0e0e0" stroke-width="1.15"/>
<line x1="859.76" y1="810.7" x2="859.76" y2="963.2" stroke="#e0e0e0" stroke-width="1.15"/>
<line x1="898.87" y1="810.7" x2="898.87" y2="963.2" stroke="#e0e0e0" stroke-width="1.15"/>
<line x1="969.26" y1="810.7" x2="969.26" y2="963.2" stroke="#e0e0e0" stroke-width="1.15"/>
<line x1="1008.36" y1="810.7" x2="1008.36" y2="963.2" stroke="#e0e0e0" stroke-width="1.15"/>
<line x1="1047.47" y1="810.7" x2="1047.47" y2="963.2" stroke="#e0e0e0" stroke-width="1.15"/>
<line x1="1078.75" y1="810.7" x2="1078.75" y2="963.2" stroke="#e0e0e0" stroke-width="1.15"/>
<line x1="1110.04" y1="810.7" x2="1110.04" y2="963.2" stroke="#e0e0e0" stroke-width="1.15"/>
<line x1="1149.14" y1="810.7" x2="1149.14" y2="963.2" stroke="#e0e0e0" stroke-width="1.15"/>
<line x1="1188.25" y1="810.7" x2="1188.25" y2="963.2" stroke="#e0e0e0" stroke-width="1.15"/>
<line x1="1219.53" y1="810.7" x2="1219.53" y2="963.2" stroke="#e0e0e0" stroke-width="1.15"/>
<line x1="101.13" y1="810.7" x2="101.13" y2="963.2" stroke="#cecece" stroke-width="1.5"/>
<line x1="273.19" y1="810.7" x2="273.19" y2="963.2" stroke="#cecece" stroke-width="1.5"/>
<line x1="437.43" y1="810.7" x2="437.43" y2="963.2" stroke="#cecece" stroke-width="1.5"/>
<line x1="601.67" y1="810.7" x2="601.67" y2="963.2" stroke="#cecece" stroke-width="1.5"/>
<line x1="781.55" y1="810.7" x2="781.55" y2="963.2" stroke="#cecece" stroke-width="1.5"/>
<line x1="930.15" y1="810.7" x2="930.15" y2="963.2" stroke="#cecece" stroke-width="1.5"/>
<line x1="1102.21" y1="810.7" x2="1102.21" y2="963.2" stroke="#b8b8b8" stroke-width="1.5"/>
<clipPath id="c4"><rect x="25.8" y="810.7" width="1235.5" height="152.5"/></clipPath>
<g clip-path="url(#c4)">
<polyline fill="none" stroke="#ff0000" stroke-width="1.7" stroke-linejoin="round" stroke-linecap="round" points="25.8,953.09 54.19,953.09 77.79,950.68 101.15,948.75 132.45,946.34 148.1,943.45 171.7,941.77 195.05,938.64 210.71,937.43 242.01,932.14 249.95,930.69 273.31,929.73 288.96,927.8 320.26,926.12 335.78,924.67 374.79,924.67 414.04,922.99 445.34,921.78 484.35,920.1 515.65,918.65 539.01,916.97 562.6,915.28 585.96,913.84 609.56,912.15 625.21,910.47 640,909.74 664.08,907.34 688.16,904.93 712.24,903.72 741.13,902.52 781.58,897.7 820.59,894.57 867.55,889.76 880.79,887.59 898.85,885.66 930.15,882.05 945.8,880.13 969.26,877.24 1008.27,872.9 1039.57,869.53 1063.17,866.4 1102.18,862.31 1149.13,857.49 1188.38,854.36 1219.68,850.75 1235.34,849.55 1250.75,848.34"/>
<polyline fill="none" stroke="#000" stroke-width="2.7" stroke-linejoin="round" stroke-linecap="round" points="25.8,929.01 30.74,931.41 38.56,935.03 46.38,940.56 54.2,937.43 62.02,932.62 69.84,936.95 77.66,932.62 85.48,927.8 93.31,922.99 101.13,927.8 108.95,924.67 116.77,921.78 124.59,925.39 132.41,929.49 140.23,924.91 148.05,921.78 155.87,924.67 163.69,921.78 171.51,926.6 179.34,921.78 187.16,918.17 194.98,921.78 202.8,918.65 210.62,915.28 218.44,911.43 226.26,907.34 234.08,903.72 241.9,901.32 249.73,904.93 257.55,909.74 265.37,914.08 273.19,916.97 281.01,913.84 288.83,916.97 296.65,913.84 304.47,916.97 312.29,913.84 320.11,916.97 327.94,914.08 335.76,910.95 343.58,907.82 351.4,910.95 359.22,914.08 367.04,917.45 374.86,921.78 382.68,922.99 390.5,919.86 398.32,922.99 406.14,920.1 413.97,915.76 421.79,912.15 429.61,915.28 437.43,918.65 445.25,915.28 453.07,912.15 460.89,916.97 468.71,913.84 476.53,910.95 484.35,906.13 492.18,903 500,906.13 507.82,903 515.64,906.13 523.46,909.26 531.28,905.65 539.1,898.43 546.92,894.81 554.74,898.19 562.57,901.8 570.39,906.13 578.21,903 586.03,898.91 593.85,895.78 601.67,890.48 609.49,886.87 617.31,882.53 625.13,879.64 632.95,882.78 640.77,879.64 648.6,882.53 656.42,887.35 664.24,883.98 672.06,887.35 679.88,883.98 687.7,887.35 695.52,883.98 703.34,880.85 711.16,877.72 718.99,881.33 726.81,877.72 734.63,873.14 742.45,870.01 750.27,865.68 758.09,870.01 765.91,874.83 773.73,870.49 781.55,867.12 789.37,871.7 797.2,867.12 805.02,871.7 812.84,867.12 820.66,863.99 828.48,860.86 836.3,856.05 844.12,860.86 851.94,864.48 859.76,868.81 867.58,871.94 875.4,868.81 883.23,871.94 891.05,867.12 898.87,862.31 906.69,858.7 914.51,855.57 922.33,854.36 930.15,857.97 937.97,852.68 945.79,849.06 953.62,846.42 961.44,843.04 969.26,846.42 977.08,850.03 984.9,844.73 992.72,841.6 1000.54,845.21 1008.36,849.55 1016.18,853.16 1024,857.49 1031.83,853.16 1039.65,845.21 1047.47,841.84 1055.29,840.4 1063.11,838.71 1070.93,839.91 1078.75,841.84 1086.57,844.73 1094.39,846.66 1102.21,843.53 1110.04,838.71 1117.86,835.58 1125.68,839.19 1133.5,836.3 1141.32,833.17 1149.14,827.88 1156.96,831.97 1164.78,835.82 1172.6,832.69 1180.42,837.51 1188.25,842.32 1196.07,837.51 1203.89,833.89 1211.71,829.08 1219.53,825.95 1227.35,821.37 1235.17,826.19 1242.99,830.76 1250.81,835.58"/>
</g>
<rect x="25.8" y="810.7" width="1235.5" height="152.5" fill="none" stroke="#b4b4b4" stroke-width="1.7"/>
<line x1="30.74" y1="963.2" x2="30.74" y2="965.4" stroke="#b0b0b0" stroke-width="1.2"/>
<line x1="38.56" y1="963.2" x2="38.56" y2="965.4" stroke="#b0b0b0" stroke-width="1.2"/>
<line x1="46.38" y1="963.2" x2="46.38" y2="965.4" stroke="#b0b0b0" stroke-width="1.2"/>
<line x1="54.2" y1="963.2" x2="54.2" y2="965.4" stroke="#b0b0b0" stroke-width="1.2"/>
<line x1="62.02" y1="963.2" x2="62.02" y2="965.4" stroke="#b0b0b0" stroke-width="1.2"/>
<line x1="69.84" y1="963.2" x2="69.84" y2="965.4" stroke="#b0b0b0" stroke-width="1.2"/>
<line x1="77.66" y1="963.2" x2="77.66" y2="965.4" stroke="#b0b0b0" stroke-width="1.2"/>
<line x1="85.48" y1="963.2" x2="85.48" y2="965.4" stroke="#b0b0b0" stroke-width="1.2"/>
<line x1="93.31" y1="963.2" x2="93.31" y2="965.4" stroke="#b0b0b0" stroke-width="1.2"/>
<line x1="101.13" y1="963.2" x2="101.13" y2="965.4" stroke="#b0b0b0" stroke-width="1.2"/>
<line x1="108.95" y1="963.2" x2="108.95" y2="965.4" stroke="#b0b0b0" stroke-width="1.2"/>
<line x1="116.77" y1="963.2" x2="116.77" y2="965.4" stroke="#b0b0b0" stroke-width="1.2"/>
<line x1="124.59" y1="963.2" x2="124.59" y2="965.4" stroke="#b0b0b0" stroke-width="1.2"/>
<line x1="132.41" y1="963.2" x2="132.41" y2="965.4" stroke="#b0b0b0" stroke-width="1.2"/>
<line x1="140.23" y1="963.2" x2="140.23" y2="965.4" stroke="#b0b0b0" stroke-width="1.2"/>
<line x1="148.05" y1="963.2" x2="148.05" y2="965.4" stroke="#b0b0b0" stroke-width="1.2"/>
<line x1="155.87" y1="963.2" x2="155.87" y2="965.4" stroke="#b0b0b0" stroke-width="1.2"/>
<line x1="163.69" y1="963.2" x2="163.69" y2="965.4" stroke="#b0b0b0" stroke-width="1.2"/>
<line x1="171.51" y1="963.2" x2="171.51" y2="965.4" stroke="#b0b0b0" stroke-width="1.2"/>
<line x1="179.34" y1="963.2" x2="179.34" y2="965.4" stroke="#b0b0b0" stroke-width="1.2"/>
<line x1="187.16" y1="963.2" x2="187.16" y2="965.4" stroke="#b0b0b0" stroke-width="1.2"/>
<line x1="194.98" y1="963.2" x2="194.98" y2="965.4" stroke="#b0b0b0" stroke-width="1.2"/>
<line x1="202.8" y1="963.2" x2="202.8" y2="965.4" stroke="#b0b0b0" stroke-width="1.2"/>
<line x1="210.62" y1="963.2" x2="210.62" y2="965.4" stroke="#b0b0b0" stroke-width="1.2"/>
<line x1="218.44" y1="963.2" x2="218.44" y2="965.4" stroke="#b0b0b0" stroke-width="1.2"/>
<line x1="226.26" y1="963.2" x2="226.26" y2="965.4" stroke="#b0b0b0" stroke-width="1.2"/>
<line x1="234.08" y1="963.2" x2="234.08" y2="965.4" stroke="#b0b0b0" stroke-width="1.2"/>
<line x1="241.9" y1="963.2" x2="241.9" y2="965.4" stroke="#b0b0b0" stroke-width="1.2"/>
<line x1="249.73" y1="963.2" x2="249.73" y2="965.4" stroke="#b0b0b0" stroke-width="1.2"/>
<line x1="257.55" y1="963.2" x2="257.55" y2="965.4" stroke="#b0b0b0" stroke-width="1.2"/>
<line x1="265.37" y1="963.2" x2="265.37" y2="965.4" stroke="#b0b0b0" stroke-width="1.2"/>
<line x1="273.19" y1="963.2" x2="273.19" y2="965.4" stroke="#b0b0b0" stroke-width="1.2"/>
<line x1="281.01" y1="963.2" x2="281.01" y2="965.4" stroke="#b0b0b0" stroke-width="1.2"/>
<line x1="288.83" y1="963.2" x2="288.83" y2="965.4" stroke="#b0b0b0" stroke-width="1.2"/>
<line x1="296.65" y1="963.2" x2="296.65" y2="965.4" stroke="#b0b0b0" stroke-width="1.2"/>
<line x1="304.47" y1="963.2" x2="304.47" y2="965.4" stroke="#b0b0b0" stroke-width="1.2"/>
<line x1="312.29" y1="963.2" x2="312.29" y2="965.4" stroke="#b0b0b0" stroke-width="1.2"/>
<line x1="320.11" y1="963.2" x2="320.11" y2="965.4" stroke="#b0b0b0" stroke-width="1.2"/>
<line x1="327.94" y1="963.2" x2="327.94" y2="965.4" stroke="#b0b0b0" stroke-width="1.2"/>
<line x1="335.76" y1="963.2" x2="335.76" y2="965.4" stroke="#b0b0b0" stroke-width="1.2"/>
<line x1="343.58" y1="963.2" x2="343.58" y2="965.4" stroke="#b0b0b0" stroke-width="1.2"/>
<line x1="351.4" y1="963.2" x2="351.4" y2="965.4" stroke="#b0b0b0" stroke-width="1.2"/>
<line x1="359.22" y1="963.2" x2="359.22" y2="965.4" stroke="#b0b0b0" stroke-width="1.2"/>
<line x1="367.04" y1="963.2" x2="367.04" y2="965.4" stroke="#b0b0b0" stroke-width="1.2"/>
<line x1="374.86" y1="963.2" x2="374.86" y2="965.4" stroke="#b0b0b0" stroke-width="1.2"/>
<line x1="382.68" y1="963.2" x2="382.68" y2="965.4" stroke="#b0b0b0" stroke-width="1.2"/>
<line x1="390.5" y1="963.2" x2="390.5" y2="965.4" stroke="#b0b0b0" stroke-width="1.2"/>
<line x1="398.32" y1="963.2" x2="398.32" y2="965.4" stroke="#b0b0b0" stroke-width="1.2"/>
<line x1="406.14" y1="963.2" x2="406.14" y2="965.4" stroke="#b0b0b0" stroke-width="1.2"/>
<line x1="413.97" y1="963.2" x2="413.97" y2="965.4" stroke="#b0b0b0" stroke-width="1.2"/>
<line x1="421.79" y1="963.2" x2="421.79" y2="965.4" stroke="#b0b0b0" stroke-width="1.2"/>
<line x1="429.61" y1="963.2" x2="429.61" y2="965.4" stroke="#b0b0b0" stroke-width="1.2"/>
<line x1="437.43" y1="963.2" x2="437.43" y2="965.4" stroke="#b0b0b0" stroke-width="1.2"/>
<line x1="445.25" y1="963.2" x2="445.25" y2="965.4" stroke="#b0b0b0" stroke-width="1.2"/>
<line x1="453.07" y1="963.2" x2="453.07" y2="965.4" stroke="#b0b0b0" stroke-width="1.2"/>
<line x1="460.89" y1="963.2" x2="460.89" y2="965.4" stroke="#b0b0b0" stroke-width="1.2"/>
<line x1="468.71" y1="963.2" x2="468.71" y2="965.4" stroke="#b0b0b0" stroke-width="1.2"/>
<line x1="476.53" y1="963.2" x2="476.53" y2="965.4" stroke="#b0b0b0" stroke-width="1.2"/>
<line x1="484.35" y1="963.2" x2="484.35" y2="965.4" stroke="#b0b0b0" stroke-width="1.2"/>
<line x1="492.18" y1="963.2" x2="492.18" y2="965.4" stroke="#b0b0b0" stroke-width="1.2"/>
<line x1="500" y1="963.2" x2="500" y2="965.4" stroke="#b0b0b0" stroke-width="1.2"/>
<line x1="507.82" y1="963.2" x2="507.82" y2="965.4" stroke="#b0b0b0" stroke-width="1.2"/>
<line x1="515.64" y1="963.2" x2="515.64" y2="965.4" stroke="#b0b0b0" stroke-width="1.2"/>
<line x1="523.46" y1="963.2" x2="523.46" y2="965.4" stroke="#b0b0b0" stroke-width="1.2"/>
<line x1="531.28" y1="963.2" x2="531.28" y2="965.4" stroke="#b0b0b0" stroke-width="1.2"/>
<line x1="539.1" y1="963.2" x2="539.1" y2="965.4" stroke="#b0b0b0" stroke-width="1.2"/>
<line x1="546.92" y1="963.2" x2="546.92" y2="965.4" stroke="#b0b0b0" stroke-width="1.2"/>
<line x1="554.74" y1="963.2" x2="554.74" y2="965.4" stroke="#b0b0b0" stroke-width="1.2"/>
<line x1="562.57" y1="963.2" x2="562.57" y2="965.4" stroke="#b0b0b0" stroke-width="1.2"/>
<line x1="570.39" y1="963.2" x2="570.39" y2="965.4" stroke="#b0b0b0" stroke-width="1.2"/>
<line x1="578.21" y1="963.2" x2="578.21" y2="965.4" stroke="#b0b0b0" stroke-width="1.2"/>
<line x1="586.03" y1="963.2" x2="586.03" y2="965.4" stroke="#b0b0b0" stroke-width="1.2"/>
<line x1="593.85" y1="963.2" x2="593.85" y2="965.4" stroke="#b0b0b0" stroke-width="1.2"/>
<line x1="601.67" y1="963.2" x2="601.67" y2="965.4" stroke="#b0b0b0" stroke-width="1.2"/>
<line x1="609.49" y1="963.2" x2="609.49" y2="965.4" stroke="#b0b0b0" stroke-width="1.2"/>
<line x1="617.31" y1="963.2" x2="617.31" y2="965.4" stroke="#b0b0b0" stroke-width="1.2"/>
<line x1="625.13" y1="963.2" x2="625.13" y2="965.4" stroke="#b0b0b0" stroke-width="1.2"/>
<line x1="632.95" y1="963.2" x2="632.95" y2="965.4" stroke="#b0b0b0" stroke-width="1.2"/>
<line x1="640.77" y1="963.2" x2="640.77" y2="965.4" stroke="#b0b0b0" stroke-width="1.2"/>
<line x1="648.6" y1="963.2" x2="648.6" y2="965.4" stroke="#b0b0b0" stroke-width="1.2"/>
<line x1="656.42" y1="963.2" x2="656.42" y2="965.4" stroke="#b0b0b0" stroke-width="1.2"/>
<line x1="664.24" y1="963.2" x2="664.24" y2="965.4" stroke="#b0b0b0" stroke-width="1.2"/>
<line x1="672.06" y1="963.2" x2="672.06" y2="965.4" stroke="#b0b0b0" stroke-width="1.2"/>
<line x1="679.88" y1="963.2" x2="679.88" y2="965.4" stroke="#b0b0b0" stroke-width="1.2"/>
<line x1="687.7" y1="963.2" x2="687.7" y2="965.4" stroke="#b0b0b0" stroke-width="1.2"/>
<line x1="695.52" y1="963.2" x2="695.52" y2="965.4" stroke="#b0b0b0" stroke-width="1.2"/>
<line x1="703.34" y1="963.2" x2="703.34" y2="965.4" stroke="#b0b0b0" stroke-width="1.2"/>
<line x1="711.16" y1="963.2" x2="711.16" y2="965.4" stroke="#b0b0b0" stroke-width="1.2"/>
<line x1="718.99" y1="963.2" x2="718.99" y2="965.4" stroke="#b0b0b0" stroke-width="1.2"/>
<line x1="726.81" y1="963.2" x2="726.81" y2="965.4" stroke="#b0b0b0" stroke-width="1.2"/>
<line x1="734.63" y1="963.2" x2="734.63" y2="965.4" stroke="#b0b0b0" stroke-width="1.2"/>
<line x1="742.45" y1="963.2" x2="742.45" y2="965.4" stroke="#b0b0b0" stroke-width="1.2"/>
<line x1="750.27" y1="963.2" x2="750.27" y2="965.4" stroke="#b0b0b0" stroke-width="1.2"/>
<line x1="758.09" y1="963.2" x2="758.09" y2="965.4" stroke="#b0b0b0" stroke-width="1.2"/>
<line x1="765.91" y1="963.2" x2="765.91" y2="965.4" stroke="#b0b0b0" stroke-width="1.2"/>
<line x1="773.73" y1="963.2" x2="773.73" y2="965.4" stroke="#b0b0b0" stroke-width="1.2"/>
<line x1="781.55" y1="963.2" x2="781.55" y2="965.4" stroke="#b0b0b0" stroke-width="1.2"/>
<line x1="789.37" y1="963.2" x2="789.37" y2="965.4" stroke="#b0b0b0" stroke-width="1.2"/>
<line x1="797.2" y1="963.2" x2="797.2" y2="965.4" stroke="#b0b0b0" stroke-width="1.2"/>
<line x1="805.02" y1="963.2" x2="805.02" y2="965.4" stroke="#b0b0b0" stroke-width="1.2"/>
<line x1="812.84" y1="963.2" x2="812.84" y2="965.4" stroke="#b0b0b0" stroke-width="1.2"/>
<line x1="820.66" y1="963.2" x2="820.66" y2="965.4" stroke="#b0b0b0" stroke-width="1.2"/>
<line x1="828.48" y1="963.2" x2="828.48" y2="965.4" stroke="#b0b0b0" stroke-width="1.2"/>
<line x1="836.3" y1="963.2" x2="836.3" y2="965.4" stroke="#b0b0b0" stroke-width="1.2"/>
<line x1="844.12" y1="963.2" x2="844.12" y2="965.4" stroke="#b0b0b0" stroke-width="1.2"/>
<line x1="851.94" y1="963.2" x2="851.94" y2="965.4" stroke="#b0b0b0" stroke-width="1.2"/>
<line x1="859.76" y1="963.2" x2="859.76" y2="965.4" stroke="#b0b0b0" stroke-width="1.2"/>
<line x1="867.58" y1="963.2" x2="867.58" y2="965.4" stroke="#b0b0b0" stroke-width="1.2"/>
<line x1="875.4" y1="963.2" x2="875.4" y2="965.4" stroke="#b0b0b0" stroke-width="1.2"/>
<line x1="883.23" y1="963.2" x2="883.23" y2="965.4" stroke="#b0b0b0" stroke-width="1.2"/>
<line x1="891.05" y1="963.2" x2="891.05" y2="965.4" stroke="#b0b0b0" stroke-width="1.2"/>
<line x1="898.87" y1="963.2" x2="898.87" y2="965.4" stroke="#b0b0b0" stroke-width="1.2"/>
<line x1="906.69" y1="963.2" x2="906.69" y2="965.4" stroke="#b0b0b0" stroke-width="1.2"/>
<line x1="914.51" y1="963.2" x2="914.51" y2="965.4" stroke="#b0b0b0" stroke-width="1.2"/>
<line x1="922.33" y1="963.2" x2="922.33" y2="965.4" stroke="#b0b0b0" stroke-width="1.2"/>
<line x1="930.15" y1="963.2" x2="930.15" y2="965.4" stroke="#b0b0b0" stroke-width="1.2"/>
<line x1="937.97" y1="963.2" x2="937.97" y2="965.4" stroke="#b0b0b0" stroke-width="1.2"/>
<line x1="945.79" y1="963.2" x2="945.79" y2="965.4" stroke="#b0b0b0" stroke-width="1.2"/>
<line x1="953.62" y1="963.2" x2="953.62" y2="965.4" stroke="#b0b0b0" stroke-width="1.2"/>
<line x1="961.44" y1="963.2" x2="961.44" y2="965.4" stroke="#b0b0b0" stroke-width="1.2"/>
<line x1="969.26" y1="963.2" x2="969.26" y2="965.4" stroke="#b0b0b0" stroke-width="1.2"/>
<line x1="977.08" y1="963.2" x2="977.08" y2="965.4" stroke="#b0b0b0" stroke-width="1.2"/>
<line x1="984.9" y1="963.2" x2="984.9" y2="965.4" stroke="#b0b0b0" stroke-width="1.2"/>
<line x1="992.72" y1="963.2" x2="992.72" y2="965.4" stroke="#b0b0b0" stroke-width="1.2"/>
<line x1="1000.54" y1="963.2" x2="1000.54" y2="965.4" stroke="#b0b0b0" stroke-width="1.2"/>
<line x1="1008.36" y1="963.2" x2="1008.36" y2="965.4" stroke="#b0b0b0" stroke-width="1.2"/>
<line x1="1016.18" y1="963.2" x2="1016.18" y2="965.4" stroke="#b0b0b0" stroke-width="1.2"/>
<line x1="1024" y1="963.2" x2="1024" y2="965.4" stroke="#b0b0b0" stroke-width="1.2"/>
<line x1="1031.83" y1="963.2" x2="1031.83" y2="965.4" stroke="#b0b0b0" stroke-width="1.2"/>
<line x1="1039.65" y1="963.2" x2="1039.65" y2="965.4" stroke="#b0b0b0" stroke-width="1.2"/>
<line x1="1047.47" y1="963.2" x2="1047.47" y2="965.4" stroke="#b0b0b0" stroke-width="1.2"/>
<line x1="1055.29" y1="963.2" x2="1055.29" y2="965.4" stroke="#b0b0b0" stroke-width="1.2"/>
<line x1="1063.11" y1="963.2" x2="1063.11" y2="965.4" stroke="#b0b0b0" stroke-width="1.2"/>
<line x1="1070.93" y1="963.2" x2="1070.93" y2="965.4" stroke="#b0b0b0" stroke-width="1.2"/>
<line x1="1078.75" y1="963.2" x2="1078.75" y2="965.4" stroke="#b0b0b0" stroke-width="1.2"/>
<line x1="1086.57" y1="963.2" x2="1086.57" y2="965.4" stroke="#b0b0b0" stroke-width="1.2"/>
<line x1="1094.39" y1="963.2" x2="1094.39" y2="965.4" stroke="#b0b0b0" stroke-width="1.2"/>
<line x1="1102.21" y1="963.2" x2="1102.21" y2="965.4" stroke="#b0b0b0" stroke-width="1.2"/>
<line x1="1110.04" y1="963.2" x2="1110.04" y2="965.4" stroke="#b0b0b0" stroke-width="1.2"/>
<line x1="1117.86" y1="963.2" x2="1117.86" y2="965.4" stroke="#b0b0b0" stroke-width="1.2"/>
<line x1="1125.68" y1="963.2" x2="1125.68" y2="965.4" stroke="#b0b0b0" stroke-width="1.2"/>
<line x1="1133.5" y1="963.2" x2="1133.5" y2="965.4" stroke="#b0b0b0" stroke-width="1.2"/>
<line x1="1141.32" y1="963.2" x2="1141.32" y2="965.4" stroke="#b0b0b0" stroke-width="1.2"/>
<line x1="1149.14" y1="963.2" x2="1149.14" y2="965.4" stroke="#b0b0b0" stroke-width="1.2"/>
<line x1="1156.96" y1="963.2" x2="1156.96" y2="965.4" stroke="#b0b0b0" stroke-width="1.2"/>
<line x1="1164.78" y1="963.2" x2="1164.78" y2="965.4" stroke="#b0b0b0" stroke-width="1.2"/>
<line x1="1172.6" y1="963.2" x2="1172.6" y2="965.4" stroke="#b0b0b0" stroke-width="1.2"/>
<line x1="1180.42" y1="963.2" x2="1180.42" y2="965.4" stroke="#b0b0b0" stroke-width="1.2"/>
<line x1="1188.25" y1="963.2" x2="1188.25" y2="965.4" stroke="#b0b0b0" stroke-width="1.2"/>
<line x1="1196.07" y1="963.2" x2="1196.07" y2="965.4" stroke="#b0b0b0" stroke-width="1.2"/>
<line x1="1203.89" y1="963.2" x2="1203.89" y2="965.4" stroke="#b0b0b0" stroke-width="1.2"/>
<line x1="1211.71" y1="963.2" x2="1211.71" y2="965.4" stroke="#b0b0b0" stroke-width="1.2"/>
<line x1="1219.53" y1="963.2" x2="1219.53" y2="965.4" stroke="#b0b0b0" stroke-width="1.2"/>
<line x1="1227.35" y1="963.2" x2="1227.35" y2="965.4" stroke="#b0b0b0" stroke-width="1.2"/>
<line x1="1235.17" y1="963.2" x2="1235.17" y2="965.4" stroke="#b0b0b0" stroke-width="1.2"/>
<line x1="1242.99" y1="963.2" x2="1242.99" y2="965.4" stroke="#b0b0b0" stroke-width="1.2"/>
<line x1="1250.81" y1="963.2" x2="1250.81" y2="965.4" stroke="#b0b0b0" stroke-width="1.2"/>
<rect x="27" y="812.5" width="228.5" height="18.5" fill="#fff"/>
<rect x="29.6" y="820.1" width="13.8" height="2.7" fill="#000"/>
<text x="48.9" y="827.2" font-family="'DejaVu Sans', sans-serif" font-size="14.8" font-weight="normal" fill="#000" text-anchor="start" textLength="204.7" lengthAdjust="spacingAndGlyphs">On Balance Vol, MA(62)</text>
</g>
<text x="53.4" y="980" font-family="'Liberation Sans', sans-serif" font-size="15.6" font-weight="normal" fill="#000" text-anchor="middle" textLength="18.39" lengthAdjust="spacingAndGlyphs">23</text>
<text x="123.79" y="980" font-family="'Liberation Sans', sans-serif" font-size="15.6" font-weight="normal" fill="#000" text-anchor="middle" textLength="9.2" lengthAdjust="spacingAndGlyphs">7</text>
<text x="162.89" y="980" font-family="'Liberation Sans', sans-serif" font-size="15.6" font-weight="normal" fill="#000" text-anchor="middle" textLength="18.39" lengthAdjust="spacingAndGlyphs">14</text>
<text x="202" y="980" font-family="'Liberation Sans', sans-serif" font-size="15.6" font-weight="normal" fill="#000" text-anchor="middle" textLength="18.39" lengthAdjust="spacingAndGlyphs">21</text>
<text x="241.1" y="980" font-family="'Liberation Sans', sans-serif" font-size="15.6" font-weight="normal" fill="#000" text-anchor="middle" textLength="18.39" lengthAdjust="spacingAndGlyphs">28</text>
<text x="319.31" y="980" font-family="'Liberation Sans', sans-serif" font-size="15.6" font-weight="normal" fill="#000" text-anchor="middle" textLength="17.17" lengthAdjust="spacingAndGlyphs">11</text>
<text x="358.42" y="980" font-family="'Liberation Sans', sans-serif" font-size="15.6" font-weight="normal" fill="#000" text-anchor="middle" textLength="18.39" lengthAdjust="spacingAndGlyphs">18</text>
<text x="397.52" y="980" font-family="'Liberation Sans', sans-serif" font-size="15.6" font-weight="normal" fill="#000" text-anchor="middle" textLength="18.39" lengthAdjust="spacingAndGlyphs">25</text>
<text x="467.91" y="980" font-family="'Liberation Sans', sans-serif" font-size="15.6" font-weight="normal" fill="#000" text-anchor="middle" textLength="9.2" lengthAdjust="spacingAndGlyphs">8</text>
<text x="507.02" y="980" font-family="'Liberation Sans', sans-serif" font-size="15.6" font-weight="normal" fill="#000" text-anchor="middle" textLength="18.39" lengthAdjust="spacingAndGlyphs">15</text>
<text x="546.12" y="980" font-family="'Liberation Sans', sans-serif" font-size="15.6" font-weight="normal" fill="#000" text-anchor="middle" textLength="18.39" lengthAdjust="spacingAndGlyphs">22</text>
<text x="624.33" y="980" font-family="'Liberation Sans', sans-serif" font-size="15.6" font-weight="normal" fill="#000" text-anchor="middle" textLength="9.2" lengthAdjust="spacingAndGlyphs">6</text>
<text x="663.44" y="980" font-family="'Liberation Sans', sans-serif" font-size="15.6" font-weight="normal" fill="#000" text-anchor="middle" textLength="18.39" lengthAdjust="spacingAndGlyphs">13</text>
<text x="702.54" y="980" font-family="'Liberation Sans', sans-serif" font-size="15.6" font-weight="normal" fill="#000" text-anchor="middle" textLength="18.39" lengthAdjust="spacingAndGlyphs">20</text>
<text x="741.65" y="980" font-family="'Liberation Sans', sans-serif" font-size="15.6" font-weight="normal" fill="#000" text-anchor="middle" textLength="18.39" lengthAdjust="spacingAndGlyphs">27</text>
<text x="819.86" y="980" font-family="'Liberation Sans', sans-serif" font-size="15.6" font-weight="normal" fill="#000" text-anchor="middle" textLength="18.39" lengthAdjust="spacingAndGlyphs">10</text>
<text x="858.96" y="980" font-family="'Liberation Sans', sans-serif" font-size="15.6" font-weight="normal" fill="#000" text-anchor="middle" textLength="18.39" lengthAdjust="spacingAndGlyphs">17</text>
<text x="898.07" y="980" font-family="'Liberation Sans', sans-serif" font-size="15.6" font-weight="normal" fill="#000" text-anchor="middle" textLength="18.39" lengthAdjust="spacingAndGlyphs">24</text>
<text x="968.46" y="980" font-family="'Liberation Sans', sans-serif" font-size="15.6" font-weight="normal" fill="#000" text-anchor="middle" textLength="9.2" lengthAdjust="spacingAndGlyphs">8</text>
<text x="1007.56" y="980" font-family="'Liberation Sans', sans-serif" font-size="15.6" font-weight="normal" fill="#000" text-anchor="middle" textLength="18.39" lengthAdjust="spacingAndGlyphs">15</text>
<text x="1046.67" y="980" font-family="'Liberation Sans', sans-serif" font-size="15.6" font-weight="normal" fill="#000" text-anchor="middle" textLength="18.39" lengthAdjust="spacingAndGlyphs">22</text>
<text x="1148.34" y="980" font-family="'Liberation Sans', sans-serif" font-size="15.6" font-weight="normal" fill="#000" text-anchor="middle" textLength="18.39" lengthAdjust="spacingAndGlyphs">12</text>
<text x="1187.45" y="980" font-family="'Liberation Sans', sans-serif" font-size="15.6" font-weight="normal" fill="#000" text-anchor="middle" textLength="18.39" lengthAdjust="spacingAndGlyphs">20</text>
<text x="1218.73" y="980" font-family="'Liberation Sans', sans-serif" font-size="15.6" font-weight="normal" fill="#000" text-anchor="middle" textLength="18.39" lengthAdjust="spacingAndGlyphs">26</text>
<text x="101.43" y="980.1" font-family="'Liberation Sans', sans-serif" font-size="17.7" font-weight="bold" fill="#000" text-anchor="middle" textLength="25.57" lengthAdjust="spacingAndGlyphs">Jul</text>
<text x="273.49" y="980.1" font-family="'Liberation Sans', sans-serif" font-size="17.7" font-weight="bold" fill="#000" text-anchor="middle" textLength="34.41" lengthAdjust="spacingAndGlyphs">Aug</text>
<text x="437.73" y="980.1" font-family="'Liberation Sans', sans-serif" font-size="17.7" font-weight="bold" fill="#000" text-anchor="middle" textLength="32.46" lengthAdjust="spacingAndGlyphs">Sep</text>
<text x="601.97" y="980.1" font-family="'Liberation Sans', sans-serif" font-size="17.7" font-weight="bold" fill="#000" text-anchor="middle" textLength="29.51" lengthAdjust="spacingAndGlyphs">Oct</text>
<text x="781.85" y="980.1" font-family="'Liberation Sans', sans-serif" font-size="17.7" font-weight="bold" fill="#000" text-anchor="middle" textLength="33.44" lengthAdjust="spacingAndGlyphs">Nov</text>
<text x="930.45" y="980.1" font-family="'Liberation Sans', sans-serif" font-size="17.7" font-weight="bold" fill="#000" text-anchor="middle" textLength="32.47" lengthAdjust="spacingAndGlyphs">Dec</text>
<text x="1102.51" y="980.1" font-family="'Liberation Sans', sans-serif" font-size="17.7" font-weight="bold" fill="#000" text-anchor="middle" textLength="39.38" lengthAdjust="spacingAndGlyphs">2026</text>
<line x1="54.2" y1="986.3" x2="54.2" y2="988" stroke="#d8d8d8" stroke-width="1.3"/>
<line x1="93.31" y1="986.3" x2="93.31" y2="988" stroke="#d8d8d8" stroke-width="1.3"/>
<line x1="124.59" y1="986.3" x2="124.59" y2="988" stroke="#d8d8d8" stroke-width="1.3"/>
<line x1="163.69" y1="986.3" x2="163.69" y2="988" stroke="#d8d8d8" stroke-width="1.3"/>
<line x1="202.8" y1="986.3" x2="202.8" y2="988" stroke="#d8d8d8" stroke-width="1.3"/>
<line x1="241.9" y1="986.3" x2="241.9" y2="988" stroke="#d8d8d8" stroke-width="1.3"/>
<line x1="281.01" y1="986.3" x2="281.01" y2="988" stroke="#d8d8d8" stroke-width="1.3"/>
<line x1="320.11" y1="986.3" x2="320.11" y2="988" stroke="#d8d8d8" stroke-width="1.3"/>
<line x1="359.22" y1="986.3" x2="359.22" y2="988" stroke="#d8d8d8" stroke-width="1.3"/>
<line x1="398.32" y1="986.3" x2="398.32" y2="988" stroke="#d8d8d8" stroke-width="1.3"/>
<line x1="468.71" y1="986.3" x2="468.71" y2="988" stroke="#d8d8d8" stroke-width="1.3"/>
<line x1="507.82" y1="986.3" x2="507.82" y2="988" stroke="#d8d8d8" stroke-width="1.3"/>
<line x1="546.92" y1="986.3" x2="546.92" y2="988" stroke="#d8d8d8" stroke-width="1.3"/>
<line x1="586.03" y1="986.3" x2="586.03" y2="988" stroke="#d8d8d8" stroke-width="1.3"/>
<line x1="625.13" y1="986.3" x2="625.13" y2="988" stroke="#d8d8d8" stroke-width="1.3"/>
<line x1="664.24" y1="986.3" x2="664.24" y2="988" stroke="#d8d8d8" stroke-width="1.3"/>
<line x1="703.34" y1="986.3" x2="703.34" y2="988" stroke="#d8d8d8" stroke-width="1.3"/>
<line x1="742.45" y1="986.3" x2="742.45" y2="988" stroke="#d8d8d8" stroke-width="1.3"/>
<line x1="820.66" y1="986.3" x2="820.66" y2="988" stroke="#d8d8d8" stroke-width="1.3"/>
<line x1="859.76" y1="986.3" x2="859.76" y2="988" stroke="#d8d8d8" stroke-width="1.3"/>
<line x1="898.87" y1="986.3" x2="898.87" y2="988" stroke="#d8d8d8" stroke-width="1.3"/>
<line x1="969.26" y1="986.3" x2="969.26" y2="988" stroke="#d8d8d8" stroke-width="1.3"/>
<line x1="1008.36" y1="986.3" x2="1008.36" y2="988" stroke="#d8d8d8" stroke-width="1.3"/>
<line x1="1047.47" y1="986.3" x2="1047.47" y2="988" stroke="#d8d8d8" stroke-width="1.3"/>
<line x1="1078.75" y1="986.3" x2="1078.75" y2="988" stroke="#d8d8d8" stroke-width="1.3"/>
<line x1="1110.04" y1="986.3" x2="1110.04" y2="988" stroke="#d8d8d8" stroke-width="1.3"/>
<line x1="1149.14" y1="986.3" x2="1149.14" y2="988" stroke="#d8d8d8" stroke-width="1.3"/>
<line x1="1188.25" y1="986.3" x2="1188.25" y2="988" stroke="#d8d8d8" stroke-width="1.3"/>
<line x1="1219.53" y1="986.3" x2="1219.53" y2="988" stroke="#d8d8d8" stroke-width="1.3"/>
<line x1="101.13" y1="986.3" x2="101.13" y2="988" stroke="#d8d8d8" stroke-width="1.3"/>
<line x1="273.19" y1="986.3" x2="273.19" y2="988" stroke="#d8d8d8" stroke-width="1.3"/>
<line x1="437.43" y1="986.3" x2="437.43" y2="988" stroke="#d8d8d8" stroke-width="1.3"/>
<line x1="601.67" y1="986.3" x2="601.67" y2="988" stroke="#d8d8d8" stroke-width="1.3"/>
<line x1="781.55" y1="986.3" x2="781.55" y2="988" stroke="#d8d8d8" stroke-width="1.3"/>
<line x1="930.15" y1="986.3" x2="930.15" y2="988" stroke="#d8d8d8" stroke-width="1.3"/>
<line x1="1102.21" y1="986.3" x2="1102.21" y2="988" stroke="#d8d8d8" stroke-width="1.3"/>
</svg>
</body></html>
